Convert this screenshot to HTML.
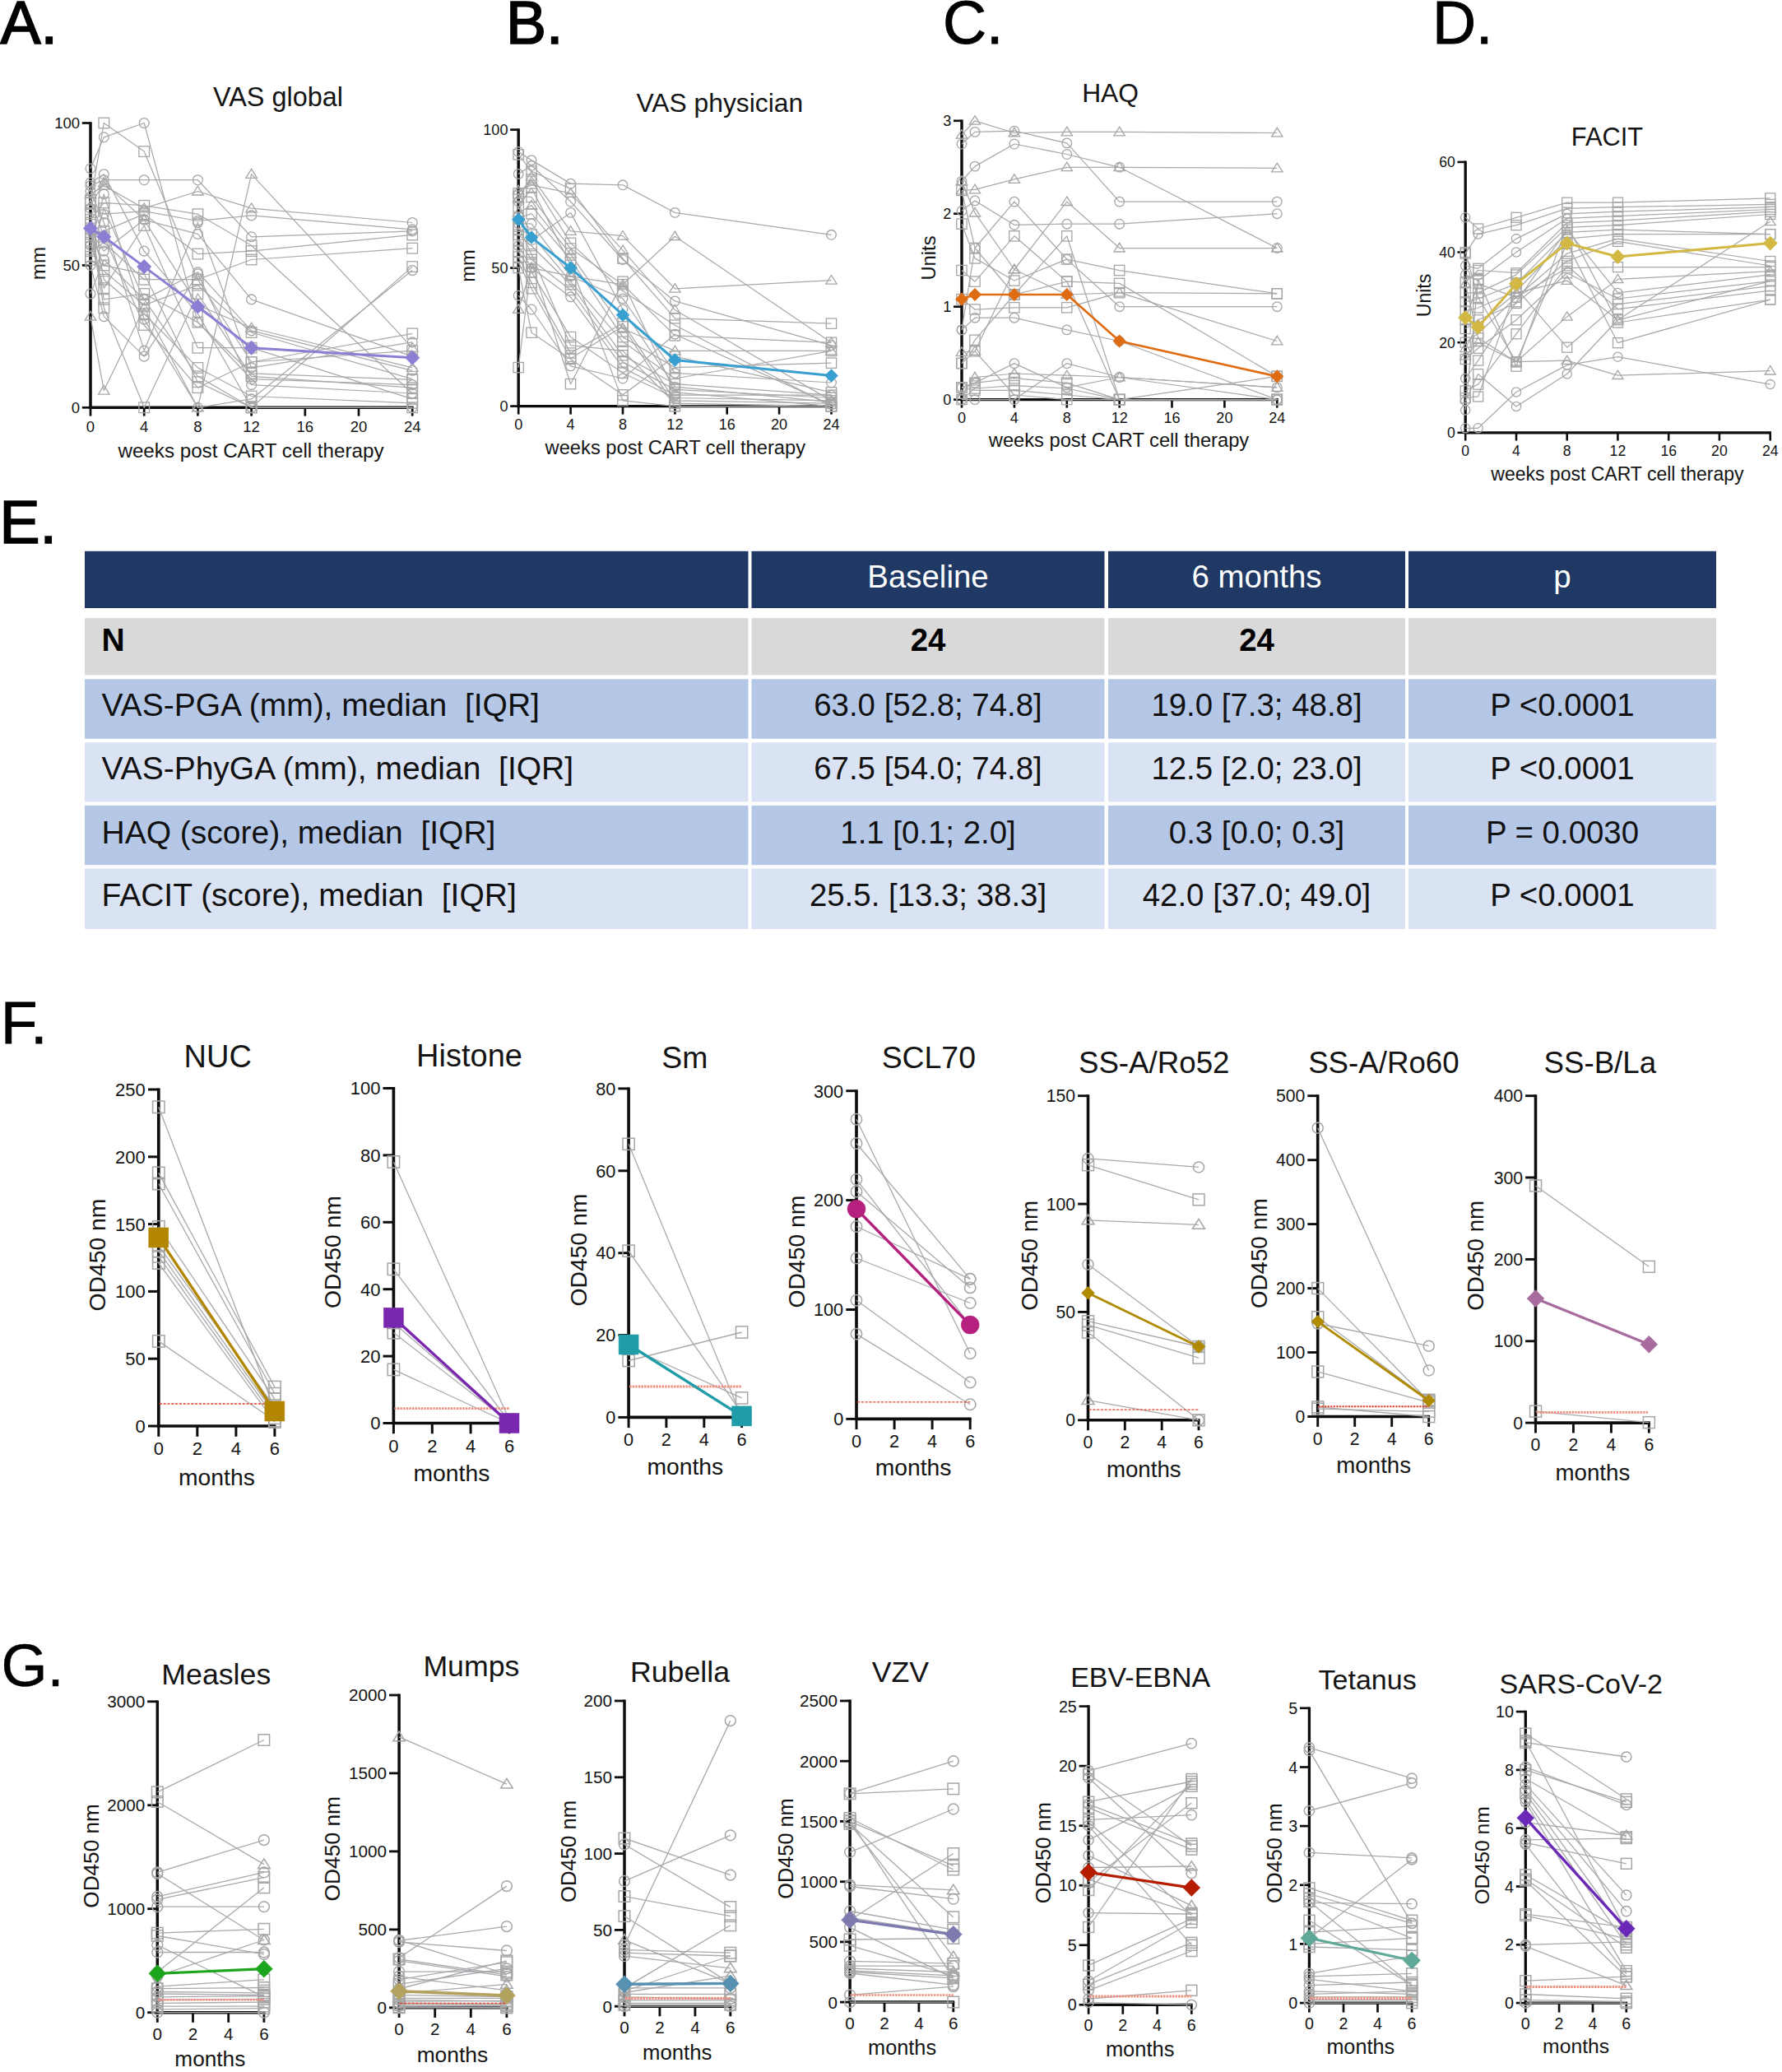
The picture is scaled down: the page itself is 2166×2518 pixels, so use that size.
<!DOCTYPE html>
<html lang="en"><head><meta charset="utf-8"><title>CAR T cell therapy outcomes</title>
<style>html,body{margin:0;padding:0;background:#fff}svg{display:block}text{font-family:"Liberation Sans", Arial, Helvetica, sans-serif;white-space:pre}</style>
</head><body>
<svg width="2166" height="2518" viewBox="0 0 2166 2518">
<rect width="2166" height="2518" fill="#fff"/>
<text x="0.5" y="52.5" font-size="73.5" fill="#000" stroke="#000" stroke-width="1.7" stroke-linejoin="miter" xml:space="preserve">A.</text>
<text x="615" y="53.4" font-size="73.5" fill="#000" stroke="#000" stroke-width="1.7" stroke-linejoin="miter" xml:space="preserve">B.</text>
<text x="1146" y="53.4" font-size="73.5" fill="#000" stroke="#000" stroke-width="0.9" stroke-linejoin="miter" xml:space="preserve">C.</text>
<text x="1741" y="53.3" font-size="73.5" fill="#000" stroke="#000" stroke-width="0.9" stroke-linejoin="miter" xml:space="preserve">D.</text>
<text x="-0.5" y="660" font-size="73.5" fill="#000" stroke="#000" stroke-width="1.7" stroke-linejoin="miter" xml:space="preserve">E.</text>
<text x="1" y="1268.3" font-size="72.5" fill="#000" stroke="#000" stroke-width="1.0" stroke-linejoin="miter" xml:space="preserve">F.</text>
<text x="1.5" y="2048.5" font-size="72" fill="#000" stroke="#000" stroke-width="0.5" stroke-linejoin="miter" xml:space="preserve">G.</text>
<rect x="103" y="669.8" width="806.5" height="69.2" fill="#203864"/>
<rect x="913.5" y="669.8" width="429" height="69.2" fill="#203864"/>
<rect x="1347" y="669.8" width="361" height="69.2" fill="#203864"/>
<rect x="1712" y="669.8" width="374" height="69.2" fill="#203864"/>
<text x="1128" y="714.2" font-size="38.4" text-anchor="middle" fill="#ffffff" xml:space="preserve">Baseline</text>
<text x="1527.5" y="714.2" font-size="38.4" text-anchor="middle" fill="#ffffff" xml:space="preserve">6 months</text>
<text x="1899" y="714.2" font-size="38.4" text-anchor="middle" fill="#ffffff" xml:space="preserve">p</text>
<rect x="103" y="751.2" width="806.5" height="69.2" fill="#d9d9d9"/>
<rect x="913.5" y="751.2" width="429" height="69.2" fill="#d9d9d9"/>
<rect x="1347" y="751.2" width="361" height="69.2" fill="#d9d9d9"/>
<rect x="1712" y="751.2" width="374" height="69.2" fill="#d9d9d9"/>
<text x="123.5" y="791.4" font-size="39" font-weight="bold" fill="#000000" xml:space="preserve">N</text>
<text x="1128" y="791.4" font-size="38.4" text-anchor="middle" font-weight="bold" fill="#000000" xml:space="preserve">24</text>
<text x="1527.5" y="791.4" font-size="38.4" text-anchor="middle" font-weight="bold" fill="#000000" xml:space="preserve">24</text>
<rect x="103" y="825.3" width="806.5" height="72.4" fill="#b4c7e7"/>
<rect x="913.5" y="825.3" width="429" height="72.4" fill="#b4c7e7"/>
<rect x="1347" y="825.3" width="361" height="72.4" fill="#b4c7e7"/>
<rect x="1712" y="825.3" width="374" height="72.4" fill="#b4c7e7"/>
<text x="123.5" y="869.6" font-size="39" fill="#111111" xml:space="preserve">VAS-PGA (mm), median  [IQR]</text>
<text x="1128" y="869.6" font-size="38.4" text-anchor="middle" fill="#111111" xml:space="preserve">63.0 [52.8; 74.8]</text>
<text x="1527.5" y="869.6" font-size="38.4" text-anchor="middle" fill="#111111" xml:space="preserve">19.0 [7.3; 48.8]</text>
<text x="1899" y="869.6" font-size="38.4" text-anchor="middle" fill="#111111" xml:space="preserve">P &lt;0.0001</text>
<rect x="103" y="902.4" width="806.5" height="72" fill="#dae3f3"/>
<rect x="913.5" y="902.4" width="429" height="72" fill="#dae3f3"/>
<rect x="1347" y="902.4" width="361" height="72" fill="#dae3f3"/>
<rect x="1712" y="902.4" width="374" height="72" fill="#dae3f3"/>
<text x="123.5" y="947" font-size="39" fill="#111111" xml:space="preserve">VAS-PhyGA (mm), median  [IQR]</text>
<text x="1128" y="947" font-size="38.4" text-anchor="middle" fill="#111111" xml:space="preserve">67.5 [54.0; 74.8]</text>
<text x="1527.5" y="947" font-size="38.4" text-anchor="middle" fill="#111111" xml:space="preserve">12.5 [2.0; 23.0]</text>
<text x="1899" y="947" font-size="38.4" text-anchor="middle" fill="#111111" xml:space="preserve">P &lt;0.0001</text>
<rect x="103" y="979" width="806.5" height="72.2" fill="#b4c7e7"/>
<rect x="913.5" y="979" width="429" height="72.2" fill="#b4c7e7"/>
<rect x="1347" y="979" width="361" height="72.2" fill="#b4c7e7"/>
<rect x="1712" y="979" width="374" height="72.2" fill="#b4c7e7"/>
<text x="123.5" y="1024.6" font-size="39" fill="#111111" xml:space="preserve">HAQ (score), median  [IQR]</text>
<text x="1128" y="1024.6" font-size="38.4" text-anchor="middle" fill="#111111" xml:space="preserve">1.1 [0.1; 2.0]</text>
<text x="1527.5" y="1024.6" font-size="38.4" text-anchor="middle" fill="#111111" xml:space="preserve">0.3 [0.0; 0.3]</text>
<text x="1899" y="1024.6" font-size="38.4" text-anchor="middle" fill="#111111" xml:space="preserve">P = 0.0030</text>
<rect x="103" y="1055.6" width="806.5" height="73.4" fill="#dae3f3"/>
<rect x="913.5" y="1055.6" width="429" height="73.4" fill="#dae3f3"/>
<rect x="1347" y="1055.6" width="361" height="73.4" fill="#dae3f3"/>
<rect x="1712" y="1055.6" width="374" height="73.4" fill="#dae3f3"/>
<text x="123.5" y="1101.2" font-size="39" fill="#111111" xml:space="preserve">FACIT (score), median  [IQR]</text>
<text x="1128" y="1101.2" font-size="38.4" text-anchor="middle" fill="#111111" xml:space="preserve">25.5. [13.3; 38.3]</text>
<text x="1527.5" y="1101.2" font-size="38.4" text-anchor="middle" fill="#111111" xml:space="preserve">42.0 [37.0; 49.0]</text>
<text x="1899" y="1101.2" font-size="38.4" text-anchor="middle" fill="#111111" xml:space="preserve">P &lt;0.0001</text>
<g>
<path d="M110 148.2 V495.3 H502.6" fill="none" stroke="#0d0d0d" stroke-width="3.5" stroke-linejoin="miter"/>
<path d="M99.8 495.3 H110" stroke="#0d0d0d" stroke-width="2.7"/>
<text x="97" y="501.9" font-size="18.5" text-anchor="end" fill="#141414" xml:space="preserve">0</text>
<path d="M99.8 322.4 H110" stroke="#0d0d0d" stroke-width="2.7"/>
<text x="97" y="329" font-size="18.5" text-anchor="end" fill="#141414" xml:space="preserve">50</text>
<path d="M99.8 149.5 H110" stroke="#0d0d0d" stroke-width="2.7"/>
<text x="97" y="156.1" font-size="18.5" text-anchor="end" fill="#141414" xml:space="preserve">100</text>
<path d="M110 495.3 V505.6" stroke="#0d0d0d" stroke-width="2.7"/>
<text x="110" y="524.6" font-size="18.5" text-anchor="middle" fill="#141414" xml:space="preserve">0</text>
<path d="M175.2 495.3 V505.6" stroke="#0d0d0d" stroke-width="2.7"/>
<text x="175.2" y="524.6" font-size="18.5" text-anchor="middle" fill="#141414" xml:space="preserve">4</text>
<path d="M240.4 495.3 V505.6" stroke="#0d0d0d" stroke-width="2.7"/>
<text x="240.4" y="524.6" font-size="18.5" text-anchor="middle" fill="#141414" xml:space="preserve">8</text>
<path d="M305.6 495.3 V505.6" stroke="#0d0d0d" stroke-width="2.7"/>
<text x="305.6" y="524.6" font-size="18.5" text-anchor="middle" fill="#141414" xml:space="preserve">12</text>
<path d="M370.8 495.3 V505.6" stroke="#0d0d0d" stroke-width="2.7"/>
<text x="370.8" y="524.6" font-size="18.5" text-anchor="middle" fill="#141414" xml:space="preserve">16</text>
<path d="M436 495.3 V505.6" stroke="#0d0d0d" stroke-width="2.7"/>
<text x="436" y="524.6" font-size="18.5" text-anchor="middle" fill="#141414" xml:space="preserve">20</text>
<path d="M501.2 495.3 V505.6" stroke="#0d0d0d" stroke-width="2.7"/>
<text x="501.2" y="524.6" font-size="18.5" text-anchor="middle" fill="#141414" xml:space="preserve">24</text>
<text x="338" y="128.6" font-size="32.4" text-anchor="middle" fill="#141414" xml:space="preserve">VAS global</text>
<text x="305" y="555.5" font-size="24.2" text-anchor="middle" fill="#141414" xml:space="preserve">weeks post CART cell therapy</text>
<text x="55" y="320" font-size="24.2" text-anchor="middle" fill="#141414" transform="rotate(-90 55 320)" xml:space="preserve">mm</text>
<g fill="none" stroke="#a9a9ad" stroke-width="1.25" stroke-linejoin="round">
<path d="M110 246.3 L126.3 149.5 L175.2 184.1 L240.4 339.7 L305.6 440 L501.2 405.4"/>
<path d="M110 204.8 L126.3 166.8 L175.2 149.5 L240.4 391.6 L305.6 460.7 L501.2 467.6"/>
<path d="M110 225.6 L126.3 218.7 L175.2 218.7 L240.4 218.7 L305.6 287.8 L501.2 280.9"/>
<path d="M110 235.9 L126.3 225.6 L175.2 253.2 L240.4 232.5 L305.6 253.2 L501.2 270.5"/>
<path d="M110 384.6 L126.3 474.6 L175.2 374.3 L240.4 495.3 L305.6 211.7 L501.2 422.7"/>
<path d="M110 267.1 L126.3 246.3 L175.2 249.8 L240.4 260.2 L305.6 298.2 L501.2 478"/>
<path d="M110 253.2 L126.3 260.2 L175.2 256.7 L240.4 268.5 L305.6 261.9 L501.2 278.8"/>
<path d="M110 287.8 L126.3 280.9 L175.2 260.2 L240.4 308.6 L305.6 305.1 L501.2 285.4"/>
<path d="M110 305.1 L126.3 294.7 L175.2 339.7 L240.4 339.7 L305.6 315.5 L501.2 301.7"/>
<path d="M110 280.9 L126.3 305.1 L175.2 267.1 L240.4 284.4 L305.6 363.9 L501.2 433.1"/>
<path d="M110 357 L126.3 315.5 L175.2 363.9 L240.4 330.7 L305.6 401.9 L501.2 450.3"/>
<path d="M110 315.5 L126.3 329.3 L175.2 370.8 L240.4 346.6 L305.6 404 L501.2 460.7"/>
<path d="M110 232.5 L126.3 270.5 L175.2 426.1 L240.4 270.5 L305.6 446.9 L501.2 415.8"/>
<path d="M110 322.4 L126.3 384.6 L175.2 433.1 L240.4 332.8 L305.6 467.6 L501.2 478"/>
<path d="M110 294.7 L126.3 350.1 L175.2 274 L240.4 422.7 L305.6 422.7 L501.2 484.9"/>
<path d="M110 277.4 L126.3 374.3 L175.2 495.3 L240.4 357 L305.6 457.3 L501.2 471.1"/>
<path d="M110 260.2 L126.3 339.7 L175.2 381.2 L240.4 446.9 L305.6 481.5 L501.2 489.8"/>
<path d="M110 312 L126.3 253.2 L175.2 363.9 L240.4 457.3 L305.6 495.3 L501.2 324.1"/>
<path d="M110 298.2 L126.3 235.9 L175.2 388.1 L240.4 495.3 L305.6 484.9 L501.2 328.6"/>
<path d="M110 242.9 L126.3 287.8 L175.2 395 L240.4 471.1 L305.6 440 L501.2 426.1"/>
<path d="M110 284.4 L126.3 322.4 L175.2 332.8 L240.4 464.2 L305.6 495.3 L501.2 495.3"/>
<path d="M110 249.8 L126.3 222.1 L175.2 267.1 L240.4 370.8 L305.6 398.5 L501.2 446.9"/>
<path d="M110 270.5 L126.3 363.9 L175.2 357 L240.4 391.6 L305.6 453.8 L501.2 461.4"/>
<path d="M110 222.1 L126.3 211.7 L175.2 305.1 L240.4 381.2 L305.6 495.3 L501.2 495.3"/>
</g>
<g>
<rect x="103.7" y="240" width="12.6" height="12.6" fill="none" stroke="#a6a6a6" stroke-width="1.3"/>
<rect x="120" y="143.2" width="12.6" height="12.6" fill="none" stroke="#a6a6a6" stroke-width="1.3"/>
<rect x="168.9" y="177.8" width="12.6" height="12.6" fill="none" stroke="#a6a6a6" stroke-width="1.3"/>
<rect x="234.1" y="333.4" width="12.6" height="12.6" fill="none" stroke="#a6a6a6" stroke-width="1.3"/>
<rect x="299.3" y="433.7" width="12.6" height="12.6" fill="none" stroke="#a6a6a6" stroke-width="1.3"/>
<rect x="494.9" y="399.1" width="12.6" height="12.6" fill="none" stroke="#a6a6a6" stroke-width="1.3"/>
<circle cx="110" cy="204.8" r="5.9" fill="none" stroke="#a6a6a6" stroke-width="1.3"/>
<circle cx="126.3" cy="166.8" r="5.9" fill="none" stroke="#a6a6a6" stroke-width="1.3"/>
<circle cx="175.2" cy="149.5" r="5.9" fill="none" stroke="#a6a6a6" stroke-width="1.3"/>
<circle cx="240.4" cy="391.6" r="5.9" fill="none" stroke="#a6a6a6" stroke-width="1.3"/>
<circle cx="305.6" cy="460.7" r="5.9" fill="none" stroke="#a6a6a6" stroke-width="1.3"/>
<circle cx="501.2" cy="467.6" r="5.9" fill="none" stroke="#a6a6a6" stroke-width="1.3"/>
<circle cx="110" cy="225.6" r="5.9" fill="none" stroke="#a6a6a6" stroke-width="1.3"/>
<circle cx="126.3" cy="218.7" r="5.9" fill="none" stroke="#a6a6a6" stroke-width="1.3"/>
<circle cx="175.2" cy="218.7" r="5.9" fill="none" stroke="#a6a6a6" stroke-width="1.3"/>
<circle cx="240.4" cy="218.7" r="5.9" fill="none" stroke="#a6a6a6" stroke-width="1.3"/>
<circle cx="305.6" cy="287.8" r="5.9" fill="none" stroke="#a6a6a6" stroke-width="1.3"/>
<circle cx="501.2" cy="280.9" r="5.9" fill="none" stroke="#a6a6a6" stroke-width="1.3"/>
<path d="M110 229.6 L116.8 240.5 L103.2 240.5 Z" fill="none" stroke="#a6a6a6" stroke-width="1.3"/>
<path d="M126.3 219.3 L133.1 230.1 L119.5 230.1 Z" fill="none" stroke="#a6a6a6" stroke-width="1.3"/>
<path d="M175.2 246.9 L182 257.8 L168.4 257.8 Z" fill="none" stroke="#a6a6a6" stroke-width="1.3"/>
<path d="M240.4 226.2 L247.2 237 L233.6 237 Z" fill="none" stroke="#a6a6a6" stroke-width="1.3"/>
<path d="M305.6 246.9 L312.4 257.8 L298.8 257.8 Z" fill="none" stroke="#a6a6a6" stroke-width="1.3"/>
<circle cx="501.2" cy="270.5" r="5.9" fill="none" stroke="#a6a6a6" stroke-width="1.3"/>
<path d="M110 378.3 L116.8 389.2 L103.2 389.2 Z" fill="none" stroke="#a6a6a6" stroke-width="1.3"/>
<path d="M126.3 468.3 L133.1 479.1 L119.5 479.1 Z" fill="none" stroke="#a6a6a6" stroke-width="1.3"/>
<path d="M175.2 368 L182 378.8 L168.4 378.8 Z" fill="none" stroke="#a6a6a6" stroke-width="1.3"/>
<path d="M240.4 489 L247.2 499.8 L233.6 499.8 Z" fill="none" stroke="#a6a6a6" stroke-width="1.3"/>
<path d="M305.6 205.4 L312.4 216.3 L298.8 216.3 Z" fill="none" stroke="#a6a6a6" stroke-width="1.3"/>
<path d="M501.2 416.4 L508 427.2 L494.4 427.2 Z" fill="none" stroke="#a6a6a6" stroke-width="1.3"/>
<rect x="103.7" y="260.8" width="12.6" height="12.6" fill="none" stroke="#a6a6a6" stroke-width="1.3"/>
<rect x="120" y="240" width="12.6" height="12.6" fill="none" stroke="#a6a6a6" stroke-width="1.3"/>
<rect x="168.9" y="243.5" width="12.6" height="12.6" fill="none" stroke="#a6a6a6" stroke-width="1.3"/>
<rect x="234.1" y="253.9" width="12.6" height="12.6" fill="none" stroke="#a6a6a6" stroke-width="1.3"/>
<rect x="299.3" y="291.9" width="12.6" height="12.6" fill="none" stroke="#a6a6a6" stroke-width="1.3"/>
<rect x="494.9" y="471.7" width="12.6" height="12.6" fill="none" stroke="#a6a6a6" stroke-width="1.3"/>
<circle cx="110" cy="253.2" r="5.9" fill="none" stroke="#a6a6a6" stroke-width="1.3"/>
<circle cx="126.3" cy="260.2" r="5.9" fill="none" stroke="#a6a6a6" stroke-width="1.3"/>
<circle cx="175.2" cy="256.7" r="5.9" fill="none" stroke="#a6a6a6" stroke-width="1.3"/>
<circle cx="240.4" cy="268.5" r="5.9" fill="none" stroke="#a6a6a6" stroke-width="1.3"/>
<circle cx="305.6" cy="261.9" r="5.9" fill="none" stroke="#a6a6a6" stroke-width="1.3"/>
<circle cx="501.2" cy="278.8" r="5.9" fill="none" stroke="#a6a6a6" stroke-width="1.3"/>
<rect x="103.7" y="281.5" width="12.6" height="12.6" fill="none" stroke="#a6a6a6" stroke-width="1.3"/>
<rect x="120" y="274.6" width="12.6" height="12.6" fill="none" stroke="#a6a6a6" stroke-width="1.3"/>
<rect x="168.9" y="253.9" width="12.6" height="12.6" fill="none" stroke="#a6a6a6" stroke-width="1.3"/>
<rect x="234.1" y="302.3" width="12.6" height="12.6" fill="none" stroke="#a6a6a6" stroke-width="1.3"/>
<rect x="299.3" y="298.8" width="12.6" height="12.6" fill="none" stroke="#a6a6a6" stroke-width="1.3"/>
<rect x="494.9" y="279.1" width="12.6" height="12.6" fill="none" stroke="#a6a6a6" stroke-width="1.3"/>
<rect x="103.7" y="298.8" width="12.6" height="12.6" fill="none" stroke="#a6a6a6" stroke-width="1.3"/>
<rect x="120" y="288.4" width="12.6" height="12.6" fill="none" stroke="#a6a6a6" stroke-width="1.3"/>
<rect x="168.9" y="333.4" width="12.6" height="12.6" fill="none" stroke="#a6a6a6" stroke-width="1.3"/>
<rect x="234.1" y="333.4" width="12.6" height="12.6" fill="none" stroke="#a6a6a6" stroke-width="1.3"/>
<rect x="299.3" y="309.2" width="12.6" height="12.6" fill="none" stroke="#a6a6a6" stroke-width="1.3"/>
<rect x="494.9" y="295.4" width="12.6" height="12.6" fill="none" stroke="#a6a6a6" stroke-width="1.3"/>
<circle cx="110" cy="280.9" r="5.9" fill="none" stroke="#a6a6a6" stroke-width="1.3"/>
<circle cx="126.3" cy="305.1" r="5.9" fill="none" stroke="#a6a6a6" stroke-width="1.3"/>
<circle cx="175.2" cy="267.1" r="5.9" fill="none" stroke="#a6a6a6" stroke-width="1.3"/>
<circle cx="240.4" cy="284.4" r="5.9" fill="none" stroke="#a6a6a6" stroke-width="1.3"/>
<circle cx="305.6" cy="363.9" r="5.9" fill="none" stroke="#a6a6a6" stroke-width="1.3"/>
<circle cx="501.2" cy="433.1" r="5.9" fill="none" stroke="#a6a6a6" stroke-width="1.3"/>
<circle cx="110" cy="357" r="5.9" fill="none" stroke="#a6a6a6" stroke-width="1.3"/>
<circle cx="126.3" cy="315.5" r="5.9" fill="none" stroke="#a6a6a6" stroke-width="1.3"/>
<circle cx="175.2" cy="363.9" r="5.9" fill="none" stroke="#a6a6a6" stroke-width="1.3"/>
<circle cx="240.4" cy="330.7" r="5.9" fill="none" stroke="#a6a6a6" stroke-width="1.3"/>
<circle cx="305.6" cy="401.9" r="5.9" fill="none" stroke="#a6a6a6" stroke-width="1.3"/>
<circle cx="501.2" cy="450.3" r="5.9" fill="none" stroke="#a6a6a6" stroke-width="1.3"/>
<rect x="103.7" y="309.2" width="12.6" height="12.6" fill="none" stroke="#a6a6a6" stroke-width="1.3"/>
<rect x="120" y="323" width="12.6" height="12.6" fill="none" stroke="#a6a6a6" stroke-width="1.3"/>
<rect x="168.9" y="364.5" width="12.6" height="12.6" fill="none" stroke="#a6a6a6" stroke-width="1.3"/>
<rect x="234.1" y="340.3" width="12.6" height="12.6" fill="none" stroke="#a6a6a6" stroke-width="1.3"/>
<rect x="299.3" y="397.7" width="12.6" height="12.6" fill="none" stroke="#a6a6a6" stroke-width="1.3"/>
<rect x="494.9" y="454.4" width="12.6" height="12.6" fill="none" stroke="#a6a6a6" stroke-width="1.3"/>
<circle cx="110" cy="232.5" r="5.9" fill="none" stroke="#a6a6a6" stroke-width="1.3"/>
<circle cx="126.3" cy="270.5" r="5.9" fill="none" stroke="#a6a6a6" stroke-width="1.3"/>
<circle cx="175.2" cy="426.1" r="5.9" fill="none" stroke="#a6a6a6" stroke-width="1.3"/>
<circle cx="240.4" cy="270.5" r="5.9" fill="none" stroke="#a6a6a6" stroke-width="1.3"/>
<circle cx="305.6" cy="446.9" r="5.9" fill="none" stroke="#a6a6a6" stroke-width="1.3"/>
<circle cx="501.2" cy="415.8" r="5.9" fill="none" stroke="#a6a6a6" stroke-width="1.3"/>
<circle cx="110" cy="322.4" r="5.9" fill="none" stroke="#a6a6a6" stroke-width="1.3"/>
<circle cx="126.3" cy="384.6" r="5.9" fill="none" stroke="#a6a6a6" stroke-width="1.3"/>
<circle cx="175.2" cy="433.1" r="5.9" fill="none" stroke="#a6a6a6" stroke-width="1.3"/>
<circle cx="240.4" cy="332.8" r="5.9" fill="none" stroke="#a6a6a6" stroke-width="1.3"/>
<circle cx="305.6" cy="467.6" r="5.9" fill="none" stroke="#a6a6a6" stroke-width="1.3"/>
<circle cx="501.2" cy="478" r="5.9" fill="none" stroke="#a6a6a6" stroke-width="1.3"/>
<rect x="103.7" y="288.4" width="12.6" height="12.6" fill="none" stroke="#a6a6a6" stroke-width="1.3"/>
<rect x="120" y="343.8" width="12.6" height="12.6" fill="none" stroke="#a6a6a6" stroke-width="1.3"/>
<rect x="168.9" y="267.7" width="12.6" height="12.6" fill="none" stroke="#a6a6a6" stroke-width="1.3"/>
<rect x="234.1" y="416.4" width="12.6" height="12.6" fill="none" stroke="#a6a6a6" stroke-width="1.3"/>
<rect x="299.3" y="416.4" width="12.6" height="12.6" fill="none" stroke="#a6a6a6" stroke-width="1.3"/>
<rect x="494.9" y="478.6" width="12.6" height="12.6" fill="none" stroke="#a6a6a6" stroke-width="1.3"/>
<rect x="103.7" y="271.1" width="12.6" height="12.6" fill="none" stroke="#a6a6a6" stroke-width="1.3"/>
<rect x="120" y="368" width="12.6" height="12.6" fill="none" stroke="#a6a6a6" stroke-width="1.3"/>
<rect x="168.9" y="489" width="12.6" height="12.6" fill="none" stroke="#a6a6a6" stroke-width="1.3"/>
<rect x="234.1" y="350.7" width="12.6" height="12.6" fill="none" stroke="#a6a6a6" stroke-width="1.3"/>
<rect x="299.3" y="451" width="12.6" height="12.6" fill="none" stroke="#a6a6a6" stroke-width="1.3"/>
<rect x="494.9" y="464.8" width="12.6" height="12.6" fill="none" stroke="#a6a6a6" stroke-width="1.3"/>
<rect x="103.7" y="253.9" width="12.6" height="12.6" fill="none" stroke="#a6a6a6" stroke-width="1.3"/>
<rect x="120" y="333.4" width="12.6" height="12.6" fill="none" stroke="#a6a6a6" stroke-width="1.3"/>
<rect x="168.9" y="374.9" width="12.6" height="12.6" fill="none" stroke="#a6a6a6" stroke-width="1.3"/>
<rect x="234.1" y="440.6" width="12.6" height="12.6" fill="none" stroke="#a6a6a6" stroke-width="1.3"/>
<rect x="299.3" y="475.2" width="12.6" height="12.6" fill="none" stroke="#a6a6a6" stroke-width="1.3"/>
<rect x="494.9" y="483.5" width="12.6" height="12.6" fill="none" stroke="#a6a6a6" stroke-width="1.3"/>
<rect x="103.7" y="305.7" width="12.6" height="12.6" fill="none" stroke="#a6a6a6" stroke-width="1.3"/>
<rect x="120" y="246.9" width="12.6" height="12.6" fill="none" stroke="#a6a6a6" stroke-width="1.3"/>
<rect x="168.9" y="357.6" width="12.6" height="12.6" fill="none" stroke="#a6a6a6" stroke-width="1.3"/>
<rect x="234.1" y="451" width="12.6" height="12.6" fill="none" stroke="#a6a6a6" stroke-width="1.3"/>
<rect x="299.3" y="489" width="12.6" height="12.6" fill="none" stroke="#a6a6a6" stroke-width="1.3"/>
<rect x="494.9" y="317.8" width="12.6" height="12.6" fill="none" stroke="#a6a6a6" stroke-width="1.3"/>
<circle cx="110" cy="298.2" r="5.9" fill="none" stroke="#a6a6a6" stroke-width="1.3"/>
<circle cx="126.3" cy="235.9" r="5.9" fill="none" stroke="#a6a6a6" stroke-width="1.3"/>
<circle cx="175.2" cy="388.1" r="5.9" fill="none" stroke="#a6a6a6" stroke-width="1.3"/>
<circle cx="240.4" cy="495.3" r="5.9" fill="none" stroke="#a6a6a6" stroke-width="1.3"/>
<circle cx="305.6" cy="484.9" r="5.9" fill="none" stroke="#a6a6a6" stroke-width="1.3"/>
<circle cx="501.2" cy="328.6" r="5.9" fill="none" stroke="#a6a6a6" stroke-width="1.3"/>
<rect x="103.7" y="236.6" width="12.6" height="12.6" fill="none" stroke="#a6a6a6" stroke-width="1.3"/>
<rect x="120" y="281.5" width="12.6" height="12.6" fill="none" stroke="#a6a6a6" stroke-width="1.3"/>
<rect x="168.9" y="388.7" width="12.6" height="12.6" fill="none" stroke="#a6a6a6" stroke-width="1.3"/>
<rect x="234.1" y="464.8" width="12.6" height="12.6" fill="none" stroke="#a6a6a6" stroke-width="1.3"/>
<rect x="299.3" y="433.7" width="12.6" height="12.6" fill="none" stroke="#a6a6a6" stroke-width="1.3"/>
<rect x="494.9" y="419.8" width="12.6" height="12.6" fill="none" stroke="#a6a6a6" stroke-width="1.3"/>
<rect x="103.7" y="278.1" width="12.6" height="12.6" fill="none" stroke="#a6a6a6" stroke-width="1.3"/>
<rect x="120" y="316.1" width="12.6" height="12.6" fill="none" stroke="#a6a6a6" stroke-width="1.3"/>
<rect x="168.9" y="326.5" width="12.6" height="12.6" fill="none" stroke="#a6a6a6" stroke-width="1.3"/>
<rect x="234.1" y="457.9" width="12.6" height="12.6" fill="none" stroke="#a6a6a6" stroke-width="1.3"/>
<rect x="299.3" y="489" width="12.6" height="12.6" fill="none" stroke="#a6a6a6" stroke-width="1.3"/>
<rect x="494.9" y="489" width="12.6" height="12.6" fill="none" stroke="#a6a6a6" stroke-width="1.3"/>
<path d="M110 243.5 L116.8 254.3 L103.2 254.3 Z" fill="none" stroke="#a6a6a6" stroke-width="1.3"/>
<path d="M126.3 215.8 L133.1 226.7 L119.5 226.7 Z" fill="none" stroke="#a6a6a6" stroke-width="1.3"/>
<path d="M175.2 260.8 L182 271.6 L168.4 271.6 Z" fill="none" stroke="#a6a6a6" stroke-width="1.3"/>
<path d="M240.4 364.5 L247.2 375.3 L233.6 375.3 Z" fill="none" stroke="#a6a6a6" stroke-width="1.3"/>
<path d="M305.6 392.2 L312.4 403 L298.8 403 Z" fill="none" stroke="#a6a6a6" stroke-width="1.3"/>
<path d="M501.2 440.6 L508 451.4 L494.4 451.4 Z" fill="none" stroke="#a6a6a6" stroke-width="1.3"/>
<rect x="103.7" y="264.2" width="12.6" height="12.6" fill="none" stroke="#a6a6a6" stroke-width="1.3"/>
<rect x="120" y="357.6" width="12.6" height="12.6" fill="none" stroke="#a6a6a6" stroke-width="1.3"/>
<rect x="168.9" y="350.7" width="12.6" height="12.6" fill="none" stroke="#a6a6a6" stroke-width="1.3"/>
<rect x="234.1" y="385.3" width="12.6" height="12.6" fill="none" stroke="#a6a6a6" stroke-width="1.3"/>
<rect x="299.3" y="447.5" width="12.6" height="12.6" fill="none" stroke="#a6a6a6" stroke-width="1.3"/>
<rect x="494.9" y="455.1" width="12.6" height="12.6" fill="none" stroke="#a6a6a6" stroke-width="1.3"/>
<circle cx="110" cy="222.1" r="5.9" fill="none" stroke="#a6a6a6" stroke-width="1.3"/>
<circle cx="126.3" cy="211.7" r="5.9" fill="none" stroke="#a6a6a6" stroke-width="1.3"/>
<circle cx="175.2" cy="305.1" r="5.9" fill="none" stroke="#a6a6a6" stroke-width="1.3"/>
<circle cx="240.4" cy="381.2" r="5.9" fill="none" stroke="#a6a6a6" stroke-width="1.3"/>
<circle cx="305.6" cy="495.3" r="5.9" fill="none" stroke="#a6a6a6" stroke-width="1.3"/>
<circle cx="501.2" cy="495.3" r="5.9" fill="none" stroke="#a6a6a6" stroke-width="1.3"/>
</g>
<path d="M110 277.4 L126.3 287.8 L175.2 324.1 L240.4 372.5 L305.6 422.7 L501.2 434.8" fill="none" stroke="#8a7fd3" stroke-width="3.0" stroke-linejoin="round"/>
<path d="M110 268.6 L118.8 277.4 L110 286.2 L101.2 277.4 Z" fill="#8a7fd3" stroke="#8a7fd3" stroke-width="0.5"/>
<path d="M126.3 279 L135.1 287.8 L126.3 296.6 L117.5 287.8 Z" fill="#8a7fd3" stroke="#8a7fd3" stroke-width="0.5"/>
<path d="M175.2 315.3 L184 324.1 L175.2 332.9 L166.4 324.1 Z" fill="#8a7fd3" stroke="#8a7fd3" stroke-width="0.5"/>
<path d="M240.4 363.7 L249.2 372.5 L240.4 381.3 L231.6 372.5 Z" fill="#8a7fd3" stroke="#8a7fd3" stroke-width="0.5"/>
<path d="M305.6 413.9 L314.4 422.7 L305.6 431.5 L296.8 422.7 Z" fill="#8a7fd3" stroke="#8a7fd3" stroke-width="0.5"/>
<path d="M501.2 426 L510 434.8 L501.2 443.6 L492.4 434.8 Z" fill="#8a7fd3" stroke="#8a7fd3" stroke-width="0.5"/>
</g>
<g>
<path d="M630.2 156.3 V493.6 H1011.8" fill="none" stroke="#0d0d0d" stroke-width="3.4299999999999997" stroke-linejoin="miter"/>
<path d="M620.2 493.6 H630.2" stroke="#0d0d0d" stroke-width="2.646"/>
<text x="617.5" y="500.1" font-size="18.1" text-anchor="end" fill="#141414" xml:space="preserve">0</text>
<path d="M620.2 325.6 H630.2" stroke="#0d0d0d" stroke-width="2.646"/>
<text x="617.5" y="332.1" font-size="18.1" text-anchor="end" fill="#141414" xml:space="preserve">50</text>
<path d="M620.2 157.6 H630.2" stroke="#0d0d0d" stroke-width="2.646"/>
<text x="617.5" y="164.1" font-size="18.1" text-anchor="end" fill="#141414" xml:space="preserve">100</text>
<path d="M630.2 493.6 V503.6" stroke="#0d0d0d" stroke-width="2.646"/>
<text x="630.2" y="522.3" font-size="18.1" text-anchor="middle" fill="#141414" xml:space="preserve">0</text>
<path d="M693.6 493.6 V503.6" stroke="#0d0d0d" stroke-width="2.646"/>
<text x="693.6" y="522.3" font-size="18.1" text-anchor="middle" fill="#141414" xml:space="preserve">4</text>
<path d="M757 493.6 V503.6" stroke="#0d0d0d" stroke-width="2.646"/>
<text x="757" y="522.3" font-size="18.1" text-anchor="middle" fill="#141414" xml:space="preserve">8</text>
<path d="M820.4 493.6 V503.6" stroke="#0d0d0d" stroke-width="2.646"/>
<text x="820.4" y="522.3" font-size="18.1" text-anchor="middle" fill="#141414" xml:space="preserve">12</text>
<path d="M883.7 493.6 V503.6" stroke="#0d0d0d" stroke-width="2.646"/>
<text x="883.7" y="522.3" font-size="18.1" text-anchor="middle" fill="#141414" xml:space="preserve">16</text>
<path d="M947.1 493.6 V503.6" stroke="#0d0d0d" stroke-width="2.646"/>
<text x="947.1" y="522.3" font-size="18.1" text-anchor="middle" fill="#141414" xml:space="preserve">20</text>
<path d="M1010.5 493.6 V503.6" stroke="#0d0d0d" stroke-width="2.646"/>
<text x="1010.5" y="522.3" font-size="18.1" text-anchor="middle" fill="#141414" xml:space="preserve">24</text>
<text x="874.8" y="135.8" font-size="31.8" text-anchor="middle" fill="#141414" xml:space="preserve">VAS physician</text>
<text x="820.8" y="552" font-size="23.7" text-anchor="middle" fill="#141414" xml:space="preserve">weeks post CART cell therapy</text>
<text x="577" y="323" font-size="23.7" text-anchor="middle" fill="#141414" transform="rotate(-90 577 323)" xml:space="preserve">mm</text>
<g fill="none" stroke="#a9a9ad" stroke-width="1.25" stroke-linejoin="round">
<path d="M630.2 184.5 L646 194.6 L693.6 223.1 L757 224.8 L820.4 258.4 L1010.5 285.3"/>
<path d="M630.2 241.6 L646 214.7 L693.6 280.9 L757 286.6 L820.4 350.8 L1010.5 340.7"/>
<path d="M630.2 376 L646 325.6 L693.6 335.7 L757 345.8 L820.4 287.3 L1010.5 416.3"/>
<path d="M630.2 211.4 L646 201.3 L693.6 245 L757 315.5 L820.4 365.9 L1010.5 419.7"/>
<path d="M630.2 231.5 L646 224.8 L693.6 234.9 L757 304.1 L820.4 376.7 L1010.5 486.9"/>
<path d="M630.2 187.8 L646 208 L693.6 229.5 L757 314.2 L820.4 386.8 L1010.5 393.1"/>
<path d="M630.2 234.9 L646 218.1 L693.6 295.4 L757 353.8 L820.4 395.2 L1010.5 493.6"/>
<path d="M630.2 238.2 L646 239.6 L693.6 302.1 L757 345.8 L820.4 407.9 L1010.5 416.3"/>
<path d="M630.2 258.4 L646 249.7 L693.6 308.8 L757 399.5 L820.4 426.4 L1010.5 426.4"/>
<path d="M630.2 265.1 L646 259.7 L693.6 315.5 L757 409.6 L820.4 446.6 L1010.5 441.2"/>
<path d="M630.2 271.8 L646 271.8 L693.6 335.7 L757 362.9 L820.4 453.3 L1010.5 465"/>
<path d="M630.2 278.6 L646 285.3 L693.6 342.4 L757 415.3 L820.4 460 L1010.5 426.4"/>
<path d="M630.2 285.3 L646 298.7 L693.6 345.8 L757 431.8 L820.4 466.7 L1010.5 480.2"/>
<path d="M630.2 292 L646 315.5 L693.6 352.5 L757 439.8 L820.4 473.4 L1010.5 483.5"/>
<path d="M630.2 298.7 L646 325.6 L693.6 360.9 L757 446.6 L820.4 480.2 L1010.5 480.2"/>
<path d="M630.2 305.4 L646 330.6 L693.6 409.6 L757 453.3 L820.4 483.5 L1010.5 486.9"/>
<path d="M630.2 312.2 L646 343.4 L693.6 429.1 L757 392.8 L820.4 486.9 L1010.5 490.2"/>
<path d="M630.2 318.9 L646 350.8 L693.6 435.5 L757 396.8 L820.4 493.6 L1010.5 493.6"/>
<path d="M630.2 359.2 L646 376 L693.6 444.9 L757 460 L820.4 406.2 L1010.5 491.9"/>
<path d="M630.2 446.6 L646 318.9 L693.6 466.7 L757 342.4 L820.4 476.8 L1010.5 493.6"/>
<path d="M630.2 325.6 L646 404.2 L693.6 436.5 L757 479.8 L820.4 433.1 L1010.5 476.8"/>
<path d="M630.2 251.7 L646 228.2 L693.6 322.2 L757 486.9 L820.4 493.6 L1010.5 493.6"/>
<path d="M630.2 245 L646 292 L693.6 258.4 L757 376 L820.4 470.1 L1010.5 488.6"/>
<path d="M630.2 275.2 L646 308.8 L693.6 419.7 L757 426.4 L820.4 490.2 L1010.5 493.6"/>
</g>
<g>
<circle cx="630.2" cy="184.5" r="5.8" fill="none" stroke="#a6a6a6" stroke-width="1.3"/>
<circle cx="646" cy="194.6" r="5.8" fill="none" stroke="#a6a6a6" stroke-width="1.3"/>
<circle cx="693.6" cy="223.1" r="5.8" fill="none" stroke="#a6a6a6" stroke-width="1.3"/>
<circle cx="757" cy="224.8" r="5.8" fill="none" stroke="#a6a6a6" stroke-width="1.3"/>
<circle cx="820.4" cy="258.4" r="5.8" fill="none" stroke="#a6a6a6" stroke-width="1.3"/>
<circle cx="1010.5" cy="285.3" r="5.8" fill="none" stroke="#a6a6a6" stroke-width="1.3"/>
<path d="M630.2 235.4 L636.9 246 L623.5 246 Z" fill="none" stroke="#a6a6a6" stroke-width="1.3"/>
<path d="M646 208.5 L652.7 219.2 L639.4 219.2 Z" fill="none" stroke="#a6a6a6" stroke-width="1.3"/>
<path d="M693.6 274.7 L700.3 285.4 L686.9 285.4 Z" fill="none" stroke="#a6a6a6" stroke-width="1.3"/>
<path d="M757 280.5 L763.6 291.1 L750.3 291.1 Z" fill="none" stroke="#a6a6a6" stroke-width="1.3"/>
<path d="M820.4 344.6 L827 355.2 L813.7 355.2 Z" fill="none" stroke="#a6a6a6" stroke-width="1.3"/>
<path d="M1010.5 334.5 L1017.2 345.2 L1003.8 345.2 Z" fill="none" stroke="#a6a6a6" stroke-width="1.3"/>
<path d="M630.2 369.8 L636.9 380.4 L623.5 380.4 Z" fill="none" stroke="#a6a6a6" stroke-width="1.3"/>
<path d="M646 319.4 L652.7 330 L639.4 330 Z" fill="none" stroke="#a6a6a6" stroke-width="1.3"/>
<path d="M693.6 329.5 L700.3 340.1 L686.9 340.1 Z" fill="none" stroke="#a6a6a6" stroke-width="1.3"/>
<path d="M757 339.6 L763.6 350.2 L750.3 350.2 Z" fill="none" stroke="#a6a6a6" stroke-width="1.3"/>
<path d="M820.4 281.1 L827 291.7 L813.7 291.7 Z" fill="none" stroke="#a6a6a6" stroke-width="1.3"/>
<path d="M1010.5 410.1 L1017.2 420.8 L1003.8 420.8 Z" fill="none" stroke="#a6a6a6" stroke-width="1.3"/>
<circle cx="630.2" cy="211.4" r="5.8" fill="none" stroke="#a6a6a6" stroke-width="1.3"/>
<circle cx="646" cy="201.3" r="5.8" fill="none" stroke="#a6a6a6" stroke-width="1.3"/>
<circle cx="693.6" cy="245" r="5.8" fill="none" stroke="#a6a6a6" stroke-width="1.3"/>
<circle cx="757" cy="315.5" r="5.8" fill="none" stroke="#a6a6a6" stroke-width="1.3"/>
<circle cx="820.4" cy="365.9" r="5.8" fill="none" stroke="#a6a6a6" stroke-width="1.3"/>
<circle cx="1010.5" cy="419.7" r="5.8" fill="none" stroke="#a6a6a6" stroke-width="1.3"/>
<path d="M630.2 225.3 L636.9 236 L623.5 236 Z" fill="none" stroke="#a6a6a6" stroke-width="1.3"/>
<path d="M646 218.6 L652.7 229.2 L639.4 229.2 Z" fill="none" stroke="#a6a6a6" stroke-width="1.3"/>
<path d="M693.6 228.7 L700.3 239.3 L686.9 239.3 Z" fill="none" stroke="#a6a6a6" stroke-width="1.3"/>
<path d="M757 297.9 L763.6 308.5 L750.3 308.5 Z" fill="none" stroke="#a6a6a6" stroke-width="1.3"/>
<path d="M820.4 370.5 L827 381.1 L813.7 381.1 Z" fill="none" stroke="#a6a6a6" stroke-width="1.3"/>
<path d="M1010.5 480.7 L1017.2 491.3 L1003.8 491.3 Z" fill="none" stroke="#a6a6a6" stroke-width="1.3"/>
<rect x="624" y="181.7" width="12.3" height="12.3" fill="none" stroke="#a6a6a6" stroke-width="1.3"/>
<rect x="639.9" y="201.8" width="12.3" height="12.3" fill="none" stroke="#a6a6a6" stroke-width="1.3"/>
<rect x="687.4" y="223.3" width="12.3" height="12.3" fill="none" stroke="#a6a6a6" stroke-width="1.3"/>
<rect x="750.8" y="308" width="12.3" height="12.3" fill="none" stroke="#a6a6a6" stroke-width="1.3"/>
<rect x="814.2" y="380.6" width="12.3" height="12.3" fill="none" stroke="#a6a6a6" stroke-width="1.3"/>
<rect x="1004.3" y="387" width="12.3" height="12.3" fill="none" stroke="#a6a6a6" stroke-width="1.3"/>
<rect x="624" y="228.7" width="12.3" height="12.3" fill="none" stroke="#a6a6a6" stroke-width="1.3"/>
<rect x="639.9" y="211.9" width="12.3" height="12.3" fill="none" stroke="#a6a6a6" stroke-width="1.3"/>
<rect x="687.4" y="289.2" width="12.3" height="12.3" fill="none" stroke="#a6a6a6" stroke-width="1.3"/>
<rect x="750.8" y="347.7" width="12.3" height="12.3" fill="none" stroke="#a6a6a6" stroke-width="1.3"/>
<rect x="814.2" y="389" width="12.3" height="12.3" fill="none" stroke="#a6a6a6" stroke-width="1.3"/>
<rect x="1004.3" y="487.4" width="12.3" height="12.3" fill="none" stroke="#a6a6a6" stroke-width="1.3"/>
<rect x="624" y="232.1" width="12.3" height="12.3" fill="none" stroke="#a6a6a6" stroke-width="1.3"/>
<rect x="639.9" y="233.4" width="12.3" height="12.3" fill="none" stroke="#a6a6a6" stroke-width="1.3"/>
<rect x="687.4" y="295.9" width="12.3" height="12.3" fill="none" stroke="#a6a6a6" stroke-width="1.3"/>
<rect x="750.8" y="339.6" width="12.3" height="12.3" fill="none" stroke="#a6a6a6" stroke-width="1.3"/>
<rect x="814.2" y="401.7" width="12.3" height="12.3" fill="none" stroke="#a6a6a6" stroke-width="1.3"/>
<rect x="1004.3" y="410.1" width="12.3" height="12.3" fill="none" stroke="#a6a6a6" stroke-width="1.3"/>
<path d="M630.2 252.2 L636.9 262.8 L623.5 262.8 Z" fill="none" stroke="#a6a6a6" stroke-width="1.3"/>
<path d="M646 243.5 L652.7 254.1 L639.4 254.1 Z" fill="none" stroke="#a6a6a6" stroke-width="1.3"/>
<path d="M693.6 302.6 L700.3 313.2 L686.9 313.2 Z" fill="none" stroke="#a6a6a6" stroke-width="1.3"/>
<path d="M757 393.3 L763.6 404 L750.3 404 Z" fill="none" stroke="#a6a6a6" stroke-width="1.3"/>
<path d="M820.4 420.2 L827 430.8 L813.7 430.8 Z" fill="none" stroke="#a6a6a6" stroke-width="1.3"/>
<path d="M1010.5 420.2 L1017.2 430.8 L1003.8 430.8 Z" fill="none" stroke="#a6a6a6" stroke-width="1.3"/>
<rect x="624" y="258.9" width="12.3" height="12.3" fill="none" stroke="#a6a6a6" stroke-width="1.3"/>
<rect x="639.9" y="253.6" width="12.3" height="12.3" fill="none" stroke="#a6a6a6" stroke-width="1.3"/>
<rect x="687.4" y="309.3" width="12.3" height="12.3" fill="none" stroke="#a6a6a6" stroke-width="1.3"/>
<rect x="750.8" y="403.4" width="12.3" height="12.3" fill="none" stroke="#a6a6a6" stroke-width="1.3"/>
<rect x="814.2" y="440.4" width="12.3" height="12.3" fill="none" stroke="#a6a6a6" stroke-width="1.3"/>
<rect x="1004.3" y="435" width="12.3" height="12.3" fill="none" stroke="#a6a6a6" stroke-width="1.3"/>
<circle cx="630.2" cy="271.8" r="5.8" fill="none" stroke="#a6a6a6" stroke-width="1.3"/>
<circle cx="646" cy="271.8" r="5.8" fill="none" stroke="#a6a6a6" stroke-width="1.3"/>
<circle cx="693.6" cy="335.7" r="5.8" fill="none" stroke="#a6a6a6" stroke-width="1.3"/>
<circle cx="757" cy="362.9" r="5.8" fill="none" stroke="#a6a6a6" stroke-width="1.3"/>
<circle cx="820.4" cy="453.3" r="5.8" fill="none" stroke="#a6a6a6" stroke-width="1.3"/>
<circle cx="1010.5" cy="465" r="5.8" fill="none" stroke="#a6a6a6" stroke-width="1.3"/>
<rect x="624" y="272.4" width="12.3" height="12.3" fill="none" stroke="#a6a6a6" stroke-width="1.3"/>
<rect x="639.9" y="279.1" width="12.3" height="12.3" fill="none" stroke="#a6a6a6" stroke-width="1.3"/>
<rect x="687.4" y="336.2" width="12.3" height="12.3" fill="none" stroke="#a6a6a6" stroke-width="1.3"/>
<rect x="750.8" y="409.1" width="12.3" height="12.3" fill="none" stroke="#a6a6a6" stroke-width="1.3"/>
<rect x="814.2" y="453.8" width="12.3" height="12.3" fill="none" stroke="#a6a6a6" stroke-width="1.3"/>
<rect x="1004.3" y="420.2" width="12.3" height="12.3" fill="none" stroke="#a6a6a6" stroke-width="1.3"/>
<rect x="624" y="279.1" width="12.3" height="12.3" fill="none" stroke="#a6a6a6" stroke-width="1.3"/>
<rect x="639.9" y="292.5" width="12.3" height="12.3" fill="none" stroke="#a6a6a6" stroke-width="1.3"/>
<rect x="687.4" y="339.6" width="12.3" height="12.3" fill="none" stroke="#a6a6a6" stroke-width="1.3"/>
<rect x="750.8" y="425.6" width="12.3" height="12.3" fill="none" stroke="#a6a6a6" stroke-width="1.3"/>
<rect x="814.2" y="460.5" width="12.3" height="12.3" fill="none" stroke="#a6a6a6" stroke-width="1.3"/>
<rect x="1004.3" y="474" width="12.3" height="12.3" fill="none" stroke="#a6a6a6" stroke-width="1.3"/>
<rect x="624" y="285.8" width="12.3" height="12.3" fill="none" stroke="#a6a6a6" stroke-width="1.3"/>
<rect x="639.9" y="309.3" width="12.3" height="12.3" fill="none" stroke="#a6a6a6" stroke-width="1.3"/>
<rect x="687.4" y="346.3" width="12.3" height="12.3" fill="none" stroke="#a6a6a6" stroke-width="1.3"/>
<rect x="750.8" y="433.7" width="12.3" height="12.3" fill="none" stroke="#a6a6a6" stroke-width="1.3"/>
<rect x="814.2" y="467.3" width="12.3" height="12.3" fill="none" stroke="#a6a6a6" stroke-width="1.3"/>
<rect x="1004.3" y="477.3" width="12.3" height="12.3" fill="none" stroke="#a6a6a6" stroke-width="1.3"/>
<circle cx="630.2" cy="298.7" r="5.8" fill="none" stroke="#a6a6a6" stroke-width="1.3"/>
<circle cx="646" cy="325.6" r="5.8" fill="none" stroke="#a6a6a6" stroke-width="1.3"/>
<circle cx="693.6" cy="360.9" r="5.8" fill="none" stroke="#a6a6a6" stroke-width="1.3"/>
<circle cx="757" cy="446.6" r="5.8" fill="none" stroke="#a6a6a6" stroke-width="1.3"/>
<circle cx="820.4" cy="480.2" r="5.8" fill="none" stroke="#a6a6a6" stroke-width="1.3"/>
<circle cx="1010.5" cy="480.2" r="5.8" fill="none" stroke="#a6a6a6" stroke-width="1.3"/>
<rect x="624" y="299.3" width="12.3" height="12.3" fill="none" stroke="#a6a6a6" stroke-width="1.3"/>
<rect x="639.9" y="324.5" width="12.3" height="12.3" fill="none" stroke="#a6a6a6" stroke-width="1.3"/>
<rect x="687.4" y="403.4" width="12.3" height="12.3" fill="none" stroke="#a6a6a6" stroke-width="1.3"/>
<rect x="750.8" y="447.1" width="12.3" height="12.3" fill="none" stroke="#a6a6a6" stroke-width="1.3"/>
<rect x="814.2" y="477.3" width="12.3" height="12.3" fill="none" stroke="#a6a6a6" stroke-width="1.3"/>
<rect x="1004.3" y="480.7" width="12.3" height="12.3" fill="none" stroke="#a6a6a6" stroke-width="1.3"/>
<rect x="624" y="306" width="12.3" height="12.3" fill="none" stroke="#a6a6a6" stroke-width="1.3"/>
<rect x="639.9" y="337.2" width="12.3" height="12.3" fill="none" stroke="#a6a6a6" stroke-width="1.3"/>
<rect x="687.4" y="422.9" width="12.3" height="12.3" fill="none" stroke="#a6a6a6" stroke-width="1.3"/>
<rect x="750.8" y="386.6" width="12.3" height="12.3" fill="none" stroke="#a6a6a6" stroke-width="1.3"/>
<rect x="814.2" y="480.7" width="12.3" height="12.3" fill="none" stroke="#a6a6a6" stroke-width="1.3"/>
<rect x="1004.3" y="484.1" width="12.3" height="12.3" fill="none" stroke="#a6a6a6" stroke-width="1.3"/>
<rect x="624" y="312.7" width="12.3" height="12.3" fill="none" stroke="#a6a6a6" stroke-width="1.3"/>
<rect x="639.9" y="344.6" width="12.3" height="12.3" fill="none" stroke="#a6a6a6" stroke-width="1.3"/>
<rect x="687.4" y="429.3" width="12.3" height="12.3" fill="none" stroke="#a6a6a6" stroke-width="1.3"/>
<rect x="750.8" y="390.7" width="12.3" height="12.3" fill="none" stroke="#a6a6a6" stroke-width="1.3"/>
<rect x="814.2" y="487.4" width="12.3" height="12.3" fill="none" stroke="#a6a6a6" stroke-width="1.3"/>
<rect x="1004.3" y="487.4" width="12.3" height="12.3" fill="none" stroke="#a6a6a6" stroke-width="1.3"/>
<circle cx="630.2" cy="359.2" r="5.8" fill="none" stroke="#a6a6a6" stroke-width="1.3"/>
<circle cx="646" cy="376" r="5.8" fill="none" stroke="#a6a6a6" stroke-width="1.3"/>
<circle cx="693.6" cy="444.9" r="5.8" fill="none" stroke="#a6a6a6" stroke-width="1.3"/>
<circle cx="757" cy="460" r="5.8" fill="none" stroke="#a6a6a6" stroke-width="1.3"/>
<circle cx="820.4" cy="406.2" r="5.8" fill="none" stroke="#a6a6a6" stroke-width="1.3"/>
<circle cx="1010.5" cy="491.9" r="5.8" fill="none" stroke="#a6a6a6" stroke-width="1.3"/>
<rect x="624" y="440.4" width="12.3" height="12.3" fill="none" stroke="#a6a6a6" stroke-width="1.3"/>
<rect x="639.9" y="312.7" width="12.3" height="12.3" fill="none" stroke="#a6a6a6" stroke-width="1.3"/>
<rect x="687.4" y="460.5" width="12.3" height="12.3" fill="none" stroke="#a6a6a6" stroke-width="1.3"/>
<rect x="750.8" y="336.2" width="12.3" height="12.3" fill="none" stroke="#a6a6a6" stroke-width="1.3"/>
<rect x="814.2" y="470.6" width="12.3" height="12.3" fill="none" stroke="#a6a6a6" stroke-width="1.3"/>
<rect x="1004.3" y="487.4" width="12.3" height="12.3" fill="none" stroke="#a6a6a6" stroke-width="1.3"/>
<rect x="624" y="319.4" width="12.3" height="12.3" fill="none" stroke="#a6a6a6" stroke-width="1.3"/>
<rect x="639.9" y="398.1" width="12.3" height="12.3" fill="none" stroke="#a6a6a6" stroke-width="1.3"/>
<rect x="687.4" y="430.3" width="12.3" height="12.3" fill="none" stroke="#a6a6a6" stroke-width="1.3"/>
<rect x="750.8" y="473.7" width="12.3" height="12.3" fill="none" stroke="#a6a6a6" stroke-width="1.3"/>
<rect x="814.2" y="426.9" width="12.3" height="12.3" fill="none" stroke="#a6a6a6" stroke-width="1.3"/>
<rect x="1004.3" y="470.6" width="12.3" height="12.3" fill="none" stroke="#a6a6a6" stroke-width="1.3"/>
<rect x="624" y="245.5" width="12.3" height="12.3" fill="none" stroke="#a6a6a6" stroke-width="1.3"/>
<rect x="639.9" y="222" width="12.3" height="12.3" fill="none" stroke="#a6a6a6" stroke-width="1.3"/>
<rect x="687.4" y="316.1" width="12.3" height="12.3" fill="none" stroke="#a6a6a6" stroke-width="1.3"/>
<rect x="750.8" y="480.7" width="12.3" height="12.3" fill="none" stroke="#a6a6a6" stroke-width="1.3"/>
<rect x="814.2" y="487.4" width="12.3" height="12.3" fill="none" stroke="#a6a6a6" stroke-width="1.3"/>
<rect x="1004.3" y="487.4" width="12.3" height="12.3" fill="none" stroke="#a6a6a6" stroke-width="1.3"/>
<circle cx="630.2" cy="245" r="5.8" fill="none" stroke="#a6a6a6" stroke-width="1.3"/>
<circle cx="646" cy="292" r="5.8" fill="none" stroke="#a6a6a6" stroke-width="1.3"/>
<circle cx="693.6" cy="258.4" r="5.8" fill="none" stroke="#a6a6a6" stroke-width="1.3"/>
<circle cx="757" cy="376" r="5.8" fill="none" stroke="#a6a6a6" stroke-width="1.3"/>
<circle cx="820.4" cy="470.1" r="5.8" fill="none" stroke="#a6a6a6" stroke-width="1.3"/>
<circle cx="1010.5" cy="488.6" r="5.8" fill="none" stroke="#a6a6a6" stroke-width="1.3"/>
<rect x="624" y="269" width="12.3" height="12.3" fill="none" stroke="#a6a6a6" stroke-width="1.3"/>
<rect x="639.9" y="302.6" width="12.3" height="12.3" fill="none" stroke="#a6a6a6" stroke-width="1.3"/>
<rect x="687.4" y="413.5" width="12.3" height="12.3" fill="none" stroke="#a6a6a6" stroke-width="1.3"/>
<rect x="750.8" y="420.2" width="12.3" height="12.3" fill="none" stroke="#a6a6a6" stroke-width="1.3"/>
<rect x="814.2" y="484.1" width="12.3" height="12.3" fill="none" stroke="#a6a6a6" stroke-width="1.3"/>
<rect x="1004.3" y="487.4" width="12.3" height="12.3" fill="none" stroke="#a6a6a6" stroke-width="1.3"/>
</g>
<path d="M630.2 266.8 L646 288.6 L693.6 325.6 L757 382.7 L820.4 437.5 L1010.5 456.6" fill="none" stroke="#37a0d0" stroke-width="3.0" stroke-linejoin="round"/>
<path d="M630.2 258.8 L638.2 266.8 L630.2 274.8 L622.2 266.8 Z" fill="#37a0d0" stroke="#37a0d0" stroke-width="0.5"/>
<path d="M646 280.6 L654 288.6 L646 296.6 L638 288.6 Z" fill="#37a0d0" stroke="#37a0d0" stroke-width="0.5"/>
<path d="M693.6 317.6 L701.6 325.6 L693.6 333.6 L685.6 325.6 Z" fill="#37a0d0" stroke="#37a0d0" stroke-width="0.5"/>
<path d="M757 374.7 L765 382.7 L757 390.7 L749 382.7 Z" fill="#37a0d0" stroke="#37a0d0" stroke-width="0.5"/>
<path d="M820.4 429.5 L828.4 437.5 L820.4 445.5 L812.4 437.5 Z" fill="#37a0d0" stroke="#37a0d0" stroke-width="0.5"/>
<path d="M1010.5 448.6 L1018.5 456.6 L1010.5 464.6 L1002.5 456.6 Z" fill="#37a0d0" stroke="#37a0d0" stroke-width="0.5"/>
</g>
<g>
<path d="M1169 145.5 V485.6 H1553.6" fill="none" stroke="#0d0d0d" stroke-width="3.4299999999999997" stroke-linejoin="miter"/>
<path d="M1159 485.6 H1169" stroke="#0d0d0d" stroke-width="2.646"/>
<text x="1156.3" y="492.1" font-size="18.1" text-anchor="end" fill="#141414" xml:space="preserve">0</text>
<path d="M1159 372.7 H1169" stroke="#0d0d0d" stroke-width="2.646"/>
<text x="1156.3" y="379.2" font-size="18.1" text-anchor="end" fill="#141414" xml:space="preserve">1</text>
<path d="M1159 259.7 H1169" stroke="#0d0d0d" stroke-width="2.646"/>
<text x="1156.3" y="266.2" font-size="18.1" text-anchor="end" fill="#141414" xml:space="preserve">2</text>
<path d="M1159 146.8 H1169" stroke="#0d0d0d" stroke-width="2.646"/>
<text x="1156.3" y="153.3" font-size="18.1" text-anchor="end" fill="#141414" xml:space="preserve">3</text>
<path d="M1169 485.6 V495.6" stroke="#0d0d0d" stroke-width="2.646"/>
<text x="1169" y="514.3" font-size="18.1" text-anchor="middle" fill="#141414" xml:space="preserve">0</text>
<path d="M1232.9 485.6 V495.6" stroke="#0d0d0d" stroke-width="2.646"/>
<text x="1232.9" y="514.3" font-size="18.1" text-anchor="middle" fill="#141414" xml:space="preserve">4</text>
<path d="M1296.8 485.6 V495.6" stroke="#0d0d0d" stroke-width="2.646"/>
<text x="1296.8" y="514.3" font-size="18.1" text-anchor="middle" fill="#141414" xml:space="preserve">8</text>
<path d="M1360.7 485.6 V495.6" stroke="#0d0d0d" stroke-width="2.646"/>
<text x="1360.7" y="514.3" font-size="18.1" text-anchor="middle" fill="#141414" xml:space="preserve">12</text>
<path d="M1424.5 485.6 V495.6" stroke="#0d0d0d" stroke-width="2.646"/>
<text x="1424.5" y="514.3" font-size="18.1" text-anchor="middle" fill="#141414" xml:space="preserve">16</text>
<path d="M1488.4 485.6 V495.6" stroke="#0d0d0d" stroke-width="2.646"/>
<text x="1488.4" y="514.3" font-size="18.1" text-anchor="middle" fill="#141414" xml:space="preserve">20</text>
<path d="M1552.3 485.6 V495.6" stroke="#0d0d0d" stroke-width="2.646"/>
<text x="1552.3" y="514.3" font-size="18.1" text-anchor="middle" fill="#141414" xml:space="preserve">24</text>
<text x="1349.6" y="124.1" font-size="31.8" text-anchor="middle" fill="#141414" xml:space="preserve">HAQ</text>
<text x="1360" y="542.7" font-size="23.7" text-anchor="middle" fill="#141414" xml:space="preserve">weeks post CART cell therapy</text>
<text x="1136.6" y="313.5" font-size="23.7" text-anchor="middle" fill="#141414" transform="rotate(-90 1136.6 313.5)" xml:space="preserve">Units</text>
<g fill="none" stroke="#a9a9ad" stroke-width="1.25" stroke-linejoin="round">
<path d="M1169 163.7 L1185 146.8 L1232.9 161.5 L1296.8 160.4 L1360.7 160.4 L1552.3 161.5"/>
<path d="M1169 175 L1185 160.4 L1232.9 159.2 L1296.8 173.9 L1360.7 245.1 L1552.3 245.1"/>
<path d="M1169 220.2 L1185 202.1 L1232.9 175 L1296.8 187.5 L1360.7 203.3 L1552.3 301.5"/>
<path d="M1169 231.5 L1185 230.4 L1232.9 217.9 L1296.8 203.3 L1360.7 203.3 L1552.3 204.4"/>
<path d="M1169 256.3 L1185 243.9 L1232.9 273.3 L1296.8 272.2 L1360.7 272.2 L1552.3 259.7"/>
<path d="M1169 220.2 L1185 258.6 L1232.9 327.5 L1296.8 245.1 L1360.7 301.5 L1552.3 301.5"/>
<path d="M1169 400.9 L1185 301.5 L1232.9 245.1 L1296.8 315.1 L1360.7 372.7 L1552.3 372.7"/>
<path d="M1169 272.2 L1185 313.9 L1232.9 341 L1296.8 315.1 L1360.7 328.6 L1552.3 356.9"/>
<path d="M1169 328.6 L1185 342.2 L1232.9 286.8 L1296.8 342.2 L1360.7 485.6 L1552.3 485.6"/>
<path d="M1169 441.6 L1185 413.3 L1232.9 358 L1296.8 286.8 L1360.7 485.6 L1552.3 485.6"/>
<path d="M1169 231.5 L1185 301.5 L1232.9 358 L1296.8 342.2 L1360.7 344.4 L1552.3 457.4"/>
<path d="M1169 363.6 L1185 376.1 L1232.9 373.8 L1296.8 373.8 L1360.7 355.7 L1552.3 356.9"/>
<path d="M1169 400.9 L1185 386.2 L1232.9 386.2 L1296.8 400.9 L1360.7 414.5 L1552.3 485.6"/>
<path d="M1169 428 L1185 426.9 L1232.9 327.5 L1296.8 358 L1360.7 355.7 L1552.3 414.5"/>
<path d="M1169 470.9 L1185 465.3 L1232.9 441.6 L1296.8 470.9 L1360.7 458.5 L1552.3 470.9"/>
<path d="M1169 480 L1185 458.5 L1232.9 454 L1296.8 456.2 L1360.7 458.5 L1552.3 470.9"/>
<path d="M1169 470.9 L1185 465.3 L1232.9 459.6 L1296.8 465.3 L1360.7 485.6 L1552.3 457.4"/>
<path d="M1169 485.6 L1185 472 L1232.9 468.7 L1296.8 472 L1360.7 485.6 L1552.3 485.6"/>
<path d="M1169 485.6 L1185 485.6 L1232.9 485.6 L1296.8 441.6 L1360.7 458.5 L1552.3 485.6"/>
<path d="M1169 441.6 L1185 426.9 L1232.9 480 L1296.8 485.6 L1360.7 485.6 L1552.3 485.6"/>
<path d="M1169 470.9 L1185 474.3 L1232.9 474.3 L1296.8 480 L1360.7 485.6 L1552.3 485.6"/>
</g>
<g>
<path d="M1169 157.6 L1175.7 168.2 L1162.3 168.2 Z" fill="none" stroke="#a6a6a6" stroke-width="1.3"/>
<path d="M1185 140.6 L1191.6 151.2 L1178.3 151.2 Z" fill="none" stroke="#a6a6a6" stroke-width="1.3"/>
<path d="M1232.9 155.3 L1239.6 165.9 L1226.2 165.9 Z" fill="none" stroke="#a6a6a6" stroke-width="1.3"/>
<path d="M1296.8 154.2 L1303.4 164.8 L1290.1 164.8 Z" fill="none" stroke="#a6a6a6" stroke-width="1.3"/>
<path d="M1360.7 154.2 L1367.3 164.8 L1354 164.8 Z" fill="none" stroke="#a6a6a6" stroke-width="1.3"/>
<path d="M1552.3 155.3 L1559 165.9 L1545.6 165.9 Z" fill="none" stroke="#a6a6a6" stroke-width="1.3"/>
<circle cx="1169" cy="175" r="5.8" fill="none" stroke="#a6a6a6" stroke-width="1.3"/>
<circle cx="1185" cy="160.4" r="5.8" fill="none" stroke="#a6a6a6" stroke-width="1.3"/>
<circle cx="1232.9" cy="159.2" r="5.8" fill="none" stroke="#a6a6a6" stroke-width="1.3"/>
<circle cx="1296.8" cy="173.9" r="5.8" fill="none" stroke="#a6a6a6" stroke-width="1.3"/>
<circle cx="1360.7" cy="245.1" r="5.8" fill="none" stroke="#a6a6a6" stroke-width="1.3"/>
<circle cx="1552.3" cy="245.1" r="5.8" fill="none" stroke="#a6a6a6" stroke-width="1.3"/>
<circle cx="1169" cy="220.2" r="5.8" fill="none" stroke="#a6a6a6" stroke-width="1.3"/>
<circle cx="1185" cy="202.1" r="5.8" fill="none" stroke="#a6a6a6" stroke-width="1.3"/>
<circle cx="1232.9" cy="175" r="5.8" fill="none" stroke="#a6a6a6" stroke-width="1.3"/>
<circle cx="1296.8" cy="187.5" r="5.8" fill="none" stroke="#a6a6a6" stroke-width="1.3"/>
<circle cx="1360.7" cy="203.3" r="5.8" fill="none" stroke="#a6a6a6" stroke-width="1.3"/>
<circle cx="1552.3" cy="301.5" r="5.8" fill="none" stroke="#a6a6a6" stroke-width="1.3"/>
<path d="M1169 225.3 L1175.7 235.9 L1162.3 235.9 Z" fill="none" stroke="#a6a6a6" stroke-width="1.3"/>
<path d="M1185 224.2 L1191.6 234.8 L1178.3 234.8 Z" fill="none" stroke="#a6a6a6" stroke-width="1.3"/>
<path d="M1232.9 211.8 L1239.6 222.4 L1226.2 222.4 Z" fill="none" stroke="#a6a6a6" stroke-width="1.3"/>
<path d="M1296.8 197.1 L1303.4 207.7 L1290.1 207.7 Z" fill="none" stroke="#a6a6a6" stroke-width="1.3"/>
<path d="M1360.7 197.1 L1367.3 207.7 L1354 207.7 Z" fill="none" stroke="#a6a6a6" stroke-width="1.3"/>
<path d="M1552.3 198.2 L1559 208.8 L1545.6 208.8 Z" fill="none" stroke="#a6a6a6" stroke-width="1.3"/>
<circle cx="1169" cy="256.3" r="5.8" fill="none" stroke="#a6a6a6" stroke-width="1.3"/>
<circle cx="1185" cy="243.9" r="5.8" fill="none" stroke="#a6a6a6" stroke-width="1.3"/>
<circle cx="1232.9" cy="273.3" r="5.8" fill="none" stroke="#a6a6a6" stroke-width="1.3"/>
<circle cx="1296.8" cy="272.2" r="5.8" fill="none" stroke="#a6a6a6" stroke-width="1.3"/>
<circle cx="1360.7" cy="272.2" r="5.8" fill="none" stroke="#a6a6a6" stroke-width="1.3"/>
<circle cx="1552.3" cy="259.7" r="5.8" fill="none" stroke="#a6a6a6" stroke-width="1.3"/>
<path d="M1169 214 L1175.7 224.7 L1162.3 224.7 Z" fill="none" stroke="#a6a6a6" stroke-width="1.3"/>
<path d="M1185 252.4 L1191.6 263 L1178.3 263 Z" fill="none" stroke="#a6a6a6" stroke-width="1.3"/>
<path d="M1232.9 321.3 L1239.6 331.9 L1226.2 331.9 Z" fill="none" stroke="#a6a6a6" stroke-width="1.3"/>
<path d="M1296.8 238.9 L1303.4 249.5 L1290.1 249.5 Z" fill="none" stroke="#a6a6a6" stroke-width="1.3"/>
<path d="M1360.7 295.3 L1367.3 306 L1354 306 Z" fill="none" stroke="#a6a6a6" stroke-width="1.3"/>
<path d="M1552.3 295.3 L1559 306 L1545.6 306 Z" fill="none" stroke="#a6a6a6" stroke-width="1.3"/>
<circle cx="1169" cy="400.9" r="5.8" fill="none" stroke="#a6a6a6" stroke-width="1.3"/>
<circle cx="1185" cy="301.5" r="5.8" fill="none" stroke="#a6a6a6" stroke-width="1.3"/>
<circle cx="1232.9" cy="245.1" r="5.8" fill="none" stroke="#a6a6a6" stroke-width="1.3"/>
<circle cx="1296.8" cy="315.1" r="5.8" fill="none" stroke="#a6a6a6" stroke-width="1.3"/>
<circle cx="1360.7" cy="372.7" r="5.8" fill="none" stroke="#a6a6a6" stroke-width="1.3"/>
<circle cx="1552.3" cy="372.7" r="5.8" fill="none" stroke="#a6a6a6" stroke-width="1.3"/>
<rect x="1162.8" y="266" width="12.3" height="12.3" fill="none" stroke="#a6a6a6" stroke-width="1.3"/>
<rect x="1178.8" y="307.8" width="12.3" height="12.3" fill="none" stroke="#a6a6a6" stroke-width="1.3"/>
<rect x="1226.7" y="334.9" width="12.3" height="12.3" fill="none" stroke="#a6a6a6" stroke-width="1.3"/>
<rect x="1290.6" y="308.9" width="12.3" height="12.3" fill="none" stroke="#a6a6a6" stroke-width="1.3"/>
<rect x="1354.5" y="322.4" width="12.3" height="12.3" fill="none" stroke="#a6a6a6" stroke-width="1.3"/>
<rect x="1546.1" y="350.7" width="12.3" height="12.3" fill="none" stroke="#a6a6a6" stroke-width="1.3"/>
<rect x="1162.8" y="322.4" width="12.3" height="12.3" fill="none" stroke="#a6a6a6" stroke-width="1.3"/>
<rect x="1178.8" y="336" width="12.3" height="12.3" fill="none" stroke="#a6a6a6" stroke-width="1.3"/>
<rect x="1226.7" y="280.7" width="12.3" height="12.3" fill="none" stroke="#a6a6a6" stroke-width="1.3"/>
<rect x="1290.6" y="336" width="12.3" height="12.3" fill="none" stroke="#a6a6a6" stroke-width="1.3"/>
<rect x="1354.5" y="479.4" width="12.3" height="12.3" fill="none" stroke="#a6a6a6" stroke-width="1.3"/>
<rect x="1546.1" y="479.4" width="12.3" height="12.3" fill="none" stroke="#a6a6a6" stroke-width="1.3"/>
<rect x="1162.8" y="435.4" width="12.3" height="12.3" fill="none" stroke="#a6a6a6" stroke-width="1.3"/>
<rect x="1178.8" y="407.1" width="12.3" height="12.3" fill="none" stroke="#a6a6a6" stroke-width="1.3"/>
<rect x="1226.7" y="351.8" width="12.3" height="12.3" fill="none" stroke="#a6a6a6" stroke-width="1.3"/>
<rect x="1290.6" y="280.7" width="12.3" height="12.3" fill="none" stroke="#a6a6a6" stroke-width="1.3"/>
<rect x="1354.5" y="479.4" width="12.3" height="12.3" fill="none" stroke="#a6a6a6" stroke-width="1.3"/>
<rect x="1546.1" y="479.4" width="12.3" height="12.3" fill="none" stroke="#a6a6a6" stroke-width="1.3"/>
<rect x="1162.8" y="225.3" width="12.3" height="12.3" fill="none" stroke="#a6a6a6" stroke-width="1.3"/>
<rect x="1178.8" y="295.3" width="12.3" height="12.3" fill="none" stroke="#a6a6a6" stroke-width="1.3"/>
<rect x="1226.7" y="351.8" width="12.3" height="12.3" fill="none" stroke="#a6a6a6" stroke-width="1.3"/>
<rect x="1290.6" y="336" width="12.3" height="12.3" fill="none" stroke="#a6a6a6" stroke-width="1.3"/>
<rect x="1354.5" y="338.3" width="12.3" height="12.3" fill="none" stroke="#a6a6a6" stroke-width="1.3"/>
<rect x="1546.1" y="451.2" width="12.3" height="12.3" fill="none" stroke="#a6a6a6" stroke-width="1.3"/>
<rect x="1162.8" y="357.5" width="12.3" height="12.3" fill="none" stroke="#a6a6a6" stroke-width="1.3"/>
<rect x="1178.8" y="369.9" width="12.3" height="12.3" fill="none" stroke="#a6a6a6" stroke-width="1.3"/>
<rect x="1226.7" y="367.6" width="12.3" height="12.3" fill="none" stroke="#a6a6a6" stroke-width="1.3"/>
<rect x="1290.6" y="367.6" width="12.3" height="12.3" fill="none" stroke="#a6a6a6" stroke-width="1.3"/>
<rect x="1354.5" y="349.6" width="12.3" height="12.3" fill="none" stroke="#a6a6a6" stroke-width="1.3"/>
<rect x="1546.1" y="350.7" width="12.3" height="12.3" fill="none" stroke="#a6a6a6" stroke-width="1.3"/>
<circle cx="1169" cy="400.9" r="5.8" fill="none" stroke="#a6a6a6" stroke-width="1.3"/>
<circle cx="1185" cy="386.2" r="5.8" fill="none" stroke="#a6a6a6" stroke-width="1.3"/>
<circle cx="1232.9" cy="386.2" r="5.8" fill="none" stroke="#a6a6a6" stroke-width="1.3"/>
<circle cx="1296.8" cy="400.9" r="5.8" fill="none" stroke="#a6a6a6" stroke-width="1.3"/>
<circle cx="1360.7" cy="414.5" r="5.8" fill="none" stroke="#a6a6a6" stroke-width="1.3"/>
<circle cx="1552.3" cy="485.6" r="5.8" fill="none" stroke="#a6a6a6" stroke-width="1.3"/>
<path d="M1169 421.8 L1175.7 432.4 L1162.3 432.4 Z" fill="none" stroke="#a6a6a6" stroke-width="1.3"/>
<path d="M1185 420.7 L1191.6 431.3 L1178.3 431.3 Z" fill="none" stroke="#a6a6a6" stroke-width="1.3"/>
<path d="M1232.9 321.3 L1239.6 331.9 L1226.2 331.9 Z" fill="none" stroke="#a6a6a6" stroke-width="1.3"/>
<path d="M1296.8 351.8 L1303.4 362.4 L1290.1 362.4 Z" fill="none" stroke="#a6a6a6" stroke-width="1.3"/>
<path d="M1360.7 349.6 L1367.3 360.2 L1354 360.2 Z" fill="none" stroke="#a6a6a6" stroke-width="1.3"/>
<path d="M1552.3 408.3 L1559 418.9 L1545.6 418.9 Z" fill="none" stroke="#a6a6a6" stroke-width="1.3"/>
<circle cx="1169" cy="470.9" r="5.8" fill="none" stroke="#a6a6a6" stroke-width="1.3"/>
<circle cx="1185" cy="465.3" r="5.8" fill="none" stroke="#a6a6a6" stroke-width="1.3"/>
<circle cx="1232.9" cy="441.6" r="5.8" fill="none" stroke="#a6a6a6" stroke-width="1.3"/>
<circle cx="1296.8" cy="470.9" r="5.8" fill="none" stroke="#a6a6a6" stroke-width="1.3"/>
<circle cx="1360.7" cy="458.5" r="5.8" fill="none" stroke="#a6a6a6" stroke-width="1.3"/>
<circle cx="1552.3" cy="470.9" r="5.8" fill="none" stroke="#a6a6a6" stroke-width="1.3"/>
<path d="M1169 473.8 L1175.7 484.4 L1162.3 484.4 Z" fill="none" stroke="#a6a6a6" stroke-width="1.3"/>
<path d="M1185 452.3 L1191.6 462.9 L1178.3 462.9 Z" fill="none" stroke="#a6a6a6" stroke-width="1.3"/>
<path d="M1232.9 447.8 L1239.6 458.4 L1226.2 458.4 Z" fill="none" stroke="#a6a6a6" stroke-width="1.3"/>
<path d="M1296.8 450.1 L1303.4 460.7 L1290.1 460.7 Z" fill="none" stroke="#a6a6a6" stroke-width="1.3"/>
<path d="M1360.7 452.3 L1367.3 462.9 L1354 462.9 Z" fill="none" stroke="#a6a6a6" stroke-width="1.3"/>
<path d="M1552.3 464.7 L1559 475.4 L1545.6 475.4 Z" fill="none" stroke="#a6a6a6" stroke-width="1.3"/>
<rect x="1162.8" y="464.7" width="12.3" height="12.3" fill="none" stroke="#a6a6a6" stroke-width="1.3"/>
<rect x="1178.8" y="459.1" width="12.3" height="12.3" fill="none" stroke="#a6a6a6" stroke-width="1.3"/>
<rect x="1226.7" y="453.5" width="12.3" height="12.3" fill="none" stroke="#a6a6a6" stroke-width="1.3"/>
<rect x="1290.6" y="459.1" width="12.3" height="12.3" fill="none" stroke="#a6a6a6" stroke-width="1.3"/>
<rect x="1354.5" y="479.4" width="12.3" height="12.3" fill="none" stroke="#a6a6a6" stroke-width="1.3"/>
<rect x="1546.1" y="451.2" width="12.3" height="12.3" fill="none" stroke="#a6a6a6" stroke-width="1.3"/>
<rect x="1162.8" y="479.4" width="12.3" height="12.3" fill="none" stroke="#a6a6a6" stroke-width="1.3"/>
<rect x="1178.8" y="465.9" width="12.3" height="12.3" fill="none" stroke="#a6a6a6" stroke-width="1.3"/>
<rect x="1226.7" y="462.5" width="12.3" height="12.3" fill="none" stroke="#a6a6a6" stroke-width="1.3"/>
<rect x="1290.6" y="465.9" width="12.3" height="12.3" fill="none" stroke="#a6a6a6" stroke-width="1.3"/>
<rect x="1354.5" y="479.4" width="12.3" height="12.3" fill="none" stroke="#a6a6a6" stroke-width="1.3"/>
<rect x="1546.1" y="479.4" width="12.3" height="12.3" fill="none" stroke="#a6a6a6" stroke-width="1.3"/>
<circle cx="1169" cy="485.6" r="5.8" fill="none" stroke="#a6a6a6" stroke-width="1.3"/>
<circle cx="1185" cy="485.6" r="5.8" fill="none" stroke="#a6a6a6" stroke-width="1.3"/>
<circle cx="1232.9" cy="485.6" r="5.8" fill="none" stroke="#a6a6a6" stroke-width="1.3"/>
<circle cx="1296.8" cy="441.6" r="5.8" fill="none" stroke="#a6a6a6" stroke-width="1.3"/>
<circle cx="1360.7" cy="458.5" r="5.8" fill="none" stroke="#a6a6a6" stroke-width="1.3"/>
<circle cx="1552.3" cy="485.6" r="5.8" fill="none" stroke="#a6a6a6" stroke-width="1.3"/>
<rect x="1162.8" y="435.4" width="12.3" height="12.3" fill="none" stroke="#a6a6a6" stroke-width="1.3"/>
<rect x="1178.8" y="420.7" width="12.3" height="12.3" fill="none" stroke="#a6a6a6" stroke-width="1.3"/>
<rect x="1226.7" y="473.8" width="12.3" height="12.3" fill="none" stroke="#a6a6a6" stroke-width="1.3"/>
<rect x="1290.6" y="479.4" width="12.3" height="12.3" fill="none" stroke="#a6a6a6" stroke-width="1.3"/>
<rect x="1354.5" y="479.4" width="12.3" height="12.3" fill="none" stroke="#a6a6a6" stroke-width="1.3"/>
<rect x="1546.1" y="479.4" width="12.3" height="12.3" fill="none" stroke="#a6a6a6" stroke-width="1.3"/>
<rect x="1162.8" y="464.7" width="12.3" height="12.3" fill="none" stroke="#a6a6a6" stroke-width="1.3"/>
<rect x="1178.8" y="468.1" width="12.3" height="12.3" fill="none" stroke="#a6a6a6" stroke-width="1.3"/>
<rect x="1226.7" y="468.1" width="12.3" height="12.3" fill="none" stroke="#a6a6a6" stroke-width="1.3"/>
<rect x="1290.6" y="473.8" width="12.3" height="12.3" fill="none" stroke="#a6a6a6" stroke-width="1.3"/>
<rect x="1354.5" y="479.4" width="12.3" height="12.3" fill="none" stroke="#a6a6a6" stroke-width="1.3"/>
<rect x="1546.1" y="479.4" width="12.3" height="12.3" fill="none" stroke="#a6a6a6" stroke-width="1.3"/>
</g>
<path d="M1169 363.6 L1185 358 L1232.9 358 L1296.8 358 L1360.7 414.5 L1552.3 457.4" fill="none" stroke="#e06c12" stroke-width="2.7" stroke-linejoin="round"/>
<path d="M1169 355.8 L1176.8 363.6 L1169 371.4 L1161.2 363.6 Z" fill="#e06c12" stroke="#e06c12" stroke-width="0.5"/>
<path d="M1185 350.2 L1192.8 358 L1185 365.8 L1177.2 358 Z" fill="#e06c12" stroke="#e06c12" stroke-width="0.5"/>
<path d="M1232.9 350.2 L1240.7 358 L1232.9 365.8 L1225.1 358 Z" fill="#e06c12" stroke="#e06c12" stroke-width="0.5"/>
<path d="M1296.8 350.2 L1304.6 358 L1296.8 365.8 L1289 358 Z" fill="#e06c12" stroke="#e06c12" stroke-width="0.5"/>
<path d="M1360.7 406.7 L1368.5 414.5 L1360.7 422.3 L1352.9 414.5 Z" fill="#e06c12" stroke="#e06c12" stroke-width="0.5"/>
<path d="M1552.3 449.6 L1560.1 457.4 L1552.3 465.2 L1544.5 457.4 Z" fill="#e06c12" stroke="#e06c12" stroke-width="0.5"/>
</g>
<g>
<path d="M1781.2 195.6 V525.8 H2153" fill="none" stroke="#0d0d0d" stroke-width="3.3249999999999997" stroke-linejoin="miter"/>
<path d="M1771.5 525.8 H1781.2" stroke="#0d0d0d" stroke-width="2.565"/>
<text x="1768.9" y="532.1" font-size="17.6" text-anchor="end" fill="#141414" xml:space="preserve">0</text>
<path d="M1771.5 416.2 H1781.2" stroke="#0d0d0d" stroke-width="2.565"/>
<text x="1768.9" y="422.5" font-size="17.6" text-anchor="end" fill="#141414" xml:space="preserve">20</text>
<path d="M1771.5 306.5 H1781.2" stroke="#0d0d0d" stroke-width="2.565"/>
<text x="1768.9" y="312.8" font-size="17.6" text-anchor="end" fill="#141414" xml:space="preserve">40</text>
<path d="M1771.5 196.9 H1781.2" stroke="#0d0d0d" stroke-width="2.565"/>
<text x="1768.9" y="203.2" font-size="17.6" text-anchor="end" fill="#141414" xml:space="preserve">60</text>
<path d="M1781.2 525.8 V535.5" stroke="#0d0d0d" stroke-width="2.565"/>
<text x="1781.2" y="553.6" font-size="17.6" text-anchor="middle" fill="#141414" xml:space="preserve">0</text>
<path d="M1843 525.8 V535.5" stroke="#0d0d0d" stroke-width="2.565"/>
<text x="1843" y="553.6" font-size="17.6" text-anchor="middle" fill="#141414" xml:space="preserve">4</text>
<path d="M1904.7 525.8 V535.5" stroke="#0d0d0d" stroke-width="2.565"/>
<text x="1904.7" y="553.6" font-size="17.6" text-anchor="middle" fill="#141414" xml:space="preserve">8</text>
<path d="M1966.4 525.8 V535.5" stroke="#0d0d0d" stroke-width="2.565"/>
<text x="1966.4" y="553.6" font-size="17.6" text-anchor="middle" fill="#141414" xml:space="preserve">12</text>
<path d="M2028.2 525.8 V535.5" stroke="#0d0d0d" stroke-width="2.565"/>
<text x="2028.2" y="553.6" font-size="17.6" text-anchor="middle" fill="#141414" xml:space="preserve">16</text>
<path d="M2089.9 525.8 V535.5" stroke="#0d0d0d" stroke-width="2.565"/>
<text x="2089.9" y="553.6" font-size="17.6" text-anchor="middle" fill="#141414" xml:space="preserve">20</text>
<path d="M2151.7 525.8 V535.5" stroke="#0d0d0d" stroke-width="2.565"/>
<text x="2151.7" y="553.6" font-size="17.6" text-anchor="middle" fill="#141414" xml:space="preserve">24</text>
<text x="1953.4" y="177.1" font-size="30.8" text-anchor="middle" fill="#141414" xml:space="preserve">FACIT</text>
<text x="1965.9" y="583.5" font-size="23" text-anchor="middle" fill="#141414" xml:space="preserve">weeks post CART cell therapy</text>
<text x="1738.7" y="359" font-size="23" text-anchor="middle" fill="#141414" transform="rotate(-90 1738.7 359)" xml:space="preserve">Units</text>
<g fill="none" stroke="#a9a9ad" stroke-width="1.25" stroke-linejoin="round">
<path d="M1781.2 264.3 L1796.6 278 L1843 264.3 L1904.7 246.2 L1966.4 246.2 L2151.7 240.8"/>
<path d="M1781.2 308.2 L1796.6 284.6 L1843 273.6 L1904.7 253.4 L1966.4 251.7 L2151.7 248.4"/>
<path d="M1781.2 323 L1796.6 326.3 L1843 290.1 L1904.7 259.9 L1966.4 257.2 L2151.7 251.7"/>
<path d="M1781.2 333.9 L1796.6 341.1 L1843 306.5 L1904.7 265.4 L1966.4 262.7 L2151.7 254.5"/>
<path d="M1781.2 342.7 L1796.6 328.5 L1843 331.7 L1904.7 270.9 L1966.4 268.2 L2151.7 257.2"/>
<path d="M1781.2 355.9 L1796.6 355.9 L1843 333.9 L1904.7 276.4 L1966.4 273.6 L2151.7 260.5"/>
<path d="M1781.2 366.8 L1796.6 363 L1843 344.9 L1904.7 282.4 L1966.4 279.1 L2151.7 284.6"/>
<path d="M1781.2 377.8 L1796.6 374 L1843 353.7 L1904.7 290.1 L1966.4 284.6 L2151.7 284.6"/>
<path d="M1781.2 388.8 L1796.6 344.9 L1843 361.3 L1904.7 308.2 L1966.4 290.1 L2151.7 317.5"/>
<path d="M1781.2 399.7 L1796.6 388.8 L1843 368.5 L1904.7 317.5 L1966.4 293.4 L2151.7 323"/>
<path d="M1781.2 416.2 L1796.6 405.2 L1843 361.3 L1904.7 325.7 L1966.4 324.6 L2151.7 324.6"/>
<path d="M1781.2 423.3 L1796.6 394.2 L1843 355.9 L1904.7 341.1 L1966.4 388.8 L2151.7 269.3"/>
<path d="M1781.2 432.6 L1796.6 416.2 L1843 439.7 L1904.7 384.9 L1966.4 339.4 L2151.7 329.6"/>
<path d="M1781.2 436.4 L1796.6 423.3 L1843 388.8 L1904.7 331.7 L1966.4 363 L2151.7 341.6"/>
<path d="M1781.2 460 L1796.6 438.1 L1843 366.8 L1904.7 279.1 L1966.4 355.9 L2151.7 333.9"/>
<path d="M1781.2 474.8 L1796.6 467.1 L1843 405.8 L1904.7 323 L1966.4 375.6 L2151.7 353.1"/>
<path d="M1781.2 483.6 L1796.6 481.9 L1843 350.4 L1904.7 422.2 L1966.4 369.6 L2151.7 347.6"/>
<path d="M1781.2 498.4 L1796.6 339.4 L1843 445.2 L1904.7 273.6 L1966.4 392 L2151.7 364.1"/>
<path d="M1781.2 306.5 L1796.6 361.3 L1843 439.7 L1904.7 295.6 L1966.4 416.7 L2151.7 364.1"/>
<path d="M1781.2 344.9 L1796.6 410.7 L1843 439.7 L1904.7 438.1 L1966.4 456.2 L2151.7 450.7"/>
<path d="M1781.2 520.3 L1796.6 520.3 L1843 476.5 L1904.7 443.6 L1966.4 433.7 L2151.7 467.1"/>
<path d="M1781.2 487.4 L1796.6 454.5 L1843 494 L1904.7 454.5 L1966.4 388.8 L2151.7 341.6"/>
</g>
<g>
<circle cx="1781.2" cy="264.3" r="5.6" fill="none" stroke="#a6a6a6" stroke-width="1.3"/>
<rect x="1790.7" y="272" width="12" height="12" fill="none" stroke="#a6a6a6" stroke-width="1.3"/>
<rect x="1837" y="258.3" width="12" height="12" fill="none" stroke="#a6a6a6" stroke-width="1.3"/>
<rect x="1898.7" y="240.2" width="12" height="12" fill="none" stroke="#a6a6a6" stroke-width="1.3"/>
<rect x="1960.5" y="240.2" width="12" height="12" fill="none" stroke="#a6a6a6" stroke-width="1.3"/>
<rect x="2145.7" y="234.8" width="12" height="12" fill="none" stroke="#a6a6a6" stroke-width="1.3"/>
<rect x="1775.2" y="302.2" width="12" height="12" fill="none" stroke="#a6a6a6" stroke-width="1.3"/>
<circle cx="1796.6" cy="284.6" r="5.6" fill="none" stroke="#a6a6a6" stroke-width="1.3"/>
<rect x="1837" y="267.7" width="12" height="12" fill="none" stroke="#a6a6a6" stroke-width="1.3"/>
<rect x="1898.7" y="247.4" width="12" height="12" fill="none" stroke="#a6a6a6" stroke-width="1.3"/>
<rect x="1960.5" y="245.7" width="12" height="12" fill="none" stroke="#a6a6a6" stroke-width="1.3"/>
<rect x="2145.7" y="242.4" width="12" height="12" fill="none" stroke="#a6a6a6" stroke-width="1.3"/>
<circle cx="1781.2" cy="323" r="5.6" fill="none" stroke="#a6a6a6" stroke-width="1.3"/>
<rect x="1790.7" y="320.3" width="12" height="12" fill="none" stroke="#a6a6a6" stroke-width="1.3"/>
<circle cx="1843" cy="290.1" r="5.6" fill="none" stroke="#a6a6a6" stroke-width="1.3"/>
<circle cx="1904.7" cy="259.9" r="5.6" fill="none" stroke="#a6a6a6" stroke-width="1.3"/>
<rect x="1960.5" y="251.2" width="12" height="12" fill="none" stroke="#a6a6a6" stroke-width="1.3"/>
<rect x="2145.7" y="245.7" width="12" height="12" fill="none" stroke="#a6a6a6" stroke-width="1.3"/>
<circle cx="1781.2" cy="333.9" r="5.6" fill="none" stroke="#a6a6a6" stroke-width="1.3"/>
<rect x="1790.7" y="335.1" width="12" height="12" fill="none" stroke="#a6a6a6" stroke-width="1.3"/>
<circle cx="1843" cy="306.5" r="5.6" fill="none" stroke="#a6a6a6" stroke-width="1.3"/>
<circle cx="1904.7" cy="265.4" r="5.6" fill="none" stroke="#a6a6a6" stroke-width="1.3"/>
<rect x="1960.5" y="256.7" width="12" height="12" fill="none" stroke="#a6a6a6" stroke-width="1.3"/>
<rect x="2145.7" y="248.5" width="12" height="12" fill="none" stroke="#a6a6a6" stroke-width="1.3"/>
<rect x="1775.2" y="336.7" width="12" height="12" fill="none" stroke="#a6a6a6" stroke-width="1.3"/>
<rect x="1790.7" y="322.5" width="12" height="12" fill="none" stroke="#a6a6a6" stroke-width="1.3"/>
<rect x="1837" y="325.8" width="12" height="12" fill="none" stroke="#a6a6a6" stroke-width="1.3"/>
<rect x="1898.7" y="264.9" width="12" height="12" fill="none" stroke="#a6a6a6" stroke-width="1.3"/>
<rect x="1960.5" y="262.2" width="12" height="12" fill="none" stroke="#a6a6a6" stroke-width="1.3"/>
<rect x="2145.7" y="251.2" width="12" height="12" fill="none" stroke="#a6a6a6" stroke-width="1.3"/>
<rect x="1775.2" y="349.9" width="12" height="12" fill="none" stroke="#a6a6a6" stroke-width="1.3"/>
<rect x="1790.7" y="349.9" width="12" height="12" fill="none" stroke="#a6a6a6" stroke-width="1.3"/>
<rect x="1837" y="328" width="12" height="12" fill="none" stroke="#a6a6a6" stroke-width="1.3"/>
<rect x="1898.7" y="270.4" width="12" height="12" fill="none" stroke="#a6a6a6" stroke-width="1.3"/>
<rect x="1960.5" y="267.7" width="12" height="12" fill="none" stroke="#a6a6a6" stroke-width="1.3"/>
<rect x="2145.7" y="254.5" width="12" height="12" fill="none" stroke="#a6a6a6" stroke-width="1.3"/>
<rect x="1775.2" y="360.8" width="12" height="12" fill="none" stroke="#a6a6a6" stroke-width="1.3"/>
<rect x="1790.7" y="357" width="12" height="12" fill="none" stroke="#a6a6a6" stroke-width="1.3"/>
<rect x="1837" y="338.9" width="12" height="12" fill="none" stroke="#a6a6a6" stroke-width="1.3"/>
<rect x="1898.7" y="276.4" width="12" height="12" fill="none" stroke="#a6a6a6" stroke-width="1.3"/>
<rect x="1960.5" y="273.1" width="12" height="12" fill="none" stroke="#a6a6a6" stroke-width="1.3"/>
<rect x="2145.7" y="278.6" width="12" height="12" fill="none" stroke="#a6a6a6" stroke-width="1.3"/>
<rect x="1775.2" y="371.8" width="12" height="12" fill="none" stroke="#a6a6a6" stroke-width="1.3"/>
<rect x="1790.7" y="368" width="12" height="12" fill="none" stroke="#a6a6a6" stroke-width="1.3"/>
<rect x="1837" y="347.7" width="12" height="12" fill="none" stroke="#a6a6a6" stroke-width="1.3"/>
<rect x="1898.7" y="284.1" width="12" height="12" fill="none" stroke="#a6a6a6" stroke-width="1.3"/>
<rect x="1960.5" y="278.6" width="12" height="12" fill="none" stroke="#a6a6a6" stroke-width="1.3"/>
<rect x="2145.7" y="278.6" width="12" height="12" fill="none" stroke="#a6a6a6" stroke-width="1.3"/>
<rect x="1775.2" y="382.8" width="12" height="12" fill="none" stroke="#a6a6a6" stroke-width="1.3"/>
<rect x="1790.7" y="338.9" width="12" height="12" fill="none" stroke="#a6a6a6" stroke-width="1.3"/>
<rect x="1837" y="355.4" width="12" height="12" fill="none" stroke="#a6a6a6" stroke-width="1.3"/>
<rect x="1898.7" y="302.2" width="12" height="12" fill="none" stroke="#a6a6a6" stroke-width="1.3"/>
<rect x="1960.5" y="284.1" width="12" height="12" fill="none" stroke="#a6a6a6" stroke-width="1.3"/>
<rect x="2145.7" y="311.5" width="12" height="12" fill="none" stroke="#a6a6a6" stroke-width="1.3"/>
<rect x="1775.2" y="393.7" width="12" height="12" fill="none" stroke="#a6a6a6" stroke-width="1.3"/>
<rect x="1790.7" y="382.8" width="12" height="12" fill="none" stroke="#a6a6a6" stroke-width="1.3"/>
<rect x="1837" y="362.5" width="12" height="12" fill="none" stroke="#a6a6a6" stroke-width="1.3"/>
<rect x="1898.7" y="311.5" width="12" height="12" fill="none" stroke="#a6a6a6" stroke-width="1.3"/>
<rect x="1960.5" y="287.4" width="12" height="12" fill="none" stroke="#a6a6a6" stroke-width="1.3"/>
<rect x="2145.7" y="317" width="12" height="12" fill="none" stroke="#a6a6a6" stroke-width="1.3"/>
<rect x="1775.2" y="410.2" width="12" height="12" fill="none" stroke="#a6a6a6" stroke-width="1.3"/>
<rect x="1790.7" y="399.2" width="12" height="12" fill="none" stroke="#a6a6a6" stroke-width="1.3"/>
<rect x="1837" y="355.4" width="12" height="12" fill="none" stroke="#a6a6a6" stroke-width="1.3"/>
<rect x="1898.7" y="319.7" width="12" height="12" fill="none" stroke="#a6a6a6" stroke-width="1.3"/>
<rect x="1960.5" y="318.6" width="12" height="12" fill="none" stroke="#a6a6a6" stroke-width="1.3"/>
<rect x="2145.7" y="318.6" width="12" height="12" fill="none" stroke="#a6a6a6" stroke-width="1.3"/>
<path d="M1781.2 417.3 L1787.7 427.6 L1774.7 427.6 Z" fill="none" stroke="#a6a6a6" stroke-width="1.3"/>
<path d="M1796.6 388.3 L1803.1 398.5 L1790.2 398.5 Z" fill="none" stroke="#a6a6a6" stroke-width="1.3"/>
<path d="M1843 349.9 L1849.4 360.2 L1836.5 360.2 Z" fill="none" stroke="#a6a6a6" stroke-width="1.3"/>
<path d="M1904.7 335.1 L1911.2 345.4 L1898.2 345.4 Z" fill="none" stroke="#a6a6a6" stroke-width="1.3"/>
<path d="M1966.4 382.8 L1972.9 393.1 L1960 393.1 Z" fill="none" stroke="#a6a6a6" stroke-width="1.3"/>
<path d="M2151.7 263.3 L2158.2 273.6 L2145.2 273.6 Z" fill="none" stroke="#a6a6a6" stroke-width="1.3"/>
<path d="M1781.2 426.6 L1787.7 436.9 L1774.7 436.9 Z" fill="none" stroke="#a6a6a6" stroke-width="1.3"/>
<path d="M1796.6 410.2 L1803.1 420.5 L1790.2 420.5 Z" fill="none" stroke="#a6a6a6" stroke-width="1.3"/>
<path d="M1843 433.8 L1849.4 444 L1836.5 444 Z" fill="none" stroke="#a6a6a6" stroke-width="1.3"/>
<path d="M1904.7 378.9 L1911.2 389.2 L1898.2 389.2 Z" fill="none" stroke="#a6a6a6" stroke-width="1.3"/>
<path d="M1966.4 333.4 L1972.9 343.7 L1960 343.7 Z" fill="none" stroke="#a6a6a6" stroke-width="1.3"/>
<path d="M2151.7 323.6 L2158.2 333.9 L2145.2 333.9 Z" fill="none" stroke="#a6a6a6" stroke-width="1.3"/>
<rect x="1775.2" y="430.5" width="12" height="12" fill="none" stroke="#a6a6a6" stroke-width="1.3"/>
<rect x="1790.7" y="417.3" width="12" height="12" fill="none" stroke="#a6a6a6" stroke-width="1.3"/>
<rect x="1837" y="382.8" width="12" height="12" fill="none" stroke="#a6a6a6" stroke-width="1.3"/>
<rect x="1898.7" y="325.8" width="12" height="12" fill="none" stroke="#a6a6a6" stroke-width="1.3"/>
<rect x="1960.5" y="357" width="12" height="12" fill="none" stroke="#a6a6a6" stroke-width="1.3"/>
<rect x="2145.7" y="335.6" width="12" height="12" fill="none" stroke="#a6a6a6" stroke-width="1.3"/>
<circle cx="1781.2" cy="460" r="5.6" fill="none" stroke="#a6a6a6" stroke-width="1.3"/>
<rect x="1790.7" y="432.1" width="12" height="12" fill="none" stroke="#a6a6a6" stroke-width="1.3"/>
<rect x="1837" y="360.8" width="12" height="12" fill="none" stroke="#a6a6a6" stroke-width="1.3"/>
<rect x="1898.7" y="273.1" width="12" height="12" fill="none" stroke="#a6a6a6" stroke-width="1.3"/>
<circle cx="1966.4" cy="355.9" r="5.6" fill="none" stroke="#a6a6a6" stroke-width="1.3"/>
<rect x="2145.7" y="328" width="12" height="12" fill="none" stroke="#a6a6a6" stroke-width="1.3"/>
<rect x="1775.2" y="468.8" width="12" height="12" fill="none" stroke="#a6a6a6" stroke-width="1.3"/>
<rect x="1790.7" y="461.2" width="12" height="12" fill="none" stroke="#a6a6a6" stroke-width="1.3"/>
<rect x="1837" y="399.8" width="12" height="12" fill="none" stroke="#a6a6a6" stroke-width="1.3"/>
<rect x="1898.7" y="317" width="12" height="12" fill="none" stroke="#a6a6a6" stroke-width="1.3"/>
<rect x="1960.5" y="369.6" width="12" height="12" fill="none" stroke="#a6a6a6" stroke-width="1.3"/>
<rect x="2145.7" y="347.1" width="12" height="12" fill="none" stroke="#a6a6a6" stroke-width="1.3"/>
<rect x="1775.2" y="477.6" width="12" height="12" fill="none" stroke="#a6a6a6" stroke-width="1.3"/>
<rect x="1790.7" y="476" width="12" height="12" fill="none" stroke="#a6a6a6" stroke-width="1.3"/>
<rect x="1837" y="344.4" width="12" height="12" fill="none" stroke="#a6a6a6" stroke-width="1.3"/>
<rect x="1898.7" y="416.2" width="12" height="12" fill="none" stroke="#a6a6a6" stroke-width="1.3"/>
<rect x="1960.5" y="363.6" width="12" height="12" fill="none" stroke="#a6a6a6" stroke-width="1.3"/>
<rect x="2145.7" y="341.7" width="12" height="12" fill="none" stroke="#a6a6a6" stroke-width="1.3"/>
<circle cx="1781.2" cy="498.4" r="5.6" fill="none" stroke="#a6a6a6" stroke-width="1.3"/>
<rect x="1790.7" y="333.4" width="12" height="12" fill="none" stroke="#a6a6a6" stroke-width="1.3"/>
<rect x="1837" y="439.2" width="12" height="12" fill="none" stroke="#a6a6a6" stroke-width="1.3"/>
<rect x="1898.7" y="267.7" width="12" height="12" fill="none" stroke="#a6a6a6" stroke-width="1.3"/>
<rect x="1960.5" y="386.1" width="12" height="12" fill="none" stroke="#a6a6a6" stroke-width="1.3"/>
<rect x="2145.7" y="358.1" width="12" height="12" fill="none" stroke="#a6a6a6" stroke-width="1.3"/>
<rect x="1775.2" y="300.5" width="12" height="12" fill="none" stroke="#a6a6a6" stroke-width="1.3"/>
<rect x="1790.7" y="355.4" width="12" height="12" fill="none" stroke="#a6a6a6" stroke-width="1.3"/>
<rect x="1837" y="433.8" width="12" height="12" fill="none" stroke="#a6a6a6" stroke-width="1.3"/>
<rect x="1898.7" y="289.6" width="12" height="12" fill="none" stroke="#a6a6a6" stroke-width="1.3"/>
<rect x="1960.5" y="410.7" width="12" height="12" fill="none" stroke="#a6a6a6" stroke-width="1.3"/>
<rect x="2145.7" y="358.1" width="12" height="12" fill="none" stroke="#a6a6a6" stroke-width="1.3"/>
<path d="M1781.2 338.9 L1787.7 349.2 L1774.7 349.2 Z" fill="none" stroke="#a6a6a6" stroke-width="1.3"/>
<rect x="1790.7" y="404.7" width="12" height="12" fill="none" stroke="#a6a6a6" stroke-width="1.3"/>
<rect x="1837" y="433.8" width="12" height="12" fill="none" stroke="#a6a6a6" stroke-width="1.3"/>
<path d="M1904.7 432.1 L1911.2 442.4 L1898.2 442.4 Z" fill="none" stroke="#a6a6a6" stroke-width="1.3"/>
<path d="M1966.4 450.2 L1972.9 460.5 L1960 460.5 Z" fill="none" stroke="#a6a6a6" stroke-width="1.3"/>
<path d="M2151.7 444.7 L2158.2 455 L2145.2 455 Z" fill="none" stroke="#a6a6a6" stroke-width="1.3"/>
<circle cx="1781.2" cy="520.3" r="5.6" fill="none" stroke="#a6a6a6" stroke-width="1.3"/>
<circle cx="1796.6" cy="520.3" r="5.6" fill="none" stroke="#a6a6a6" stroke-width="1.3"/>
<circle cx="1843" cy="476.5" r="5.6" fill="none" stroke="#a6a6a6" stroke-width="1.3"/>
<circle cx="1904.7" cy="443.6" r="5.6" fill="none" stroke="#a6a6a6" stroke-width="1.3"/>
<circle cx="1966.4" cy="433.7" r="5.6" fill="none" stroke="#a6a6a6" stroke-width="1.3"/>
<circle cx="2151.7" cy="467.1" r="5.6" fill="none" stroke="#a6a6a6" stroke-width="1.3"/>
<circle cx="1781.2" cy="487.4" r="5.6" fill="none" stroke="#a6a6a6" stroke-width="1.3"/>
<rect x="1790.7" y="448.6" width="12" height="12" fill="none" stroke="#a6a6a6" stroke-width="1.3"/>
<circle cx="1843" cy="494" r="5.6" fill="none" stroke="#a6a6a6" stroke-width="1.3"/>
<circle cx="1904.7" cy="454.5" r="5.6" fill="none" stroke="#a6a6a6" stroke-width="1.3"/>
<rect x="1960.5" y="382.8" width="12" height="12" fill="none" stroke="#a6a6a6" stroke-width="1.3"/>
<rect x="2145.7" y="335.6" width="12" height="12" fill="none" stroke="#a6a6a6" stroke-width="1.3"/>
</g>
<path d="M1781.2 386 L1796.6 397.5 L1843 344.9 L1904.7 295.6 L1966.4 312 L2151.7 295.6" fill="none" stroke="#d3b843" stroke-width="3.0" stroke-linejoin="round"/>
<path d="M1781.2 377.3 L1789.9 386 L1781.2 394.7 L1772.5 386 Z" fill="#d3b843" stroke="#d3b843" stroke-width="0.5"/>
<path d="M1796.6 388.8 L1805.3 397.5 L1796.6 406.2 L1787.9 397.5 Z" fill="#d3b843" stroke="#d3b843" stroke-width="0.5"/>
<path d="M1843 336.2 L1851.7 344.9 L1843 353.6 L1834.2 344.9 Z" fill="#d3b843" stroke="#d3b843" stroke-width="0.5"/>
<path d="M1904.7 286.9 L1913.4 295.6 L1904.7 304.3 L1896 295.6 Z" fill="#d3b843" stroke="#d3b843" stroke-width="0.5"/>
<path d="M1966.4 303.3 L1975.1 312 L1966.4 320.7 L1957.7 312 Z" fill="#d3b843" stroke="#d3b843" stroke-width="0.5"/>
<path d="M2151.7 286.9 L2160.4 295.6 L2151.7 304.3 L2143 295.6 Z" fill="#d3b843" stroke="#d3b843" stroke-width="0.5"/>
</g>
<g>
<path d="M192.8 1322.5 V1733 H335.4" fill="none" stroke="#0d0d0d" stroke-width="3.7" stroke-linejoin="miter"/>
<path d="M180 1733 H192.8" stroke="#0d0d0d" stroke-width="3.0"/>
<text x="176.8" y="1740.9" font-size="22" text-anchor="end" fill="#141414" xml:space="preserve">0</text>
<path d="M180 1651.2 H192.8" stroke="#0d0d0d" stroke-width="3.0"/>
<text x="176.8" y="1659.1" font-size="22" text-anchor="end" fill="#141414" xml:space="preserve">50</text>
<path d="M180 1569.4 H192.8" stroke="#0d0d0d" stroke-width="3.0"/>
<text x="176.8" y="1577.3" font-size="22" text-anchor="end" fill="#141414" xml:space="preserve">100</text>
<path d="M180 1487.6 H192.8" stroke="#0d0d0d" stroke-width="3.0"/>
<text x="176.8" y="1495.5" font-size="22" text-anchor="end" fill="#141414" xml:space="preserve">150</text>
<path d="M180 1405.8 H192.8" stroke="#0d0d0d" stroke-width="3.0"/>
<text x="176.8" y="1413.7" font-size="22" text-anchor="end" fill="#141414" xml:space="preserve">200</text>
<path d="M180 1324 H192.8" stroke="#0d0d0d" stroke-width="3.0"/>
<text x="176.8" y="1331.9" font-size="22" text-anchor="end" fill="#141414" xml:space="preserve">250</text>
<path d="M192.8 1733 V1745.8" stroke="#0d0d0d" stroke-width="3.0"/>
<text x="192.8" y="1768.3" font-size="22" text-anchor="middle" fill="#141414" xml:space="preserve">0</text>
<path d="M239.8 1733 V1745.8" stroke="#0d0d0d" stroke-width="3.0"/>
<text x="239.8" y="1768.3" font-size="22" text-anchor="middle" fill="#141414" xml:space="preserve">2</text>
<path d="M286.9 1733 V1745.8" stroke="#0d0d0d" stroke-width="3.0"/>
<text x="286.9" y="1768.3" font-size="22" text-anchor="middle" fill="#141414" xml:space="preserve">4</text>
<path d="M333.9 1733 V1745.8" stroke="#0d0d0d" stroke-width="3.0"/>
<text x="333.9" y="1768.3" font-size="22" text-anchor="middle" fill="#141414" xml:space="preserve">6</text>
<text x="264.7" y="1297.4" font-size="38" text-anchor="middle" fill="#141414" xml:space="preserve">NUC</text>
<text x="263.4" y="1804.9" font-size="28.3" text-anchor="middle" fill="#141414" xml:space="preserve">months</text>
<text x="127.7" y="1525" font-size="28.3" text-anchor="middle" fill="#141414" transform="rotate(-90 127.7 1525)" xml:space="preserve">OD450 nm</text>
<g fill="none" stroke="#a9a9ad" stroke-width="1.3" stroke-linejoin="round">
<path d="M192.8 1345.3 L333.9 1713.4"/>
<path d="M192.8 1425.4 L333.9 1685.6"/>
<path d="M192.8 1438.5 L333.9 1693.7"/>
<path d="M192.8 1490.9 L333.9 1700.3"/>
<path d="M192.8 1513.8 L333.9 1710.1"/>
<path d="M192.8 1520.3 L333.9 1718.3"/>
<path d="M192.8 1526.9 L333.9 1723.2"/>
<path d="M192.8 1535 L333.9 1728.1"/>
<path d="M192.8 1629.9 L333.9 1726.5"/>
</g>
<g>
<rect x="185.6" y="1338.1" width="14.4" height="14.4" fill="none" stroke="#a6a6a6" stroke-width="1.5"/>
<rect x="326.7" y="1706.2" width="14.4" height="14.4" fill="none" stroke="#a6a6a6" stroke-width="1.5"/>
<rect x="185.6" y="1418.2" width="14.4" height="14.4" fill="none" stroke="#a6a6a6" stroke-width="1.5"/>
<rect x="326.7" y="1678.4" width="14.4" height="14.4" fill="none" stroke="#a6a6a6" stroke-width="1.5"/>
<rect x="185.6" y="1431.3" width="14.4" height="14.4" fill="none" stroke="#a6a6a6" stroke-width="1.5"/>
<rect x="326.7" y="1686.5" width="14.4" height="14.4" fill="none" stroke="#a6a6a6" stroke-width="1.5"/>
<rect x="185.6" y="1483.7" width="14.4" height="14.4" fill="none" stroke="#a6a6a6" stroke-width="1.5"/>
<rect x="326.7" y="1693.1" width="14.4" height="14.4" fill="none" stroke="#a6a6a6" stroke-width="1.5"/>
<rect x="185.6" y="1506.6" width="14.4" height="14.4" fill="none" stroke="#a6a6a6" stroke-width="1.5"/>
<rect x="326.7" y="1702.9" width="14.4" height="14.4" fill="none" stroke="#a6a6a6" stroke-width="1.5"/>
<rect x="185.6" y="1513.1" width="14.4" height="14.4" fill="none" stroke="#a6a6a6" stroke-width="1.5"/>
<rect x="326.7" y="1711.1" width="14.4" height="14.4" fill="none" stroke="#a6a6a6" stroke-width="1.5"/>
<rect x="185.6" y="1519.7" width="14.4" height="14.4" fill="none" stroke="#a6a6a6" stroke-width="1.5"/>
<rect x="326.7" y="1716" width="14.4" height="14.4" fill="none" stroke="#a6a6a6" stroke-width="1.5"/>
<rect x="185.6" y="1527.8" width="14.4" height="14.4" fill="none" stroke="#a6a6a6" stroke-width="1.5"/>
<rect x="326.7" y="1720.9" width="14.4" height="14.4" fill="none" stroke="#a6a6a6" stroke-width="1.5"/>
<rect x="185.6" y="1622.7" width="14.4" height="14.4" fill="none" stroke="#a6a6a6" stroke-width="1.5"/>
<rect x="326.7" y="1719.3" width="14.4" height="14.4" fill="none" stroke="#a6a6a6" stroke-width="1.5"/>
</g>
<path d="M193.8 1706 H333.9" stroke="#e8432e" stroke-width="1.3" stroke-dasharray="3.2 1.6" fill="none"/>
<path d="M192.8 1504 L333.9 1715" fill="none" stroke="#b38600" stroke-width="3.4" stroke-linejoin="round"/>
<rect x="180.8" y="1492" width="24" height="24" fill="#b38600" stroke="#b38600" stroke-width="0.5"/>
<rect x="321.9" y="1703" width="24" height="24" fill="#b38600" stroke="#b38600" stroke-width="0.5"/>
</g>
<g>
<path d="M478.4 1321 V1729.5 H620.5" fill="none" stroke="#0d0d0d" stroke-width="3.7" stroke-linejoin="miter"/>
<path d="M465.5 1729.5 H478.4" stroke="#0d0d0d" stroke-width="3.0"/>
<text x="462.4" y="1737.4" font-size="22" text-anchor="end" fill="#141414" xml:space="preserve">0</text>
<path d="M465.5 1648.1 H478.4" stroke="#0d0d0d" stroke-width="3.0"/>
<text x="462.4" y="1656" font-size="22" text-anchor="end" fill="#141414" xml:space="preserve">20</text>
<path d="M465.5 1566.7 H478.4" stroke="#0d0d0d" stroke-width="3.0"/>
<text x="462.4" y="1574.6" font-size="22" text-anchor="end" fill="#141414" xml:space="preserve">40</text>
<path d="M465.5 1485.3 H478.4" stroke="#0d0d0d" stroke-width="3.0"/>
<text x="462.4" y="1493.2" font-size="22" text-anchor="end" fill="#141414" xml:space="preserve">60</text>
<path d="M465.5 1403.9 H478.4" stroke="#0d0d0d" stroke-width="3.0"/>
<text x="462.4" y="1411.8" font-size="22" text-anchor="end" fill="#141414" xml:space="preserve">80</text>
<path d="M465.5 1322.5 H478.4" stroke="#0d0d0d" stroke-width="3.0"/>
<text x="462.4" y="1330.4" font-size="22" text-anchor="end" fill="#141414" xml:space="preserve">100</text>
<path d="M478.4 1729.5 V1742.3" stroke="#0d0d0d" stroke-width="3.0"/>
<text x="478.4" y="1764.8" font-size="22" text-anchor="middle" fill="#141414" xml:space="preserve">0</text>
<path d="M525.3 1729.5 V1742.3" stroke="#0d0d0d" stroke-width="3.0"/>
<text x="525.3" y="1764.8" font-size="22" text-anchor="middle" fill="#141414" xml:space="preserve">2</text>
<path d="M572.1 1729.5 V1742.3" stroke="#0d0d0d" stroke-width="3.0"/>
<text x="572.1" y="1764.8" font-size="22" text-anchor="middle" fill="#141414" xml:space="preserve">4</text>
<path d="M619 1729.5 V1742.3" stroke="#0d0d0d" stroke-width="3.0"/>
<text x="619" y="1764.8" font-size="22" text-anchor="middle" fill="#141414" xml:space="preserve">6</text>
<text x="570.5" y="1296.2" font-size="38" text-anchor="middle" fill="#141414" xml:space="preserve">Histone</text>
<text x="548.9" y="1799.8" font-size="28.3" text-anchor="middle" fill="#141414" xml:space="preserve">months</text>
<text x="413.6" y="1521.5" font-size="28.3" text-anchor="middle" fill="#141414" transform="rotate(-90 413.6 1521.5)" xml:space="preserve">OD450 nm</text>
<g fill="none" stroke="#a9a9ad" stroke-width="1.3" stroke-linejoin="round">
<path d="M478.4 1412 L619 1725.4"/>
<path d="M478.4 1542.3 L619 1727.5"/>
<path d="M478.4 1607.4 L619 1729.5"/>
<path d="M478.4 1619.6 L619 1728.3"/>
<path d="M478.4 1664.4 L619 1729.5"/>
</g>
<g>
<rect x="471.2" y="1404.8" width="14.4" height="14.4" fill="none" stroke="#a6a6a6" stroke-width="1.5"/>
<rect x="611.8" y="1718.2" width="14.4" height="14.4" fill="none" stroke="#a6a6a6" stroke-width="1.5"/>
<rect x="471.2" y="1535.1" width="14.4" height="14.4" fill="none" stroke="#a6a6a6" stroke-width="1.5"/>
<rect x="611.8" y="1720.3" width="14.4" height="14.4" fill="none" stroke="#a6a6a6" stroke-width="1.5"/>
<rect x="471.2" y="1600.2" width="14.4" height="14.4" fill="none" stroke="#a6a6a6" stroke-width="1.5"/>
<rect x="611.8" y="1722.3" width="14.4" height="14.4" fill="none" stroke="#a6a6a6" stroke-width="1.5"/>
<rect x="471.2" y="1612.4" width="14.4" height="14.4" fill="none" stroke="#a6a6a6" stroke-width="1.5"/>
<rect x="611.8" y="1721.1" width="14.4" height="14.4" fill="none" stroke="#a6a6a6" stroke-width="1.5"/>
<rect x="471.2" y="1657.2" width="14.4" height="14.4" fill="none" stroke="#a6a6a6" stroke-width="1.5"/>
<rect x="611.8" y="1722.3" width="14.4" height="14.4" fill="none" stroke="#a6a6a6" stroke-width="1.5"/>
</g>
<path d="M479.4 1711.6 H619" stroke="#f08f7e" stroke-width="2.8" stroke-dasharray="2.4 1.2" fill="none"/>
<path d="M478.4 1601.3 L619 1729.5" fill="none" stroke="#7a27b0" stroke-width="3.4" stroke-linejoin="round"/>
<rect x="466.4" y="1589.3" width="24" height="24" fill="#7a27b0" stroke="#7a27b0" stroke-width="0.5"/>
<rect x="607" y="1717.5" width="24" height="24" fill="#7a27b0" stroke="#7a27b0" stroke-width="0.5"/>
</g>
<g>
<path d="M764.1 1321.4 V1722.4 H903.1" fill="none" stroke="#0d0d0d" stroke-width="3.6445000000000003" stroke-linejoin="miter"/>
<path d="M751.4 1722.4 H764.1" stroke="#0d0d0d" stroke-width="2.955"/>
<text x="748.3" y="1730.2" font-size="21.7" text-anchor="end" fill="#141414" xml:space="preserve">0</text>
<path d="M751.4 1622.5 H764.1" stroke="#0d0d0d" stroke-width="2.955"/>
<text x="748.3" y="1630.3" font-size="21.7" text-anchor="end" fill="#141414" xml:space="preserve">20</text>
<path d="M751.4 1522.7 H764.1" stroke="#0d0d0d" stroke-width="2.955"/>
<text x="748.3" y="1530.4" font-size="21.7" text-anchor="end" fill="#141414" xml:space="preserve">40</text>
<path d="M751.4 1422.8 H764.1" stroke="#0d0d0d" stroke-width="2.955"/>
<text x="748.3" y="1430.5" font-size="21.7" text-anchor="end" fill="#141414" xml:space="preserve">60</text>
<path d="M751.4 1322.9 H764.1" stroke="#0d0d0d" stroke-width="2.955"/>
<text x="748.3" y="1330.7" font-size="21.7" text-anchor="end" fill="#141414" xml:space="preserve">80</text>
<path d="M764.1 1722.4 V1735.1" stroke="#0d0d0d" stroke-width="2.955"/>
<text x="764.1" y="1757.2" font-size="21.7" text-anchor="middle" fill="#141414" xml:space="preserve">0</text>
<path d="M809.9 1722.4 V1735.1" stroke="#0d0d0d" stroke-width="2.955"/>
<text x="809.9" y="1757.2" font-size="21.7" text-anchor="middle" fill="#141414" xml:space="preserve">2</text>
<path d="M855.8 1722.4 V1735.1" stroke="#0d0d0d" stroke-width="2.955"/>
<text x="855.8" y="1757.2" font-size="21.7" text-anchor="middle" fill="#141414" xml:space="preserve">4</text>
<path d="M901.6 1722.4 V1735.1" stroke="#0d0d0d" stroke-width="2.955"/>
<text x="901.6" y="1757.2" font-size="21.7" text-anchor="middle" fill="#141414" xml:space="preserve">6</text>
<text x="832.4" y="1298.2" font-size="37.4" text-anchor="middle" fill="#141414" xml:space="preserve">Sm</text>
<text x="832.8" y="1791.9" font-size="28.3" text-anchor="middle" fill="#141414" xml:space="preserve">months</text>
<text x="713" y="1519.1" font-size="28.3" text-anchor="middle" fill="#141414" transform="rotate(-90 713 1519.1)" xml:space="preserve">OD450 nm</text>
<g fill="none" stroke="#a9a9ad" stroke-width="1.3" stroke-linejoin="round">
<path d="M764.1 1390.3 L901.6 1722.4"/>
<path d="M764.1 1520.2 L901.6 1717.4"/>
<path d="M764.1 1637.5 L901.6 1698.9"/>
<path d="M764.1 1653.5 L901.6 1619"/>
</g>
<g>
<rect x="757" y="1383.2" width="14.2" height="14.2" fill="none" stroke="#a6a6a6" stroke-width="1.5"/>
<rect x="894.5" y="1715.3" width="14.2" height="14.2" fill="none" stroke="#a6a6a6" stroke-width="1.5"/>
<rect x="757" y="1513.1" width="14.2" height="14.2" fill="none" stroke="#a6a6a6" stroke-width="1.5"/>
<rect x="894.5" y="1710.3" width="14.2" height="14.2" fill="none" stroke="#a6a6a6" stroke-width="1.5"/>
<rect x="757" y="1630.4" width="14.2" height="14.2" fill="none" stroke="#a6a6a6" stroke-width="1.5"/>
<rect x="894.5" y="1691.8" width="14.2" height="14.2" fill="none" stroke="#a6a6a6" stroke-width="1.5"/>
<rect x="757" y="1646.4" width="14.2" height="14.2" fill="none" stroke="#a6a6a6" stroke-width="1.5"/>
<rect x="894.5" y="1611.9" width="14.2" height="14.2" fill="none" stroke="#a6a6a6" stroke-width="1.5"/>
</g>
<path d="M765.1 1684.9 H901.6" stroke="#f08f7e" stroke-width="3.0" stroke-dasharray="2.4 1.2" fill="none"/>
<path d="M764.1 1634 L901.6 1720.9" fill="none" stroke="#1f9ca8" stroke-width="3.4" stroke-linejoin="round"/>
<rect x="752.1" y="1622" width="24" height="24" fill="#1f9ca8" stroke="#1f9ca8" stroke-width="0.5"/>
<rect x="889.6" y="1708.9" width="24" height="24" fill="#1f9ca8" stroke="#1f9ca8" stroke-width="0.5"/>
</g>
<g>
<path d="M1041 1324.2 V1724.4 H1180.7" fill="none" stroke="#0d0d0d" stroke-width="3.6445000000000003" stroke-linejoin="miter"/>
<path d="M1028.3 1724.4 H1041" stroke="#0d0d0d" stroke-width="2.955"/>
<text x="1025.2" y="1732.2" font-size="21.7" text-anchor="end" fill="#141414" xml:space="preserve">0</text>
<path d="M1028.3 1591.5 H1041" stroke="#0d0d0d" stroke-width="2.955"/>
<text x="1025.2" y="1599.3" font-size="21.7" text-anchor="end" fill="#141414" xml:space="preserve">100</text>
<path d="M1028.3 1458.6 H1041" stroke="#0d0d0d" stroke-width="2.955"/>
<text x="1025.2" y="1466.4" font-size="21.7" text-anchor="end" fill="#141414" xml:space="preserve">200</text>
<path d="M1028.3 1325.7 H1041" stroke="#0d0d0d" stroke-width="2.955"/>
<text x="1025.2" y="1333.5" font-size="21.7" text-anchor="end" fill="#141414" xml:space="preserve">300</text>
<path d="M1041 1724.4 V1737.1" stroke="#0d0d0d" stroke-width="2.955"/>
<text x="1041" y="1759.2" font-size="21.7" text-anchor="middle" fill="#141414" xml:space="preserve">0</text>
<path d="M1087.1 1724.4 V1737.1" stroke="#0d0d0d" stroke-width="2.955"/>
<text x="1087.1" y="1759.2" font-size="21.7" text-anchor="middle" fill="#141414" xml:space="preserve">2</text>
<path d="M1133.1 1724.4 V1737.1" stroke="#0d0d0d" stroke-width="2.955"/>
<text x="1133.1" y="1759.2" font-size="21.7" text-anchor="middle" fill="#141414" xml:space="preserve">4</text>
<path d="M1179.2 1724.4 V1737.1" stroke="#0d0d0d" stroke-width="2.955"/>
<text x="1179.2" y="1759.2" font-size="21.7" text-anchor="middle" fill="#141414" xml:space="preserve">6</text>
<text x="1128.8" y="1298.2" font-size="37.4" text-anchor="middle" fill="#141414" xml:space="preserve">SCL70</text>
<text x="1110.1" y="1793.1" font-size="28.3" text-anchor="middle" fill="#141414" xml:space="preserve">months</text>
<text x="978.1" y="1521.1" font-size="28.3" text-anchor="middle" fill="#141414" transform="rotate(-90 978.1 1521.1)" xml:space="preserve">OD450 nm</text>
<g fill="none" stroke="#a9a9ad" stroke-width="1.3" stroke-linejoin="round">
<path d="M1041 1360.3 L1179.2 1644.7"/>
<path d="M1041 1389.5 L1179.2 1554.3"/>
<path d="M1041 1433.3 L1179.2 1610.1"/>
<path d="M1041 1448 L1179.2 1564.9"/>
<path d="M1041 1490.5 L1179.2 1554.3"/>
<path d="M1041 1529 L1179.2 1583.5"/>
<path d="M1041 1580.2 L1179.2 1680"/>
<path d="M1041 1621.1 L1179.2 1706.7"/>
</g>
<g>
<circle cx="1041" cy="1360.3" r="6.7" fill="none" stroke="#a6a6a6" stroke-width="1.5"/>
<circle cx="1179.2" cy="1644.7" r="6.7" fill="none" stroke="#a6a6a6" stroke-width="1.5"/>
<circle cx="1041" cy="1389.5" r="6.7" fill="none" stroke="#a6a6a6" stroke-width="1.5"/>
<circle cx="1179.2" cy="1554.3" r="6.7" fill="none" stroke="#a6a6a6" stroke-width="1.5"/>
<circle cx="1041" cy="1433.3" r="6.7" fill="none" stroke="#a6a6a6" stroke-width="1.5"/>
<circle cx="1179.2" cy="1610.1" r="6.7" fill="none" stroke="#a6a6a6" stroke-width="1.5"/>
<circle cx="1041" cy="1448" r="6.7" fill="none" stroke="#a6a6a6" stroke-width="1.5"/>
<circle cx="1179.2" cy="1564.9" r="6.7" fill="none" stroke="#a6a6a6" stroke-width="1.5"/>
<circle cx="1041" cy="1490.5" r="6.7" fill="none" stroke="#a6a6a6" stroke-width="1.5"/>
<circle cx="1179.2" cy="1554.3" r="6.7" fill="none" stroke="#a6a6a6" stroke-width="1.5"/>
<circle cx="1041" cy="1529" r="6.7" fill="none" stroke="#a6a6a6" stroke-width="1.5"/>
<circle cx="1179.2" cy="1583.5" r="6.7" fill="none" stroke="#a6a6a6" stroke-width="1.5"/>
<circle cx="1041" cy="1580.2" r="6.7" fill="none" stroke="#a6a6a6" stroke-width="1.5"/>
<circle cx="1179.2" cy="1680" r="6.7" fill="none" stroke="#a6a6a6" stroke-width="1.5"/>
<circle cx="1041" cy="1621.1" r="6.7" fill="none" stroke="#a6a6a6" stroke-width="1.5"/>
<circle cx="1179.2" cy="1706.7" r="6.7" fill="none" stroke="#a6a6a6" stroke-width="1.5"/>
</g>
<path d="M1042 1703.9 H1179.2" stroke="#e8432e" stroke-width="1.3" stroke-dasharray="3.2 1.6" fill="none"/>
<path d="M1041 1469.2 L1179.2 1610.1" fill="none" stroke="#b5207f" stroke-width="3.4" stroke-linejoin="round"/>
<circle cx="1041" cy="1469.2" r="11" fill="#b5207f" stroke="#b5207f" stroke-width="0.5"/>
<circle cx="1179.2" cy="1610.1" r="11" fill="#b5207f" stroke="#b5207f" stroke-width="0.5"/>
</g>
<g>
<path d="M1322.5 1330.3 V1725.8 H1458.4" fill="none" stroke="#0d0d0d" stroke-width="3.5705" stroke-linejoin="miter"/>
<path d="M1310.1 1725.8 H1322.5" stroke="#0d0d0d" stroke-width="2.895"/>
<text x="1307.1" y="1733.4" font-size="21.2" text-anchor="end" fill="#141414" xml:space="preserve">0</text>
<path d="M1310.1 1594.4 H1322.5" stroke="#0d0d0d" stroke-width="2.895"/>
<text x="1307.1" y="1602" font-size="21.2" text-anchor="end" fill="#141414" xml:space="preserve">50</text>
<path d="M1310.1 1463.1 H1322.5" stroke="#0d0d0d" stroke-width="2.895"/>
<text x="1307.1" y="1470.7" font-size="21.2" text-anchor="end" fill="#141414" xml:space="preserve">100</text>
<path d="M1310.1 1331.7 H1322.5" stroke="#0d0d0d" stroke-width="2.895"/>
<text x="1307.1" y="1339.3" font-size="21.2" text-anchor="end" fill="#141414" xml:space="preserve">150</text>
<path d="M1322.5 1725.8 V1738.2" stroke="#0d0d0d" stroke-width="2.895"/>
<text x="1322.5" y="1759.9" font-size="21.2" text-anchor="middle" fill="#141414" xml:space="preserve">0</text>
<path d="M1367.3 1725.8 V1738.2" stroke="#0d0d0d" stroke-width="2.895"/>
<text x="1367.3" y="1759.9" font-size="21.2" text-anchor="middle" fill="#141414" xml:space="preserve">2</text>
<path d="M1412.2 1725.8 V1738.2" stroke="#0d0d0d" stroke-width="2.895"/>
<text x="1412.2" y="1759.9" font-size="21.2" text-anchor="middle" fill="#141414" xml:space="preserve">4</text>
<path d="M1457 1725.8 V1738.2" stroke="#0d0d0d" stroke-width="2.895"/>
<text x="1457" y="1759.9" font-size="21.2" text-anchor="middle" fill="#141414" xml:space="preserve">6</text>
<text x="1402.7" y="1304.1" font-size="36.7" text-anchor="middle" fill="#141414" xml:space="preserve">SS-A/Ro52</text>
<text x="1390.3" y="1794.7" font-size="27.7" text-anchor="middle" fill="#141414" xml:space="preserve">months</text>
<text x="1260.7" y="1525.8" font-size="27.7" text-anchor="middle" fill="#141414" transform="rotate(-90 1260.7 1525.8)" xml:space="preserve">OD450 nm</text>
<g fill="none" stroke="#a9a9ad" stroke-width="1.3" stroke-linejoin="round">
<path d="M1322.5 1407.9 L1457 1418.4"/>
<path d="M1322.5 1415.8 L1457 1457.8"/>
<path d="M1322.5 1482.8 L1457 1488.3"/>
<path d="M1322.5 1536.6 L1457 1636.5"/>
<path d="M1322.5 1605.7 L1457 1636.5"/>
<path d="M1322.5 1610.2 L1457 1650.1"/>
<path d="M1322.5 1619.1 L1457 1725.8"/>
<path d="M1322.5 1701.6 L1457 1725.8"/>
</g>
<g>
<circle cx="1322.5" cy="1407.9" r="6.5" fill="none" stroke="#a6a6a6" stroke-width="1.5"/>
<circle cx="1457" cy="1418.4" r="6.5" fill="none" stroke="#a6a6a6" stroke-width="1.5"/>
<rect x="1315.6" y="1408.8" width="13.9" height="13.9" fill="none" stroke="#a6a6a6" stroke-width="1.5"/>
<rect x="1450.1" y="1450.9" width="13.9" height="13.9" fill="none" stroke="#a6a6a6" stroke-width="1.5"/>
<path d="M1322.5 1475.8 L1330 1487.8 L1315 1487.8 Z" fill="none" stroke="#a6a6a6" stroke-width="1.5"/>
<path d="M1457 1481.3 L1464.5 1493.3 L1449.5 1493.3 Z" fill="none" stroke="#a6a6a6" stroke-width="1.5"/>
<circle cx="1322.5" cy="1536.6" r="6.5" fill="none" stroke="#a6a6a6" stroke-width="1.5"/>
<circle cx="1457" cy="1636.5" r="6.5" fill="none" stroke="#a6a6a6" stroke-width="1.5"/>
<rect x="1315.6" y="1598.8" width="13.9" height="13.9" fill="none" stroke="#a6a6a6" stroke-width="1.5"/>
<rect x="1450.1" y="1629.5" width="13.9" height="13.9" fill="none" stroke="#a6a6a6" stroke-width="1.5"/>
<rect x="1315.6" y="1603.2" width="13.9" height="13.9" fill="none" stroke="#a6a6a6" stroke-width="1.5"/>
<rect x="1450.1" y="1643.2" width="13.9" height="13.9" fill="none" stroke="#a6a6a6" stroke-width="1.5"/>
<rect x="1315.6" y="1612.2" width="13.9" height="13.9" fill="none" stroke="#a6a6a6" stroke-width="1.5"/>
<rect x="1450.1" y="1718.9" width="13.9" height="13.9" fill="none" stroke="#a6a6a6" stroke-width="1.5"/>
<path d="M1322.5 1694.7 L1330 1706.6 L1315 1706.6 Z" fill="none" stroke="#a6a6a6" stroke-width="1.5"/>
<circle cx="1457" cy="1725.8" r="6.5" fill="none" stroke="#a6a6a6" stroke-width="1.5"/>
</g>
<path d="M1323.5 1713.2 H1457" stroke="#e8432e" stroke-width="1.3" stroke-dasharray="3.2 1.6" fill="none"/>
<path d="M1322.5 1571.3 L1457 1636.5" fill="none" stroke="#b08a00" stroke-width="2.9" stroke-linejoin="round"/>
<path d="M1322.5 1563.3 L1330.5 1571.3 L1322.5 1579.3 L1314.5 1571.3 Z" fill="#b08a00" stroke="#b08a00" stroke-width="0.5"/>
<path d="M1457 1628.5 L1465 1636.5 L1457 1644.5 L1449 1636.5 Z" fill="#b08a00" stroke="#b08a00" stroke-width="0.5"/>
</g>
<g>
<path d="M1601.7 1330.3 V1721.5 H1738.1" fill="none" stroke="#0d0d0d" stroke-width="3.5705" stroke-linejoin="miter"/>
<path d="M1589.3 1721.5 H1601.7" stroke="#0d0d0d" stroke-width="2.895"/>
<text x="1586.3" y="1729.1" font-size="21.2" text-anchor="end" fill="#141414" xml:space="preserve">0</text>
<path d="M1589.3 1643.5 H1601.7" stroke="#0d0d0d" stroke-width="2.895"/>
<text x="1586.3" y="1651.1" font-size="21.2" text-anchor="end" fill="#141414" xml:space="preserve">100</text>
<path d="M1589.3 1565.6 H1601.7" stroke="#0d0d0d" stroke-width="2.895"/>
<text x="1586.3" y="1573.2" font-size="21.2" text-anchor="end" fill="#141414" xml:space="preserve">200</text>
<path d="M1589.3 1487.6 H1601.7" stroke="#0d0d0d" stroke-width="2.895"/>
<text x="1586.3" y="1495.2" font-size="21.2" text-anchor="end" fill="#141414" xml:space="preserve">300</text>
<path d="M1589.3 1409.7 H1601.7" stroke="#0d0d0d" stroke-width="2.895"/>
<text x="1586.3" y="1417.3" font-size="21.2" text-anchor="end" fill="#141414" xml:space="preserve">400</text>
<path d="M1589.3 1331.7 H1601.7" stroke="#0d0d0d" stroke-width="2.895"/>
<text x="1586.3" y="1339.3" font-size="21.2" text-anchor="end" fill="#141414" xml:space="preserve">500</text>
<path d="M1601.7 1721.5 V1733.9" stroke="#0d0d0d" stroke-width="2.895"/>
<text x="1601.7" y="1755.6" font-size="21.2" text-anchor="middle" fill="#141414" xml:space="preserve">0</text>
<path d="M1646.7 1721.5 V1733.9" stroke="#0d0d0d" stroke-width="2.895"/>
<text x="1646.7" y="1755.6" font-size="21.2" text-anchor="middle" fill="#141414" xml:space="preserve">2</text>
<path d="M1691.7 1721.5 V1733.9" stroke="#0d0d0d" stroke-width="2.895"/>
<text x="1691.7" y="1755.6" font-size="21.2" text-anchor="middle" fill="#141414" xml:space="preserve">4</text>
<path d="M1736.7 1721.5 V1733.9" stroke="#0d0d0d" stroke-width="2.895"/>
<text x="1736.7" y="1755.6" font-size="21.2" text-anchor="middle" fill="#141414" xml:space="preserve">6</text>
<text x="1681.9" y="1304.1" font-size="36.7" text-anchor="middle" fill="#141414" xml:space="preserve">SS-A/Ro60</text>
<text x="1669.7" y="1789.8" font-size="27.7" text-anchor="middle" fill="#141414" xml:space="preserve">months</text>
<text x="1540.4" y="1523.1" font-size="27.7" text-anchor="middle" fill="#141414" transform="rotate(-90 1540.4 1523.1)" xml:space="preserve">OD450 nm</text>
<g fill="none" stroke="#a9a9ad" stroke-width="1.3" stroke-linejoin="round">
<path d="M1601.7 1370.7 L1736.7 1665.4"/>
<path d="M1601.7 1565.6 L1736.7 1702.8"/>
<path d="M1601.7 1600.7 L1736.7 1701.2"/>
<path d="M1601.7 1608.5 L1736.7 1635.7"/>
<path d="M1601.7 1666.9 L1736.7 1704.3"/>
<path d="M1601.7 1709.8 L1736.7 1721.5"/>
<path d="M1601.7 1712.1 L1736.7 1715.3"/>
</g>
<g>
<circle cx="1601.7" cy="1370.7" r="6.5" fill="none" stroke="#a6a6a6" stroke-width="1.5"/>
<circle cx="1736.7" cy="1665.4" r="6.5" fill="none" stroke="#a6a6a6" stroke-width="1.5"/>
<rect x="1594.8" y="1558.6" width="13.9" height="13.9" fill="none" stroke="#a6a6a6" stroke-width="1.5"/>
<rect x="1729.8" y="1695.8" width="13.9" height="13.9" fill="none" stroke="#a6a6a6" stroke-width="1.5"/>
<rect x="1594.8" y="1593.7" width="13.9" height="13.9" fill="none" stroke="#a6a6a6" stroke-width="1.5"/>
<rect x="1729.8" y="1694.3" width="13.9" height="13.9" fill="none" stroke="#a6a6a6" stroke-width="1.5"/>
<circle cx="1601.7" cy="1608.5" r="6.5" fill="none" stroke="#a6a6a6" stroke-width="1.5"/>
<circle cx="1736.7" cy="1635.7" r="6.5" fill="none" stroke="#a6a6a6" stroke-width="1.5"/>
<rect x="1594.8" y="1660" width="13.9" height="13.9" fill="none" stroke="#a6a6a6" stroke-width="1.5"/>
<rect x="1729.8" y="1697.4" width="13.9" height="13.9" fill="none" stroke="#a6a6a6" stroke-width="1.5"/>
<rect x="1594.8" y="1702.9" width="13.9" height="13.9" fill="none" stroke="#a6a6a6" stroke-width="1.5"/>
<rect x="1729.8" y="1714.6" width="13.9" height="13.9" fill="none" stroke="#a6a6a6" stroke-width="1.5"/>
<rect x="1594.8" y="1705.2" width="13.9" height="13.9" fill="none" stroke="#a6a6a6" stroke-width="1.5"/>
<rect x="1729.8" y="1708.3" width="13.9" height="13.9" fill="none" stroke="#a6a6a6" stroke-width="1.5"/>
</g>
<path d="M1602.7 1709.3 H1736.7" stroke="#e8432e" stroke-width="2.0" stroke-dasharray="2.4 1.2" fill="none"/>
<path d="M1601.7 1606.1 L1736.7 1702" fill="none" stroke="#b08a00" stroke-width="2.9" stroke-linejoin="round"/>
<path d="M1601.7 1598.3 L1609.5 1606.1 L1601.7 1613.9 L1593.9 1606.1 Z" fill="#b08a00" stroke="#b08a00" stroke-width="0.5"/>
<path d="M1736.7 1694.2 L1744.5 1702 L1736.7 1709.8 L1728.9 1702 Z" fill="#b08a00" stroke="#b08a00" stroke-width="0.5"/>
</g>
<g>
<path d="M1866.5 1330.3 V1729.1 H2005.7" fill="none" stroke="#0d0d0d" stroke-width="3.5705" stroke-linejoin="miter"/>
<path d="M1854.1 1729.1 H1866.5" stroke="#0d0d0d" stroke-width="2.895"/>
<text x="1851.1" y="1736.7" font-size="21.2" text-anchor="end" fill="#141414" xml:space="preserve">0</text>
<path d="M1854.1 1629.8 H1866.5" stroke="#0d0d0d" stroke-width="2.895"/>
<text x="1851.1" y="1637.4" font-size="21.2" text-anchor="end" fill="#141414" xml:space="preserve">100</text>
<path d="M1854.1 1530.4 H1866.5" stroke="#0d0d0d" stroke-width="2.895"/>
<text x="1851.1" y="1538" font-size="21.2" text-anchor="end" fill="#141414" xml:space="preserve">200</text>
<path d="M1854.1 1431 H1866.5" stroke="#0d0d0d" stroke-width="2.895"/>
<text x="1851.1" y="1438.7" font-size="21.2" text-anchor="end" fill="#141414" xml:space="preserve">300</text>
<path d="M1854.1 1331.7 H1866.5" stroke="#0d0d0d" stroke-width="2.895"/>
<text x="1851.1" y="1339.3" font-size="21.2" text-anchor="end" fill="#141414" xml:space="preserve">400</text>
<path d="M1866.5 1729.1 V1741.5" stroke="#0d0d0d" stroke-width="2.895"/>
<text x="1866.5" y="1763.2" font-size="21.2" text-anchor="middle" fill="#141414" xml:space="preserve">0</text>
<path d="M1912.4 1729.1 V1741.5" stroke="#0d0d0d" stroke-width="2.895"/>
<text x="1912.4" y="1763.2" font-size="21.2" text-anchor="middle" fill="#141414" xml:space="preserve">2</text>
<path d="M1958.4 1729.1 V1741.5" stroke="#0d0d0d" stroke-width="2.895"/>
<text x="1958.4" y="1763.2" font-size="21.2" text-anchor="middle" fill="#141414" xml:space="preserve">4</text>
<path d="M2004.3 1729.1 V1741.5" stroke="#0d0d0d" stroke-width="2.895"/>
<text x="2004.3" y="1763.2" font-size="21.2" text-anchor="middle" fill="#141414" xml:space="preserve">6</text>
<text x="1944.8" y="1304.1" font-size="36.7" text-anchor="middle" fill="#141414" xml:space="preserve">SS-B/La</text>
<text x="1935.9" y="1799" font-size="27.7" text-anchor="middle" fill="#141414" xml:space="preserve">months</text>
<text x="1802.8" y="1525.8" font-size="27.7" text-anchor="middle" fill="#141414" transform="rotate(-90 1802.8 1525.8)" xml:space="preserve">OD450 nm</text>
<g fill="none" stroke="#a9a9ad" stroke-width="1.3" stroke-linejoin="round">
<path d="M1866.5 1441 L2004.3 1539.3"/>
<path d="M1866.5 1715.2 L2004.3 1728.6"/>
</g>
<g>
<rect x="1859.6" y="1434" width="13.9" height="13.9" fill="none" stroke="#a6a6a6" stroke-width="1.5"/>
<rect x="1997.4" y="1532.4" width="13.9" height="13.9" fill="none" stroke="#a6a6a6" stroke-width="1.5"/>
<rect x="1859.6" y="1708.2" width="13.9" height="13.9" fill="none" stroke="#a6a6a6" stroke-width="1.5"/>
<rect x="1997.4" y="1721.7" width="13.9" height="13.9" fill="none" stroke="#a6a6a6" stroke-width="1.5"/>
</g>
<path d="M1867.5 1716.4 H2004.3" stroke="#f08f7e" stroke-width="2.8" stroke-dasharray="2.4 1.2" fill="none"/>
<path d="M1866.5 1578.1 L2004.3 1633.7" fill="none" stroke="#a86b9e" stroke-width="3.2" stroke-linejoin="round"/>
<path d="M1866.5 1567.6 L1877 1578.1 L1866.5 1588.6 L1856 1578.1 Z" fill="#a86b9e" stroke="#a86b9e" stroke-width="0.5"/>
<path d="M2004.3 1623.2 L2014.8 1633.7 L2004.3 1644.2 L1993.8 1633.7 Z" fill="#a86b9e" stroke="#a86b9e" stroke-width="0.5"/>
</g>
<g>
<path d="M191.3 2066.4 V2445.7 H322.3" fill="none" stroke="#0d0d0d" stroke-width="3.4779999999999998" stroke-linejoin="miter"/>
<path d="M179.2 2445.7 H191.3" stroke="#0d0d0d" stroke-width="2.82"/>
<text x="176.3" y="2453.1" font-size="20.7" text-anchor="end" fill="#141414" xml:space="preserve">0</text>
<path d="M179.2 2319.7 H191.3" stroke="#0d0d0d" stroke-width="2.82"/>
<text x="176.3" y="2327.1" font-size="20.7" text-anchor="end" fill="#141414" xml:space="preserve">1000</text>
<path d="M179.2 2193.8 H191.3" stroke="#0d0d0d" stroke-width="2.82"/>
<text x="176.3" y="2201.2" font-size="20.7" text-anchor="end" fill="#141414" xml:space="preserve">2000</text>
<path d="M179.2 2067.8 H191.3" stroke="#0d0d0d" stroke-width="2.82"/>
<text x="176.3" y="2075.2" font-size="20.7" text-anchor="end" fill="#141414" xml:space="preserve">3000</text>
<path d="M191.3 2445.7 V2457.8" stroke="#0d0d0d" stroke-width="2.82"/>
<text x="191.3" y="2478.9" font-size="20.7" text-anchor="middle" fill="#141414" xml:space="preserve">0</text>
<path d="M234.5 2445.7 V2457.8" stroke="#0d0d0d" stroke-width="2.82"/>
<text x="234.5" y="2478.9" font-size="20.7" text-anchor="middle" fill="#141414" xml:space="preserve">2</text>
<path d="M277.7 2445.7 V2457.8" stroke="#0d0d0d" stroke-width="2.82"/>
<text x="277.7" y="2478.9" font-size="20.7" text-anchor="middle" fill="#141414" xml:space="preserve">4</text>
<path d="M320.9 2445.7 V2457.8" stroke="#0d0d0d" stroke-width="2.82"/>
<text x="320.9" y="2478.9" font-size="20.7" text-anchor="middle" fill="#141414" xml:space="preserve">6</text>
<text x="262.8" y="2047" font-size="35.7" text-anchor="middle" fill="#141414" xml:space="preserve">Measles</text>
<text x="255.3" y="2510.9" font-size="26.2" text-anchor="middle" fill="#141414" xml:space="preserve">months</text>
<text x="119.8" y="2255.4" font-size="26.2" text-anchor="middle" fill="#141414" transform="rotate(-90 119.8 2255.4)" xml:space="preserve">OD450 nm</text>
<g fill="none" stroke="#a9a9ad" stroke-width="1.3" stroke-linejoin="round">
<path d="M191.3 2177.9 L320.9 2114.5"/>
<path d="M191.3 2189.5 L320.9 2265.6"/>
<path d="M191.3 2275.4 L320.9 2236.1"/>
<path d="M191.3 2276.9 L320.9 2357.8"/>
<path d="M191.3 2304.9 L320.9 2275.4"/>
<path d="M191.3 2308.4 L320.9 2281.6"/>
<path d="M191.3 2317.2 L320.9 2317.2"/>
<path d="M191.3 2349.2 L320.9 2344.3"/>
<path d="M191.3 2352.5 L320.9 2374.9"/>
<path d="M191.3 2363.8 L320.9 2426.6"/>
<path d="M191.3 2372.5 L320.9 2372.5"/>
<path d="M191.3 2396.6 L320.9 2293.9"/>
<path d="M191.3 2401.6 L320.9 2357.5"/>
<path d="M191.3 2414.2 L320.9 2405.6"/>
<path d="M191.3 2416.7 L320.9 2415.5"/>
<path d="M191.3 2420.5 L320.9 2421.8"/>
<path d="M191.3 2423 L320.9 2424.3"/>
<path d="M191.3 2426.8 L320.9 2425.5"/>
<path d="M191.3 2430.6 L320.9 2429.3"/>
<path d="M191.3 2434.4 L320.9 2433.1"/>
<path d="M191.3 2438.1 L320.9 2438.1"/>
<path d="M191.3 2441.9 L320.9 2440.7"/>
<path d="M191.3 2445.7 L320.9 2445.7"/>
</g>
<g>
<rect x="184.5" y="2171.1" width="13.5" height="13.5" fill="none" stroke="#a6a6a6" stroke-width="1.5"/>
<rect x="314.1" y="2107.8" width="13.5" height="13.5" fill="none" stroke="#a6a6a6" stroke-width="1.5"/>
<rect x="184.5" y="2182.7" width="13.5" height="13.5" fill="none" stroke="#a6a6a6" stroke-width="1.5"/>
<path d="M320.9 2258.8 L328.2 2270.4 L313.6 2270.4 Z" fill="none" stroke="#a6a6a6" stroke-width="1.5"/>
<circle cx="191.3" cy="2275.4" r="6.4" fill="none" stroke="#a6a6a6" stroke-width="1.5"/>
<circle cx="320.9" cy="2236.1" r="6.4" fill="none" stroke="#a6a6a6" stroke-width="1.5"/>
<circle cx="191.3" cy="2276.9" r="6.4" fill="none" stroke="#a6a6a6" stroke-width="1.5"/>
<path d="M320.9 2351 L328.2 2362.6 L313.6 2362.6 Z" fill="none" stroke="#a6a6a6" stroke-width="1.5"/>
<circle cx="191.3" cy="2304.9" r="6.4" fill="none" stroke="#a6a6a6" stroke-width="1.5"/>
<circle cx="320.9" cy="2275.4" r="6.4" fill="none" stroke="#a6a6a6" stroke-width="1.5"/>
<circle cx="191.3" cy="2308.4" r="6.4" fill="none" stroke="#a6a6a6" stroke-width="1.5"/>
<rect x="314.1" y="2274.8" width="13.5" height="13.5" fill="none" stroke="#a6a6a6" stroke-width="1.5"/>
<circle cx="191.3" cy="2317.2" r="6.4" fill="none" stroke="#a6a6a6" stroke-width="1.5"/>
<circle cx="320.9" cy="2317.2" r="6.4" fill="none" stroke="#a6a6a6" stroke-width="1.5"/>
<rect x="184.5" y="2342.4" width="13.5" height="13.5" fill="none" stroke="#a6a6a6" stroke-width="1.5"/>
<rect x="314.1" y="2337.5" width="13.5" height="13.5" fill="none" stroke="#a6a6a6" stroke-width="1.5"/>
<rect x="184.5" y="2345.7" width="13.5" height="13.5" fill="none" stroke="#a6a6a6" stroke-width="1.5"/>
<circle cx="320.9" cy="2374.9" r="6.4" fill="none" stroke="#a6a6a6" stroke-width="1.5"/>
<circle cx="191.3" cy="2363.8" r="6.4" fill="none" stroke="#a6a6a6" stroke-width="1.5"/>
<rect x="314.1" y="2419.8" width="13.5" height="13.5" fill="none" stroke="#a6a6a6" stroke-width="1.5"/>
<circle cx="191.3" cy="2372.5" r="6.4" fill="none" stroke="#a6a6a6" stroke-width="1.5"/>
<circle cx="320.9" cy="2372.5" r="6.4" fill="none" stroke="#a6a6a6" stroke-width="1.5"/>
<circle cx="191.3" cy="2396.6" r="6.4" fill="none" stroke="#a6a6a6" stroke-width="1.5"/>
<rect x="314.1" y="2287.1" width="13.5" height="13.5" fill="none" stroke="#a6a6a6" stroke-width="1.5"/>
<circle cx="191.3" cy="2401.6" r="6.4" fill="none" stroke="#a6a6a6" stroke-width="1.5"/>
<circle cx="320.9" cy="2357.5" r="6.4" fill="none" stroke="#a6a6a6" stroke-width="1.5"/>
<circle cx="191.3" cy="2414.2" r="6.4" fill="none" stroke="#a6a6a6" stroke-width="1.5"/>
<rect x="314.1" y="2398.9" width="13.5" height="13.5" fill="none" stroke="#a6a6a6" stroke-width="1.5"/>
<rect x="184.5" y="2410" width="13.5" height="13.5" fill="none" stroke="#a6a6a6" stroke-width="1.5"/>
<rect x="314.1" y="2408.7" width="13.5" height="13.5" fill="none" stroke="#a6a6a6" stroke-width="1.5"/>
<circle cx="191.3" cy="2420.5" r="6.4" fill="none" stroke="#a6a6a6" stroke-width="1.5"/>
<rect x="314.1" y="2415" width="13.5" height="13.5" fill="none" stroke="#a6a6a6" stroke-width="1.5"/>
<rect x="184.5" y="2416.3" width="13.5" height="13.5" fill="none" stroke="#a6a6a6" stroke-width="1.5"/>
<rect x="314.1" y="2417.5" width="13.5" height="13.5" fill="none" stroke="#a6a6a6" stroke-width="1.5"/>
<circle cx="191.3" cy="2426.8" r="6.4" fill="none" stroke="#a6a6a6" stroke-width="1.5"/>
<rect x="314.1" y="2418.8" width="13.5" height="13.5" fill="none" stroke="#a6a6a6" stroke-width="1.5"/>
<rect x="184.5" y="2423.8" width="13.5" height="13.5" fill="none" stroke="#a6a6a6" stroke-width="1.5"/>
<rect x="314.1" y="2422.6" width="13.5" height="13.5" fill="none" stroke="#a6a6a6" stroke-width="1.5"/>
<circle cx="191.3" cy="2434.4" r="6.4" fill="none" stroke="#a6a6a6" stroke-width="1.5"/>
<rect x="314.1" y="2426.3" width="13.5" height="13.5" fill="none" stroke="#a6a6a6" stroke-width="1.5"/>
<rect x="184.5" y="2431.4" width="13.5" height="13.5" fill="none" stroke="#a6a6a6" stroke-width="1.5"/>
<rect x="314.1" y="2431.4" width="13.5" height="13.5" fill="none" stroke="#a6a6a6" stroke-width="1.5"/>
<circle cx="191.3" cy="2441.9" r="6.4" fill="none" stroke="#a6a6a6" stroke-width="1.5"/>
<rect x="314.1" y="2433.9" width="13.5" height="13.5" fill="none" stroke="#a6a6a6" stroke-width="1.5"/>
<circle cx="191.3" cy="2445.7" r="6.4" fill="none" stroke="#a6a6a6" stroke-width="1.5"/>
<circle cx="320.9" cy="2445.7" r="6.4" fill="none" stroke="#a6a6a6" stroke-width="1.5"/>
</g>
<path d="M192.3 2430.2 H320.9" stroke="#f08f7e" stroke-width="2.5" stroke-dasharray="2.4 1.2" fill="none"/>
<path d="M191.3 2398.3 L320.9 2392.7" fill="none" stroke="#1da51d" stroke-width="3.2" stroke-linejoin="round"/>
<path d="M191.3 2387.8 L201.8 2398.3 L191.3 2408.8 L180.8 2398.3 Z" fill="#1da51d" stroke="#1da51d" stroke-width="0.5"/>
<path d="M320.9 2382.2 L331.4 2392.7 L320.9 2403.2 L310.4 2392.7 Z" fill="#1da51d" stroke="#1da51d" stroke-width="0.5"/>
</g>
<g>
<path d="M485.1 2058.6 V2439.8 H617.3" fill="none" stroke="#0d0d0d" stroke-width="3.4779999999999998" stroke-linejoin="miter"/>
<path d="M473 2439.8 H485.1" stroke="#0d0d0d" stroke-width="2.82"/>
<text x="470.1" y="2447.2" font-size="20.7" text-anchor="end" fill="#141414" xml:space="preserve">0</text>
<path d="M473 2344.9 H485.1" stroke="#0d0d0d" stroke-width="2.82"/>
<text x="470.1" y="2352.3" font-size="20.7" text-anchor="end" fill="#141414" xml:space="preserve">500</text>
<path d="M473 2249.9 H485.1" stroke="#0d0d0d" stroke-width="2.82"/>
<text x="470.1" y="2257.3" font-size="20.7" text-anchor="end" fill="#141414" xml:space="preserve">1000</text>
<path d="M473 2154.9 H485.1" stroke="#0d0d0d" stroke-width="2.82"/>
<text x="470.1" y="2162.4" font-size="20.7" text-anchor="end" fill="#141414" xml:space="preserve">1500</text>
<path d="M473 2060 H485.1" stroke="#0d0d0d" stroke-width="2.82"/>
<text x="470.1" y="2067.4" font-size="20.7" text-anchor="end" fill="#141414" xml:space="preserve">2000</text>
<path d="M485.1 2439.8 V2451.9" stroke="#0d0d0d" stroke-width="2.82"/>
<text x="485.1" y="2473" font-size="20.7" text-anchor="middle" fill="#141414" xml:space="preserve">0</text>
<path d="M528.7 2439.8 V2451.9" stroke="#0d0d0d" stroke-width="2.82"/>
<text x="528.7" y="2473" font-size="20.7" text-anchor="middle" fill="#141414" xml:space="preserve">2</text>
<path d="M572.3 2439.8 V2451.9" stroke="#0d0d0d" stroke-width="2.82"/>
<text x="572.3" y="2473" font-size="20.7" text-anchor="middle" fill="#141414" xml:space="preserve">4</text>
<path d="M615.9 2439.8 V2451.9" stroke="#0d0d0d" stroke-width="2.82"/>
<text x="615.9" y="2473" font-size="20.7" text-anchor="middle" fill="#141414" xml:space="preserve">6</text>
<text x="572.9" y="2037.2" font-size="35.7" text-anchor="middle" fill="#141414" xml:space="preserve">Mumps</text>
<text x="549.9" y="2505.8" font-size="26.4" text-anchor="middle" fill="#141414" xml:space="preserve">months</text>
<text x="413.4" y="2246.7" font-size="26.4" text-anchor="middle" fill="#141414" transform="rotate(-90 413.4 2246.7)" xml:space="preserve">OD450 nm</text>
<g fill="none" stroke="#a9a9ad" stroke-width="1.3" stroke-linejoin="round">
<path d="M485.1 2110.9 L615.9 2168.1"/>
<path d="M485.1 2358.3 L615.9 2341.1"/>
<path d="M485.1 2360 L615.9 2370.5"/>
<path d="M485.1 2379.2 L615.9 2292.1"/>
<path d="M485.1 2380.9 L615.9 2399.9"/>
<path d="M485.1 2382.8 L615.9 2401.8"/>
<path d="M485.1 2357.8 L615.9 2399"/>
<path d="M485.1 2396.1 L615.9 2396.1"/>
<path d="M485.1 2405.6 L615.9 2384.7"/>
<path d="M485.1 2411.3 L615.9 2392.3"/>
<path d="M485.1 2417 L615.9 2382.8"/>
<path d="M485.1 2401.8 L615.9 2418.9"/>
<path d="M485.1 2422.7 L615.9 2411.3"/>
<path d="M485.1 2424.6 L615.9 2426.5"/>
<path d="M485.1 2428.4 L615.9 2428.4"/>
<path d="M485.1 2430.3 L615.9 2432.2"/>
<path d="M485.1 2432.2 L615.9 2431.3"/>
<path d="M485.1 2434.1 L615.9 2435.1"/>
<path d="M485.1 2436 L615.9 2437"/>
<path d="M485.1 2437.9 L615.9 2437.9"/>
<path d="M485.1 2438.9 L615.9 2439.8"/>
<path d="M485.1 2439.8 L615.9 2439.8"/>
</g>
<g>
<path d="M485.1 2104.1 L492.4 2115.8 L477.8 2115.8 Z" fill="none" stroke="#a6a6a6" stroke-width="1.5"/>
<path d="M615.9 2161.3 L623.2 2172.9 L608.6 2172.9 Z" fill="none" stroke="#a6a6a6" stroke-width="1.5"/>
<circle cx="485.1" cy="2358.3" r="6.4" fill="none" stroke="#a6a6a6" stroke-width="1.5"/>
<circle cx="615.9" cy="2341.1" r="6.4" fill="none" stroke="#a6a6a6" stroke-width="1.5"/>
<circle cx="485.1" cy="2360" r="6.4" fill="none" stroke="#a6a6a6" stroke-width="1.5"/>
<circle cx="615.9" cy="2370.5" r="6.4" fill="none" stroke="#a6a6a6" stroke-width="1.5"/>
<circle cx="485.1" cy="2379.2" r="6.4" fill="none" stroke="#a6a6a6" stroke-width="1.5"/>
<circle cx="615.9" cy="2292.1" r="6.4" fill="none" stroke="#a6a6a6" stroke-width="1.5"/>
<rect x="478.3" y="2374.2" width="13.5" height="13.5" fill="none" stroke="#a6a6a6" stroke-width="1.5"/>
<rect x="609.1" y="2393.2" width="13.5" height="13.5" fill="none" stroke="#a6a6a6" stroke-width="1.5"/>
<circle cx="485.1" cy="2382.8" r="6.4" fill="none" stroke="#a6a6a6" stroke-width="1.5"/>
<circle cx="615.9" cy="2401.8" r="6.4" fill="none" stroke="#a6a6a6" stroke-width="1.5"/>
<circle cx="485.1" cy="2357.8" r="6.4" fill="none" stroke="#a6a6a6" stroke-width="1.5"/>
<circle cx="615.9" cy="2399" r="6.4" fill="none" stroke="#a6a6a6" stroke-width="1.5"/>
<circle cx="485.1" cy="2396.1" r="6.4" fill="none" stroke="#a6a6a6" stroke-width="1.5"/>
<rect x="609.1" y="2389.4" width="13.5" height="13.5" fill="none" stroke="#a6a6a6" stroke-width="1.5"/>
<circle cx="485.1" cy="2405.6" r="6.4" fill="none" stroke="#a6a6a6" stroke-width="1.5"/>
<rect x="609.1" y="2378" width="13.5" height="13.5" fill="none" stroke="#a6a6a6" stroke-width="1.5"/>
<rect x="478.3" y="2404.5" width="13.5" height="13.5" fill="none" stroke="#a6a6a6" stroke-width="1.5"/>
<circle cx="615.9" cy="2392.3" r="6.4" fill="none" stroke="#a6a6a6" stroke-width="1.5"/>
<circle cx="485.1" cy="2417" r="6.4" fill="none" stroke="#a6a6a6" stroke-width="1.5"/>
<rect x="609.1" y="2376.1" width="13.5" height="13.5" fill="none" stroke="#a6a6a6" stroke-width="1.5"/>
<circle cx="485.1" cy="2401.8" r="6.4" fill="none" stroke="#a6a6a6" stroke-width="1.5"/>
<path d="M615.9 2412.1 L623.2 2423.8 L608.6 2423.8 Z" fill="none" stroke="#a6a6a6" stroke-width="1.5"/>
<rect x="478.3" y="2415.9" width="13.5" height="13.5" fill="none" stroke="#a6a6a6" stroke-width="1.5"/>
<path d="M615.9 2404.5 L623.2 2416.2 L608.6 2416.2 Z" fill="none" stroke="#a6a6a6" stroke-width="1.5"/>
<circle cx="485.1" cy="2424.6" r="6.4" fill="none" stroke="#a6a6a6" stroke-width="1.5"/>
<rect x="609.1" y="2419.7" width="13.5" height="13.5" fill="none" stroke="#a6a6a6" stroke-width="1.5"/>
<rect x="478.3" y="2421.6" width="13.5" height="13.5" fill="none" stroke="#a6a6a6" stroke-width="1.5"/>
<rect x="609.1" y="2421.6" width="13.5" height="13.5" fill="none" stroke="#a6a6a6" stroke-width="1.5"/>
<circle cx="485.1" cy="2430.3" r="6.4" fill="none" stroke="#a6a6a6" stroke-width="1.5"/>
<rect x="609.1" y="2425.4" width="13.5" height="13.5" fill="none" stroke="#a6a6a6" stroke-width="1.5"/>
<rect x="478.3" y="2425.4" width="13.5" height="13.5" fill="none" stroke="#a6a6a6" stroke-width="1.5"/>
<rect x="609.1" y="2424.5" width="13.5" height="13.5" fill="none" stroke="#a6a6a6" stroke-width="1.5"/>
<circle cx="485.1" cy="2434.1" r="6.4" fill="none" stroke="#a6a6a6" stroke-width="1.5"/>
<rect x="609.1" y="2428.3" width="13.5" height="13.5" fill="none" stroke="#a6a6a6" stroke-width="1.5"/>
<rect x="478.3" y="2429.2" width="13.5" height="13.5" fill="none" stroke="#a6a6a6" stroke-width="1.5"/>
<rect x="609.1" y="2430.2" width="13.5" height="13.5" fill="none" stroke="#a6a6a6" stroke-width="1.5"/>
<circle cx="485.1" cy="2437.9" r="6.4" fill="none" stroke="#a6a6a6" stroke-width="1.5"/>
<rect x="609.1" y="2431.1" width="13.5" height="13.5" fill="none" stroke="#a6a6a6" stroke-width="1.5"/>
<rect x="478.3" y="2432.1" width="13.5" height="13.5" fill="none" stroke="#a6a6a6" stroke-width="1.5"/>
<rect x="609.1" y="2433" width="13.5" height="13.5" fill="none" stroke="#a6a6a6" stroke-width="1.5"/>
<rect x="478.3" y="2433" width="13.5" height="13.5" fill="none" stroke="#a6a6a6" stroke-width="1.5"/>
<rect x="609.1" y="2433" width="13.5" height="13.5" fill="none" stroke="#a6a6a6" stroke-width="1.5"/>
</g>
<path d="M486.1 2434.5 H615.9" stroke="#e8432e" stroke-width="1.3" stroke-dasharray="3.2 1.6" fill="none"/>
<path d="M485.1 2419.7 L615.9 2425" fill="none" stroke="#b3a25e" stroke-width="3.6" stroke-linejoin="round"/>
<path d="M485.1 2409.2 L495.6 2419.7 L485.1 2430.2 L474.6 2419.7 Z" fill="#b3a25e" stroke="#b3a25e" stroke-width="0.5"/>
<path d="M615.9 2414.5 L626.4 2425 L615.9 2435.5 L605.4 2425 Z" fill="#b3a25e" stroke="#b3a25e" stroke-width="0.5"/>
</g>
<g>
<path d="M759 2065.6 V2438.2 H889.2" fill="none" stroke="#0d0d0d" stroke-width="3.4779999999999998" stroke-linejoin="miter"/>
<path d="M746.9 2438.2 H759" stroke="#0d0d0d" stroke-width="2.82"/>
<text x="744" y="2445.6" font-size="20.7" text-anchor="end" fill="#141414" xml:space="preserve">0</text>
<path d="M746.9 2345.4 H759" stroke="#0d0d0d" stroke-width="2.82"/>
<text x="744" y="2352.8" font-size="20.7" text-anchor="end" fill="#141414" xml:space="preserve">50</text>
<path d="M746.9 2252.6 H759" stroke="#0d0d0d" stroke-width="2.82"/>
<text x="744" y="2260" font-size="20.7" text-anchor="end" fill="#141414" xml:space="preserve">100</text>
<path d="M746.9 2159.8 H759" stroke="#0d0d0d" stroke-width="2.82"/>
<text x="744" y="2167.2" font-size="20.7" text-anchor="end" fill="#141414" xml:space="preserve">150</text>
<path d="M746.9 2067 H759" stroke="#0d0d0d" stroke-width="2.82"/>
<text x="744" y="2074.4" font-size="20.7" text-anchor="end" fill="#141414" xml:space="preserve">200</text>
<path d="M759 2438.2 V2450.3" stroke="#0d0d0d" stroke-width="2.82"/>
<text x="759" y="2471.4" font-size="20.7" text-anchor="middle" fill="#141414" xml:space="preserve">0</text>
<path d="M801.9 2438.2 V2450.3" stroke="#0d0d0d" stroke-width="2.82"/>
<text x="801.9" y="2471.4" font-size="20.7" text-anchor="middle" fill="#141414" xml:space="preserve">2</text>
<path d="M844.9 2438.2 V2450.3" stroke="#0d0d0d" stroke-width="2.82"/>
<text x="844.9" y="2471.4" font-size="20.7" text-anchor="middle" fill="#141414" xml:space="preserve">4</text>
<path d="M887.8 2438.2 V2450.3" stroke="#0d0d0d" stroke-width="2.82"/>
<text x="887.8" y="2471.4" font-size="20.7" text-anchor="middle" fill="#141414" xml:space="preserve">6</text>
<text x="826.5" y="2044.3" font-size="35.7" text-anchor="middle" fill="#141414" xml:space="preserve">Rubella</text>
<text x="823.2" y="2503" font-size="25.7" text-anchor="middle" fill="#141414" xml:space="preserve">months</text>
<text x="700.5" y="2249.9" font-size="25.7" text-anchor="middle" fill="#141414" transform="rotate(-90 700.5 2249.9)" xml:space="preserve">OD450 nm</text>
<g fill="none" stroke="#a9a9ad" stroke-width="1.3" stroke-linejoin="round">
<path d="M759 2234 L887.8 2278.6"/>
<path d="M759 2241.5 L887.8 2317.6"/>
<path d="M759 2286 L887.8 2230.3"/>
<path d="M759 2304.6 L887.8 2328.7"/>
<path d="M759 2328.7 L887.8 2410.4"/>
<path d="M759 2364 L887.8 2091.1"/>
<path d="M759 2357.5 L887.8 2410.4"/>
<path d="M759 2369.5 L887.8 2373.2"/>
<path d="M759 2373.2 L887.8 2377"/>
<path d="M759 2377 L887.8 2391.8"/>
<path d="M759 2415.9 L887.8 2339.8"/>
<path d="M759 2419.6 L887.8 2377"/>
<path d="M759 2415.9 L887.8 2415.9"/>
<path d="M759 2423.4 L887.8 2423.4"/>
<path d="M759 2427.1 L887.8 2428.9"/>
<path d="M759 2430.8 L887.8 2430.8"/>
<path d="M759 2434.5 L887.8 2434.5"/>
<path d="M759 2436.3 L887.8 2436.3"/>
<path d="M759 2438.2 L887.8 2438.2"/>
<path d="M759 2421.5 L887.8 2401.1"/>
</g>
<g>
<rect x="752.2" y="2227.3" width="13.5" height="13.5" fill="none" stroke="#a6a6a6" stroke-width="1.5"/>
<circle cx="887.8" cy="2278.6" r="6.4" fill="none" stroke="#a6a6a6" stroke-width="1.5"/>
<circle cx="759" cy="2241.5" r="6.4" fill="none" stroke="#a6a6a6" stroke-width="1.5"/>
<rect x="881" y="2310.8" width="13.5" height="13.5" fill="none" stroke="#a6a6a6" stroke-width="1.5"/>
<circle cx="759" cy="2286" r="6.4" fill="none" stroke="#a6a6a6" stroke-width="1.5"/>
<circle cx="887.8" cy="2230.3" r="6.4" fill="none" stroke="#a6a6a6" stroke-width="1.5"/>
<rect x="752.2" y="2297.8" width="13.5" height="13.5" fill="none" stroke="#a6a6a6" stroke-width="1.5"/>
<rect x="881" y="2321.9" width="13.5" height="13.5" fill="none" stroke="#a6a6a6" stroke-width="1.5"/>
<rect x="752.2" y="2321.9" width="13.5" height="13.5" fill="none" stroke="#a6a6a6" stroke-width="1.5"/>
<circle cx="887.8" cy="2410.4" r="6.4" fill="none" stroke="#a6a6a6" stroke-width="1.5"/>
<circle cx="759" cy="2364" r="6.4" fill="none" stroke="#a6a6a6" stroke-width="1.5"/>
<circle cx="887.8" cy="2091.1" r="6.4" fill="none" stroke="#a6a6a6" stroke-width="1.5"/>
<path d="M759 2350.7 L766.3 2362.3 L751.7 2362.3 Z" fill="none" stroke="#a6a6a6" stroke-width="1.5"/>
<circle cx="887.8" cy="2410.4" r="6.4" fill="none" stroke="#a6a6a6" stroke-width="1.5"/>
<circle cx="759" cy="2369.5" r="6.4" fill="none" stroke="#a6a6a6" stroke-width="1.5"/>
<rect x="881" y="2366.5" width="13.5" height="13.5" fill="none" stroke="#a6a6a6" stroke-width="1.5"/>
<circle cx="759" cy="2373.2" r="6.4" fill="none" stroke="#a6a6a6" stroke-width="1.5"/>
<rect x="881" y="2370.2" width="13.5" height="13.5" fill="none" stroke="#a6a6a6" stroke-width="1.5"/>
<circle cx="759" cy="2377" r="6.4" fill="none" stroke="#a6a6a6" stroke-width="1.5"/>
<path d="M887.8 2385 L895.1 2396.7 L880.5 2396.7 Z" fill="none" stroke="#a6a6a6" stroke-width="1.5"/>
<circle cx="759" cy="2415.9" r="6.4" fill="none" stroke="#a6a6a6" stroke-width="1.5"/>
<rect x="881" y="2333.1" width="13.5" height="13.5" fill="none" stroke="#a6a6a6" stroke-width="1.5"/>
<circle cx="759" cy="2419.6" r="6.4" fill="none" stroke="#a6a6a6" stroke-width="1.5"/>
<rect x="881" y="2370.2" width="13.5" height="13.5" fill="none" stroke="#a6a6a6" stroke-width="1.5"/>
<circle cx="759" cy="2415.9" r="6.4" fill="none" stroke="#a6a6a6" stroke-width="1.5"/>
<circle cx="887.8" cy="2415.9" r="6.4" fill="none" stroke="#a6a6a6" stroke-width="1.5"/>
<rect x="752.2" y="2416.6" width="13.5" height="13.5" fill="none" stroke="#a6a6a6" stroke-width="1.5"/>
<rect x="881" y="2416.6" width="13.5" height="13.5" fill="none" stroke="#a6a6a6" stroke-width="1.5"/>
<circle cx="759" cy="2427.1" r="6.4" fill="none" stroke="#a6a6a6" stroke-width="1.5"/>
<circle cx="887.8" cy="2428.9" r="6.4" fill="none" stroke="#a6a6a6" stroke-width="1.5"/>
<rect x="752.2" y="2424" width="13.5" height="13.5" fill="none" stroke="#a6a6a6" stroke-width="1.5"/>
<rect x="881" y="2424" width="13.5" height="13.5" fill="none" stroke="#a6a6a6" stroke-width="1.5"/>
<circle cx="759" cy="2434.5" r="6.4" fill="none" stroke="#a6a6a6" stroke-width="1.5"/>
<circle cx="887.8" cy="2434.5" r="6.4" fill="none" stroke="#a6a6a6" stroke-width="1.5"/>
<rect x="752.2" y="2429.6" width="13.5" height="13.5" fill="none" stroke="#a6a6a6" stroke-width="1.5"/>
<rect x="881" y="2429.6" width="13.5" height="13.5" fill="none" stroke="#a6a6a6" stroke-width="1.5"/>
<circle cx="759" cy="2438.2" r="6.4" fill="none" stroke="#a6a6a6" stroke-width="1.5"/>
<circle cx="887.8" cy="2438.2" r="6.4" fill="none" stroke="#a6a6a6" stroke-width="1.5"/>
<circle cx="759" cy="2421.5" r="6.4" fill="none" stroke="#a6a6a6" stroke-width="1.5"/>
<path d="M887.8 2394.3 L895.1 2406 L880.5 2406 Z" fill="none" stroke="#a6a6a6" stroke-width="1.5"/>
</g>
<path d="M760 2428.4 H887.8" stroke="#f08f7e" stroke-width="3.2" stroke-dasharray="2.4 1.2" fill="none"/>
<path d="M759 2411.3 L887.8 2410.4" fill="none" stroke="#5791b1" stroke-width="3.4" stroke-linejoin="round"/>
<path d="M759 2400.8 L769.5 2411.3 L759 2421.8 L748.5 2411.3 Z" fill="#5791b1" stroke="#5791b1" stroke-width="0.5"/>
<path d="M887.8 2399.9 L898.3 2410.4 L887.8 2420.9 L877.3 2410.4 Z" fill="#5791b1" stroke="#5791b1" stroke-width="0.5"/>
</g>
<g>
<path d="M1033.1 2065.6 V2433.1 H1160.2" fill="none" stroke="#0d0d0d" stroke-width="3.4779999999999998" stroke-linejoin="miter"/>
<path d="M1021 2433.1 H1033.1" stroke="#0d0d0d" stroke-width="2.82"/>
<text x="1018.1" y="2440.5" font-size="20.7" text-anchor="end" fill="#141414" xml:space="preserve">0</text>
<path d="M1021 2359.9 H1033.1" stroke="#0d0d0d" stroke-width="2.82"/>
<text x="1018.1" y="2367.3" font-size="20.7" text-anchor="end" fill="#141414" xml:space="preserve">500</text>
<path d="M1021 2286.7 H1033.1" stroke="#0d0d0d" stroke-width="2.82"/>
<text x="1018.1" y="2294.1" font-size="20.7" text-anchor="end" fill="#141414" xml:space="preserve">1000</text>
<path d="M1021 2213.4 H1033.1" stroke="#0d0d0d" stroke-width="2.82"/>
<text x="1018.1" y="2220.8" font-size="20.7" text-anchor="end" fill="#141414" xml:space="preserve">1500</text>
<path d="M1021 2140.2 H1033.1" stroke="#0d0d0d" stroke-width="2.82"/>
<text x="1018.1" y="2147.6" font-size="20.7" text-anchor="end" fill="#141414" xml:space="preserve">2000</text>
<path d="M1021 2067 H1033.1" stroke="#0d0d0d" stroke-width="2.82"/>
<text x="1018.1" y="2074.4" font-size="20.7" text-anchor="end" fill="#141414" xml:space="preserve">2500</text>
<path d="M1033.1 2433.1 V2445.2" stroke="#0d0d0d" stroke-width="2.82"/>
<text x="1033.1" y="2466.3" font-size="20.7" text-anchor="middle" fill="#141414" xml:space="preserve">0</text>
<path d="M1075 2433.1 V2445.2" stroke="#0d0d0d" stroke-width="2.82"/>
<text x="1075" y="2466.3" font-size="20.7" text-anchor="middle" fill="#141414" xml:space="preserve">2</text>
<path d="M1116.9 2433.1 V2445.2" stroke="#0d0d0d" stroke-width="2.82"/>
<text x="1116.9" y="2466.3" font-size="20.7" text-anchor="middle" fill="#141414" xml:space="preserve">4</text>
<path d="M1158.8 2433.1 V2445.2" stroke="#0d0d0d" stroke-width="2.82"/>
<text x="1158.8" y="2466.3" font-size="20.7" text-anchor="middle" fill="#141414" xml:space="preserve">6</text>
<text x="1094.4" y="2044.3" font-size="35.7" text-anchor="middle" fill="#141414" xml:space="preserve">VZV</text>
<text x="1096.6" y="2496.7" font-size="25.3" text-anchor="middle" fill="#141414" xml:space="preserve">months</text>
<text x="964.4" y="2246.5" font-size="25.3" text-anchor="middle" fill="#141414" transform="rotate(-90 964.4 2246.5)" xml:space="preserve">OD450 nm</text>
<g fill="none" stroke="#a9a9ad" stroke-width="1.3" stroke-linejoin="round">
<path d="M1033.1 2179.3 L1158.8 2140.2"/>
<path d="M1033.1 2179.8 L1158.8 2173.9"/>
<path d="M1033.1 2250.8 L1158.8 2198.5"/>
<path d="M1033.1 2209.5 L1158.8 2272"/>
<path d="M1033.1 2213.4 L1158.8 2267.3"/>
<path d="M1033.1 2216.4 L1158.8 2329.9"/>
<path d="M1033.1 2216.4 L1158.8 2377.9"/>
<path d="M1033.1 2212.7 L1158.8 2403.8"/>
<path d="M1033.1 2290.6 L1158.8 2296.9"/>
<path d="M1033.1 2292.5 L1158.8 2307.7"/>
<path d="M1033.1 2322.5 L1158.8 2345.2"/>
<path d="M1033.1 2330.6 L1158.8 2349.6"/>
<path d="M1033.1 2333.5 L1158.8 2252.5"/>
<path d="M1033.1 2342.3 L1158.8 2403.8"/>
<path d="M1033.1 2357 L1158.8 2355.5"/>
<path d="M1033.1 2364.3 L1158.8 2400.9"/>
<path d="M1033.1 2383.3 L1158.8 2386.2"/>
<path d="M1033.1 2389.2 L1158.8 2389.2"/>
<path d="M1033.1 2392.1 L1158.8 2396.5"/>
<path d="M1033.1 2395 L1158.8 2400.9"/>
<path d="M1033.1 2396.5 L1158.8 2403.8"/>
<path d="M1033.1 2398 L1158.8 2412.2"/>
<path d="M1033.1 2424.3 L1158.8 2414.1"/>
<path d="M1033.1 2433.1 L1158.8 2433.1"/>
</g>
<g>
<circle cx="1033.1" cy="2179.3" r="6.4" fill="none" stroke="#a6a6a6" stroke-width="1.5"/>
<circle cx="1158.8" cy="2140.2" r="6.4" fill="none" stroke="#a6a6a6" stroke-width="1.5"/>
<rect x="1026.3" y="2173" width="13.5" height="13.5" fill="none" stroke="#a6a6a6" stroke-width="1.5"/>
<rect x="1152" y="2167.1" width="13.5" height="13.5" fill="none" stroke="#a6a6a6" stroke-width="1.5"/>
<circle cx="1033.1" cy="2250.8" r="6.4" fill="none" stroke="#a6a6a6" stroke-width="1.5"/>
<circle cx="1158.8" cy="2198.5" r="6.4" fill="none" stroke="#a6a6a6" stroke-width="1.5"/>
<rect x="1026.3" y="2202.7" width="13.5" height="13.5" fill="none" stroke="#a6a6a6" stroke-width="1.5"/>
<rect x="1152" y="2265.2" width="13.5" height="13.5" fill="none" stroke="#a6a6a6" stroke-width="1.5"/>
<rect x="1026.3" y="2206.7" width="13.5" height="13.5" fill="none" stroke="#a6a6a6" stroke-width="1.5"/>
<rect x="1152" y="2260.6" width="13.5" height="13.5" fill="none" stroke="#a6a6a6" stroke-width="1.5"/>
<rect x="1026.3" y="2209.6" width="13.5" height="13.5" fill="none" stroke="#a6a6a6" stroke-width="1.5"/>
<rect x="1152" y="2323.1" width="13.5" height="13.5" fill="none" stroke="#a6a6a6" stroke-width="1.5"/>
<circle cx="1033.1" cy="2216.4" r="6.4" fill="none" stroke="#a6a6a6" stroke-width="1.5"/>
<path d="M1158.8 2371.1 L1166.1 2382.8 L1151.5 2382.8 Z" fill="none" stroke="#a6a6a6" stroke-width="1.5"/>
<rect x="1026.3" y="2205.9" width="13.5" height="13.5" fill="none" stroke="#a6a6a6" stroke-width="1.5"/>
<circle cx="1158.8" cy="2403.8" r="6.4" fill="none" stroke="#a6a6a6" stroke-width="1.5"/>
<circle cx="1033.1" cy="2290.6" r="6.4" fill="none" stroke="#a6a6a6" stroke-width="1.5"/>
<path d="M1158.8 2290.1 L1166.1 2301.8 L1151.5 2301.8 Z" fill="none" stroke="#a6a6a6" stroke-width="1.5"/>
<circle cx="1033.1" cy="2292.5" r="6.4" fill="none" stroke="#a6a6a6" stroke-width="1.5"/>
<circle cx="1158.8" cy="2307.7" r="6.4" fill="none" stroke="#a6a6a6" stroke-width="1.5"/>
<circle cx="1033.1" cy="2322.5" r="6.4" fill="none" stroke="#a6a6a6" stroke-width="1.5"/>
<rect x="1152" y="2338.5" width="13.5" height="13.5" fill="none" stroke="#a6a6a6" stroke-width="1.5"/>
<circle cx="1033.1" cy="2330.6" r="6.4" fill="none" stroke="#a6a6a6" stroke-width="1.5"/>
<circle cx="1158.8" cy="2349.6" r="6.4" fill="none" stroke="#a6a6a6" stroke-width="1.5"/>
<circle cx="1033.1" cy="2333.5" r="6.4" fill="none" stroke="#a6a6a6" stroke-width="1.5"/>
<rect x="1152" y="2245.8" width="13.5" height="13.5" fill="none" stroke="#a6a6a6" stroke-width="1.5"/>
<circle cx="1033.1" cy="2342.3" r="6.4" fill="none" stroke="#a6a6a6" stroke-width="1.5"/>
<circle cx="1158.8" cy="2403.8" r="6.4" fill="none" stroke="#a6a6a6" stroke-width="1.5"/>
<rect x="1026.3" y="2350.2" width="13.5" height="13.5" fill="none" stroke="#a6a6a6" stroke-width="1.5"/>
<rect x="1152" y="2348.7" width="13.5" height="13.5" fill="none" stroke="#a6a6a6" stroke-width="1.5"/>
<rect x="1026.3" y="2357.5" width="13.5" height="13.5" fill="none" stroke="#a6a6a6" stroke-width="1.5"/>
<circle cx="1158.8" cy="2400.9" r="6.4" fill="none" stroke="#a6a6a6" stroke-width="1.5"/>
<circle cx="1033.1" cy="2383.3" r="6.4" fill="none" stroke="#a6a6a6" stroke-width="1.5"/>
<rect x="1152" y="2379.5" width="13.5" height="13.5" fill="none" stroke="#a6a6a6" stroke-width="1.5"/>
<circle cx="1033.1" cy="2389.2" r="6.4" fill="none" stroke="#a6a6a6" stroke-width="1.5"/>
<circle cx="1158.8" cy="2389.2" r="6.4" fill="none" stroke="#a6a6a6" stroke-width="1.5"/>
<circle cx="1033.1" cy="2392.1" r="6.4" fill="none" stroke="#a6a6a6" stroke-width="1.5"/>
<path d="M1158.8 2389.7 L1166.1 2401.4 L1151.5 2401.4 Z" fill="none" stroke="#a6a6a6" stroke-width="1.5"/>
<circle cx="1033.1" cy="2395" r="6.4" fill="none" stroke="#a6a6a6" stroke-width="1.5"/>
<circle cx="1158.8" cy="2400.9" r="6.4" fill="none" stroke="#a6a6a6" stroke-width="1.5"/>
<circle cx="1033.1" cy="2396.5" r="6.4" fill="none" stroke="#a6a6a6" stroke-width="1.5"/>
<rect x="1152" y="2397" width="13.5" height="13.5" fill="none" stroke="#a6a6a6" stroke-width="1.5"/>
<circle cx="1033.1" cy="2398" r="6.4" fill="none" stroke="#a6a6a6" stroke-width="1.5"/>
<circle cx="1158.8" cy="2412.2" r="6.4" fill="none" stroke="#a6a6a6" stroke-width="1.5"/>
<circle cx="1033.1" cy="2424.3" r="6.4" fill="none" stroke="#a6a6a6" stroke-width="1.5"/>
<circle cx="1158.8" cy="2414.1" r="6.4" fill="none" stroke="#a6a6a6" stroke-width="1.5"/>
<circle cx="1033.1" cy="2433.1" r="6.4" fill="none" stroke="#a6a6a6" stroke-width="1.5"/>
<rect x="1152" y="2426.3" width="13.5" height="13.5" fill="none" stroke="#a6a6a6" stroke-width="1.5"/>
</g>
<path d="M1034.1 2424.5 H1158.8" stroke="#f08f7e" stroke-width="2.5" stroke-dasharray="2.4 1.2" fill="none"/>
<path d="M1033.1 2333.2 L1158.8 2350.8" fill="none" stroke="#7c7aae" stroke-width="3.2" stroke-linejoin="round"/>
<path d="M1033.1 2322.7 L1043.6 2333.2 L1033.1 2343.7 L1022.6 2333.2 Z" fill="#7c7aae" stroke="#7c7aae" stroke-width="0.5"/>
<path d="M1158.8 2340.3 L1169.3 2350.8 L1158.8 2361.3 L1148.3 2350.8 Z" fill="#7c7aae" stroke="#7c7aae" stroke-width="0.5"/>
</g>
<g>
<path d="M1323.1 2072.3 V2436.3 H1449.6" fill="none" stroke="#0d0d0d" stroke-width="3.314534" stroke-linejoin="miter"/>
<path d="M1311.6 2436.3 H1323.1" stroke="#0d0d0d" stroke-width="2.6874599999999997"/>
<text x="1308.8" y="2443.4" font-size="19.7" text-anchor="end" fill="#141414" xml:space="preserve">0</text>
<path d="M1311.6 2363.8 H1323.1" stroke="#0d0d0d" stroke-width="2.6874599999999997"/>
<text x="1308.8" y="2370.8" font-size="19.7" text-anchor="end" fill="#141414" xml:space="preserve">5</text>
<path d="M1311.6 2291.2 H1323.1" stroke="#0d0d0d" stroke-width="2.6874599999999997"/>
<text x="1308.8" y="2298.3" font-size="19.7" text-anchor="end" fill="#141414" xml:space="preserve">10</text>
<path d="M1311.6 2218.7 H1323.1" stroke="#0d0d0d" stroke-width="2.6874599999999997"/>
<text x="1308.8" y="2225.7" font-size="19.7" text-anchor="end" fill="#141414" xml:space="preserve">15</text>
<path d="M1311.6 2146.1 H1323.1" stroke="#0d0d0d" stroke-width="2.6874599999999997"/>
<text x="1308.8" y="2153.2" font-size="19.7" text-anchor="end" fill="#141414" xml:space="preserve">20</text>
<path d="M1311.6 2073.6 H1323.1" stroke="#0d0d0d" stroke-width="2.6874599999999997"/>
<text x="1308.8" y="2080.7" font-size="19.7" text-anchor="end" fill="#141414" xml:space="preserve">25</text>
<path d="M1323.1 2436.3 V2447.8" stroke="#0d0d0d" stroke-width="2.6874599999999997"/>
<text x="1323.1" y="2467.9" font-size="19.7" text-anchor="middle" fill="#141414" xml:space="preserve">0</text>
<path d="M1364.8 2436.3 V2447.8" stroke="#0d0d0d" stroke-width="2.6874599999999997"/>
<text x="1364.8" y="2467.9" font-size="19.7" text-anchor="middle" fill="#141414" xml:space="preserve">2</text>
<path d="M1406.6 2436.3 V2447.8" stroke="#0d0d0d" stroke-width="2.6874599999999997"/>
<text x="1406.6" y="2467.9" font-size="19.7" text-anchor="middle" fill="#141414" xml:space="preserve">4</text>
<path d="M1448.3 2436.3 V2447.8" stroke="#0d0d0d" stroke-width="2.6874599999999997"/>
<text x="1448.3" y="2467.9" font-size="19.7" text-anchor="middle" fill="#141414" xml:space="preserve">6</text>
<text x="1386.2" y="2050.3" font-size="34" text-anchor="middle" fill="#141414" xml:space="preserve">EBV-EBNA</text>
<text x="1385.7" y="2498.6" font-size="25.5" text-anchor="middle" fill="#141414" xml:space="preserve">months</text>
<text x="1277" y="2251.7" font-size="25.5" text-anchor="middle" fill="#141414" transform="rotate(-90 1277 2251.7)" xml:space="preserve">OD450 nm</text>
<g fill="none" stroke="#a9a9ad" stroke-width="1.3" stroke-linejoin="round">
<path d="M1323.1 2151.9 L1448.3 2118.6"/>
<path d="M1323.1 2156.3 L1448.3 2243.3"/>
<path d="M1323.1 2160.6 L1448.3 2276.7"/>
<path d="M1323.1 2189.7 L1448.3 2165"/>
<path d="M1323.1 2192.6 L1448.3 2240.4"/>
<path d="M1323.1 2196.9 L1448.3 2247.7"/>
<path d="M1323.1 2211.4 L1448.3 2205.6"/>
<path d="M1323.1 2214.3 L1448.3 2327.5"/>
<path d="M1323.1 2218.7 L1448.3 2363.8"/>
<path d="M1323.1 2236.1 L1448.3 2170.8"/>
<path d="M1323.1 2269.5 L1448.3 2268"/>
<path d="M1323.1 2286.9 L1448.3 2191.1"/>
<path d="M1323.1 2297 L1448.3 2167.9"/>
<path d="M1323.1 2284 L1448.3 2324.6"/>
<path d="M1323.1 2324.6 L1448.3 2326"/>
<path d="M1323.1 2342 L1448.3 2162.1"/>
<path d="M1323.1 2388.4 L1448.3 2331.8"/>
<path d="M1323.1 2407.3 L1448.3 2336.2"/>
<path d="M1323.1 2411.6 L1448.3 2360.9"/>
<path d="M1323.1 2418.9 L1448.3 2371"/>
<path d="M1323.1 2429 L1448.3 2418.9"/>
<path d="M1323.1 2433.4 L1448.3 2436.3"/>
<path d="M1323.1 2254.9 L1448.3 2315.9"/>
</g>
<g>
<circle cx="1323.1" cy="2151.9" r="6.1" fill="none" stroke="#a6a6a6" stroke-width="1.5"/>
<circle cx="1448.3" cy="2118.6" r="6.1" fill="none" stroke="#a6a6a6" stroke-width="1.5"/>
<rect x="1316.7" y="2149.8" width="12.9" height="12.9" fill="none" stroke="#a6a6a6" stroke-width="1.5"/>
<rect x="1441.9" y="2236.9" width="12.9" height="12.9" fill="none" stroke="#a6a6a6" stroke-width="1.5"/>
<circle cx="1323.1" cy="2160.6" r="6.1" fill="none" stroke="#a6a6a6" stroke-width="1.5"/>
<circle cx="1448.3" cy="2276.7" r="6.1" fill="none" stroke="#a6a6a6" stroke-width="1.5"/>
<rect x="1316.7" y="2183.2" width="12.9" height="12.9" fill="none" stroke="#a6a6a6" stroke-width="1.5"/>
<rect x="1441.9" y="2158.6" width="12.9" height="12.9" fill="none" stroke="#a6a6a6" stroke-width="1.5"/>
<circle cx="1323.1" cy="2192.6" r="6.1" fill="none" stroke="#a6a6a6" stroke-width="1.5"/>
<rect x="1441.9" y="2234" width="12.9" height="12.9" fill="none" stroke="#a6a6a6" stroke-width="1.5"/>
<rect x="1316.7" y="2190.5" width="12.9" height="12.9" fill="none" stroke="#a6a6a6" stroke-width="1.5"/>
<rect x="1441.9" y="2241.2" width="12.9" height="12.9" fill="none" stroke="#a6a6a6" stroke-width="1.5"/>
<rect x="1316.7" y="2205" width="12.9" height="12.9" fill="none" stroke="#a6a6a6" stroke-width="1.5"/>
<circle cx="1448.3" cy="2205.6" r="6.1" fill="none" stroke="#a6a6a6" stroke-width="1.5"/>
<rect x="1316.7" y="2207.9" width="12.9" height="12.9" fill="none" stroke="#a6a6a6" stroke-width="1.5"/>
<rect x="1441.9" y="2321" width="12.9" height="12.9" fill="none" stroke="#a6a6a6" stroke-width="1.5"/>
<circle cx="1323.1" cy="2218.7" r="6.1" fill="none" stroke="#a6a6a6" stroke-width="1.5"/>
<rect x="1441.9" y="2357.3" width="12.9" height="12.9" fill="none" stroke="#a6a6a6" stroke-width="1.5"/>
<circle cx="1323.1" cy="2236.1" r="6.1" fill="none" stroke="#a6a6a6" stroke-width="1.5"/>
<rect x="1441.9" y="2164.4" width="12.9" height="12.9" fill="none" stroke="#a6a6a6" stroke-width="1.5"/>
<circle cx="1323.1" cy="2269.5" r="6.1" fill="none" stroke="#a6a6a6" stroke-width="1.5"/>
<path d="M1448.3 2261.6 L1455.3 2272.7 L1441.3 2272.7 Z" fill="none" stroke="#a6a6a6" stroke-width="1.5"/>
<rect x="1316.7" y="2280.4" width="12.9" height="12.9" fill="none" stroke="#a6a6a6" stroke-width="1.5"/>
<rect x="1441.9" y="2184.7" width="12.9" height="12.9" fill="none" stroke="#a6a6a6" stroke-width="1.5"/>
<rect x="1316.7" y="2290.6" width="12.9" height="12.9" fill="none" stroke="#a6a6a6" stroke-width="1.5"/>
<rect x="1441.9" y="2161.5" width="12.9" height="12.9" fill="none" stroke="#a6a6a6" stroke-width="1.5"/>
<rect x="1316.7" y="2277.5" width="12.9" height="12.9" fill="none" stroke="#a6a6a6" stroke-width="1.5"/>
<rect x="1441.9" y="2318.1" width="12.9" height="12.9" fill="none" stroke="#a6a6a6" stroke-width="1.5"/>
<circle cx="1323.1" cy="2324.6" r="6.1" fill="none" stroke="#a6a6a6" stroke-width="1.5"/>
<rect x="1441.9" y="2319.6" width="12.9" height="12.9" fill="none" stroke="#a6a6a6" stroke-width="1.5"/>
<rect x="1316.7" y="2335.5" width="12.9" height="12.9" fill="none" stroke="#a6a6a6" stroke-width="1.5"/>
<rect x="1441.9" y="2155.6" width="12.9" height="12.9" fill="none" stroke="#a6a6a6" stroke-width="1.5"/>
<rect x="1316.7" y="2382" width="12.9" height="12.9" fill="none" stroke="#a6a6a6" stroke-width="1.5"/>
<rect x="1441.9" y="2325.4" width="12.9" height="12.9" fill="none" stroke="#a6a6a6" stroke-width="1.5"/>
<circle cx="1323.1" cy="2407.3" r="6.1" fill="none" stroke="#a6a6a6" stroke-width="1.5"/>
<rect x="1441.9" y="2329.7" width="12.9" height="12.9" fill="none" stroke="#a6a6a6" stroke-width="1.5"/>
<rect x="1316.7" y="2405.2" width="12.9" height="12.9" fill="none" stroke="#a6a6a6" stroke-width="1.5"/>
<rect x="1441.9" y="2354.4" width="12.9" height="12.9" fill="none" stroke="#a6a6a6" stroke-width="1.5"/>
<circle cx="1323.1" cy="2418.9" r="6.1" fill="none" stroke="#a6a6a6" stroke-width="1.5"/>
<rect x="1441.9" y="2364.6" width="12.9" height="12.9" fill="none" stroke="#a6a6a6" stroke-width="1.5"/>
<circle cx="1323.1" cy="2429" r="6.1" fill="none" stroke="#a6a6a6" stroke-width="1.5"/>
<rect x="1441.9" y="2412.4" width="12.9" height="12.9" fill="none" stroke="#a6a6a6" stroke-width="1.5"/>
<circle cx="1323.1" cy="2433.4" r="6.1" fill="none" stroke="#a6a6a6" stroke-width="1.5"/>
<circle cx="1448.3" cy="2436.3" r="6.1" fill="none" stroke="#a6a6a6" stroke-width="1.5"/>
<circle cx="1323.1" cy="2254.9" r="6.1" fill="none" stroke="#a6a6a6" stroke-width="1.5"/>
<path d="M1448.3 2309.4 L1455.3 2320.5 L1441.3 2320.5 Z" fill="none" stroke="#a6a6a6" stroke-width="1.5"/>
</g>
<path d="M1324.1 2425.9 H1448.3" stroke="#f08f7e" stroke-width="3.0" stroke-dasharray="2.4 1.2" fill="none"/>
<path d="M1323.1 2275.3 L1448.3 2294.1" fill="none" stroke="#b51c00" stroke-width="3.2" stroke-linejoin="round"/>
<path d="M1323.1 2264.8 L1333.6 2275.3 L1323.1 2285.8 L1312.6 2275.3 Z" fill="#b51c00" stroke="#b51c00" stroke-width="0.5"/>
<path d="M1448.3 2283.6 L1458.8 2294.1 L1448.3 2304.6 L1437.8 2294.1 Z" fill="#b51c00" stroke="#b51c00" stroke-width="0.5"/>
</g>
<g>
<path d="M1591.4 2074.5 V2434.1 H1717.4" fill="none" stroke="#0d0d0d" stroke-width="3.314534" stroke-linejoin="miter"/>
<path d="M1579.9 2434.1 H1591.4" stroke="#0d0d0d" stroke-width="2.6874599999999997"/>
<text x="1577.1" y="2441.2" font-size="19.7" text-anchor="end" fill="#141414" xml:space="preserve">0</text>
<path d="M1579.9 2362.4 H1591.4" stroke="#0d0d0d" stroke-width="2.6874599999999997"/>
<text x="1577.1" y="2369.5" font-size="19.7" text-anchor="end" fill="#141414" xml:space="preserve">1</text>
<path d="M1579.9 2290.8 H1591.4" stroke="#0d0d0d" stroke-width="2.6874599999999997"/>
<text x="1577.1" y="2297.8" font-size="19.7" text-anchor="end" fill="#141414" xml:space="preserve">2</text>
<path d="M1579.9 2219.1 H1591.4" stroke="#0d0d0d" stroke-width="2.6874599999999997"/>
<text x="1577.1" y="2226.2" font-size="19.7" text-anchor="end" fill="#141414" xml:space="preserve">3</text>
<path d="M1579.9 2147.5 H1591.4" stroke="#0d0d0d" stroke-width="2.6874599999999997"/>
<text x="1577.1" y="2154.5" font-size="19.7" text-anchor="end" fill="#141414" xml:space="preserve">4</text>
<path d="M1579.9 2075.8 H1591.4" stroke="#0d0d0d" stroke-width="2.6874599999999997"/>
<text x="1577.1" y="2082.9" font-size="19.7" text-anchor="end" fill="#141414" xml:space="preserve">5</text>
<path d="M1591.4 2434.1 V2445.6" stroke="#0d0d0d" stroke-width="2.6874599999999997"/>
<text x="1591.4" y="2465.7" font-size="19.7" text-anchor="middle" fill="#141414" xml:space="preserve">0</text>
<path d="M1633 2434.1 V2445.6" stroke="#0d0d0d" stroke-width="2.6874599999999997"/>
<text x="1633" y="2465.7" font-size="19.7" text-anchor="middle" fill="#141414" xml:space="preserve">2</text>
<path d="M1674.5 2434.1 V2445.6" stroke="#0d0d0d" stroke-width="2.6874599999999997"/>
<text x="1674.5" y="2465.7" font-size="19.7" text-anchor="middle" fill="#141414" xml:space="preserve">4</text>
<path d="M1716.1 2434.1 V2445.6" stroke="#0d0d0d" stroke-width="2.6874599999999997"/>
<text x="1716.1" y="2465.7" font-size="19.7" text-anchor="middle" fill="#141414" xml:space="preserve">6</text>
<text x="1662.1" y="2053" font-size="34" text-anchor="middle" fill="#141414" xml:space="preserve">Tetanus</text>
<text x="1653.7" y="2496.4" font-size="25.2" text-anchor="middle" fill="#141414" xml:space="preserve">months</text>
<text x="1557.8" y="2252.2" font-size="25.2" text-anchor="middle" fill="#141414" transform="rotate(-90 1557.8 2252.2)" xml:space="preserve">OD450 nm</text>
<g fill="none" stroke="#a9a9ad" stroke-width="1.3" stroke-linejoin="round">
<path d="M1591.4 2123.8 L1716.1 2161.1"/>
<path d="M1591.4 2127.4 L1716.1 2337.4"/>
<path d="M1591.4 2200.5 L1716.1 2166.8"/>
<path d="M1591.4 2251.4 L1716.1 2257.8"/>
<path d="M1591.4 2294.4 L1716.1 2333.8"/>
<path d="M1591.4 2301.5 L1716.1 2337.4"/>
<path d="M1591.4 2306.5 L1716.1 2355.3"/>
<path d="M1591.4 2310.8 L1716.1 2412.6"/>
<path d="M1591.4 2312.3 L1716.1 2313.7"/>
<path d="M1591.4 2333.8 L1716.1 2412.6"/>
<path d="M1591.4 2355.3 L1716.1 2260"/>
<path d="M1591.4 2348.1 L1716.1 2340.9"/>
<path d="M1591.4 2362.4 L1716.1 2355.3"/>
<path d="M1591.4 2366 L1716.1 2369.6"/>
<path d="M1591.4 2398.3 L1716.1 2376.8"/>
<path d="M1591.4 2401.9 L1716.1 2398.3"/>
<path d="M1591.4 2405.4 L1716.1 2419.8"/>
<path d="M1591.4 2412.6 L1716.1 2409"/>
<path d="M1591.4 2419.8 L1716.1 2423.4"/>
<path d="M1591.4 2423.4 L1716.1 2419.8"/>
<path d="M1591.4 2426.9 L1716.1 2426.9"/>
<path d="M1591.4 2430.5 L1716.1 2430.5"/>
<path d="M1591.4 2434.1 L1716.1 2434.1"/>
</g>
<g>
<circle cx="1591.4" cy="2123.8" r="6.1" fill="none" stroke="#a6a6a6" stroke-width="1.5"/>
<circle cx="1716.1" cy="2161.1" r="6.1" fill="none" stroke="#a6a6a6" stroke-width="1.5"/>
<circle cx="1591.4" cy="2127.4" r="6.1" fill="none" stroke="#a6a6a6" stroke-width="1.5"/>
<circle cx="1716.1" cy="2337.4" r="6.1" fill="none" stroke="#a6a6a6" stroke-width="1.5"/>
<circle cx="1591.4" cy="2200.5" r="6.1" fill="none" stroke="#a6a6a6" stroke-width="1.5"/>
<circle cx="1716.1" cy="2166.8" r="6.1" fill="none" stroke="#a6a6a6" stroke-width="1.5"/>
<circle cx="1591.4" cy="2251.4" r="6.1" fill="none" stroke="#a6a6a6" stroke-width="1.5"/>
<circle cx="1716.1" cy="2257.8" r="6.1" fill="none" stroke="#a6a6a6" stroke-width="1.5"/>
<rect x="1585" y="2287.9" width="12.9" height="12.9" fill="none" stroke="#a6a6a6" stroke-width="1.5"/>
<rect x="1709.7" y="2327.3" width="12.9" height="12.9" fill="none" stroke="#a6a6a6" stroke-width="1.5"/>
<rect x="1585" y="2295.1" width="12.9" height="12.9" fill="none" stroke="#a6a6a6" stroke-width="1.5"/>
<circle cx="1716.1" cy="2337.4" r="6.1" fill="none" stroke="#a6a6a6" stroke-width="1.5"/>
<rect x="1585" y="2300.1" width="12.9" height="12.9" fill="none" stroke="#a6a6a6" stroke-width="1.5"/>
<rect x="1709.7" y="2348.8" width="12.9" height="12.9" fill="none" stroke="#a6a6a6" stroke-width="1.5"/>
<rect x="1585" y="2304.4" width="12.9" height="12.9" fill="none" stroke="#a6a6a6" stroke-width="1.5"/>
<rect x="1709.7" y="2406.2" width="12.9" height="12.9" fill="none" stroke="#a6a6a6" stroke-width="1.5"/>
<circle cx="1591.4" cy="2312.3" r="6.1" fill="none" stroke="#a6a6a6" stroke-width="1.5"/>
<circle cx="1716.1" cy="2313.7" r="6.1" fill="none" stroke="#a6a6a6" stroke-width="1.5"/>
<rect x="1585" y="2327.3" width="12.9" height="12.9" fill="none" stroke="#a6a6a6" stroke-width="1.5"/>
<rect x="1709.7" y="2406.2" width="12.9" height="12.9" fill="none" stroke="#a6a6a6" stroke-width="1.5"/>
<circle cx="1591.4" cy="2355.3" r="6.1" fill="none" stroke="#a6a6a6" stroke-width="1.5"/>
<circle cx="1716.1" cy="2260" r="6.1" fill="none" stroke="#a6a6a6" stroke-width="1.5"/>
<rect x="1585" y="2341.7" width="12.9" height="12.9" fill="none" stroke="#a6a6a6" stroke-width="1.5"/>
<rect x="1709.7" y="2334.5" width="12.9" height="12.9" fill="none" stroke="#a6a6a6" stroke-width="1.5"/>
<rect x="1585" y="2356" width="12.9" height="12.9" fill="none" stroke="#a6a6a6" stroke-width="1.5"/>
<rect x="1709.7" y="2348.8" width="12.9" height="12.9" fill="none" stroke="#a6a6a6" stroke-width="1.5"/>
<rect x="1585" y="2359.6" width="12.9" height="12.9" fill="none" stroke="#a6a6a6" stroke-width="1.5"/>
<rect x="1709.7" y="2363.2" width="12.9" height="12.9" fill="none" stroke="#a6a6a6" stroke-width="1.5"/>
<circle cx="1591.4" cy="2398.3" r="6.1" fill="none" stroke="#a6a6a6" stroke-width="1.5"/>
<rect x="1709.7" y="2370.3" width="12.9" height="12.9" fill="none" stroke="#a6a6a6" stroke-width="1.5"/>
<circle cx="1591.4" cy="2401.9" r="6.1" fill="none" stroke="#a6a6a6" stroke-width="1.5"/>
<rect x="1709.7" y="2391.8" width="12.9" height="12.9" fill="none" stroke="#a6a6a6" stroke-width="1.5"/>
<circle cx="1591.4" cy="2405.4" r="6.1" fill="none" stroke="#a6a6a6" stroke-width="1.5"/>
<rect x="1709.7" y="2413.3" width="12.9" height="12.9" fill="none" stroke="#a6a6a6" stroke-width="1.5"/>
<circle cx="1591.4" cy="2412.6" r="6.1" fill="none" stroke="#a6a6a6" stroke-width="1.5"/>
<rect x="1709.7" y="2402.6" width="12.9" height="12.9" fill="none" stroke="#a6a6a6" stroke-width="1.5"/>
<circle cx="1591.4" cy="2419.8" r="6.1" fill="none" stroke="#a6a6a6" stroke-width="1.5"/>
<rect x="1709.7" y="2416.9" width="12.9" height="12.9" fill="none" stroke="#a6a6a6" stroke-width="1.5"/>
<circle cx="1591.4" cy="2423.4" r="6.1" fill="none" stroke="#a6a6a6" stroke-width="1.5"/>
<rect x="1709.7" y="2413.3" width="12.9" height="12.9" fill="none" stroke="#a6a6a6" stroke-width="1.5"/>
<circle cx="1591.4" cy="2426.9" r="6.1" fill="none" stroke="#a6a6a6" stroke-width="1.5"/>
<rect x="1709.7" y="2420.5" width="12.9" height="12.9" fill="none" stroke="#a6a6a6" stroke-width="1.5"/>
<circle cx="1591.4" cy="2430.5" r="6.1" fill="none" stroke="#a6a6a6" stroke-width="1.5"/>
<rect x="1709.7" y="2424.1" width="12.9" height="12.9" fill="none" stroke="#a6a6a6" stroke-width="1.5"/>
<circle cx="1591.4" cy="2434.1" r="6.1" fill="none" stroke="#a6a6a6" stroke-width="1.5"/>
<rect x="1709.7" y="2427.7" width="12.9" height="12.9" fill="none" stroke="#a6a6a6" stroke-width="1.5"/>
</g>
<path d="M1592.4 2428.4 H1716.1" stroke="#f08f7e" stroke-width="3.2" stroke-dasharray="2.4 1.2" fill="none"/>
<path d="M1591.4 2355.3 L1716.1 2382.5" fill="none" stroke="#5ea897" stroke-width="3.2" stroke-linejoin="round"/>
<path d="M1591.4 2344.8 L1601.9 2355.3 L1591.4 2365.8 L1580.9 2355.3 Z" fill="#5ea897" stroke="#5ea897" stroke-width="0.5"/>
<path d="M1716.1 2372 L1726.6 2382.5 L1716.1 2393 L1705.6 2382.5 Z" fill="#5ea897" stroke="#5ea897" stroke-width="0.5"/>
</g>
<g>
<path d="M1854.3 2078.8 V2434.1 H1978.1" fill="none" stroke="#0d0d0d" stroke-width="3.314534" stroke-linejoin="miter"/>
<path d="M1842.8 2434.1 H1854.3" stroke="#0d0d0d" stroke-width="2.6874599999999997"/>
<text x="1840" y="2441.2" font-size="19.7" text-anchor="end" fill="#141414" xml:space="preserve">0</text>
<path d="M1842.8 2363.3 H1854.3" stroke="#0d0d0d" stroke-width="2.6874599999999997"/>
<text x="1840" y="2370.4" font-size="19.7" text-anchor="end" fill="#141414" xml:space="preserve">2</text>
<path d="M1842.8 2292.5 H1854.3" stroke="#0d0d0d" stroke-width="2.6874599999999997"/>
<text x="1840" y="2299.6" font-size="19.7" text-anchor="end" fill="#141414" xml:space="preserve">4</text>
<path d="M1842.8 2221.7 H1854.3" stroke="#0d0d0d" stroke-width="2.6874599999999997"/>
<text x="1840" y="2228.8" font-size="19.7" text-anchor="end" fill="#141414" xml:space="preserve">6</text>
<path d="M1842.8 2150.9 H1854.3" stroke="#0d0d0d" stroke-width="2.6874599999999997"/>
<text x="1840" y="2158" font-size="19.7" text-anchor="end" fill="#141414" xml:space="preserve">8</text>
<path d="M1842.8 2080.1 H1854.3" stroke="#0d0d0d" stroke-width="2.6874599999999997"/>
<text x="1840" y="2087.2" font-size="19.7" text-anchor="end" fill="#141414" xml:space="preserve">10</text>
<path d="M1854.3 2434.1 V2445.6" stroke="#0d0d0d" stroke-width="2.6874599999999997"/>
<text x="1854.3" y="2465.7" font-size="19.7" text-anchor="middle" fill="#141414" xml:space="preserve">0</text>
<path d="M1895.1 2434.1 V2445.6" stroke="#0d0d0d" stroke-width="2.6874599999999997"/>
<text x="1895.1" y="2465.7" font-size="19.7" text-anchor="middle" fill="#141414" xml:space="preserve">2</text>
<path d="M1936 2434.1 V2445.6" stroke="#0d0d0d" stroke-width="2.6874599999999997"/>
<text x="1936" y="2465.7" font-size="19.7" text-anchor="middle" fill="#141414" xml:space="preserve">4</text>
<path d="M1976.8 2434.1 V2445.6" stroke="#0d0d0d" stroke-width="2.6874599999999997"/>
<text x="1976.8" y="2465.7" font-size="19.7" text-anchor="middle" fill="#141414" xml:space="preserve">6</text>
<text x="1921.8" y="2058.4" font-size="34" text-anchor="middle" fill="#141414" xml:space="preserve">SARS-CoV-2</text>
<text x="1915.6" y="2494.8" font-size="24.7" text-anchor="middle" fill="#141414" xml:space="preserve">months</text>
<text x="1809.9" y="2254.9" font-size="24.7" text-anchor="middle" fill="#141414" transform="rotate(-90 1809.9 2254.9)" xml:space="preserve">OD450 nm</text>
<g fill="none" stroke="#a9a9ad" stroke-width="1.3" stroke-linejoin="round">
<path d="M1854.3 2106.7 L1976.8 2186.3"/>
<path d="M1854.3 2117.6 L1976.8 2135"/>
<path d="M1854.3 2115.5 L1976.8 2345.6"/>
<path d="M1854.3 2147.4 L1976.8 2193.4"/>
<path d="M1854.3 2150.9 L1976.8 2189.8"/>
<path d="M1854.3 2161.5 L1976.8 2232.3"/>
<path d="M1854.3 2168.6 L1976.8 2303.1"/>
<path d="M1854.3 2175.7 L1976.8 2322.6"/>
<path d="M1854.3 2179.2 L1976.8 2349.1"/>
<path d="M1854.3 2186.3 L1976.8 2363.3"/>
<path d="M1854.3 2189.8 L1976.8 2395.2"/>
<path d="M1854.3 2214.6 L1976.8 2230.5"/>
<path d="M1854.3 2235.9 L1976.8 2234.1"/>
<path d="M1854.3 2239.4 L1976.8 2264.9"/>
<path d="M1854.3 2241.2 L1976.8 2398.7"/>
<path d="M1854.3 2278.3 L1976.8 2349.1"/>
<path d="M1854.3 2283.7 L1976.8 2366.8"/>
<path d="M1854.3 2285.4 L1976.8 2402.2"/>
<path d="M1854.3 2326.1 L1976.8 2342.1"/>
<path d="M1854.3 2327.9 L1976.8 2356.2"/>
<path d="M1854.3 2363.3 L1976.8 2359.8"/>
<path d="M1854.3 2365.1 L1976.8 2412.9"/>
<path d="M1854.3 2407.2 L1976.8 2402.2"/>
<path d="M1854.3 2423.5 L1976.8 2428.8"/>
<path d="M1854.3 2430.6 L1976.8 2432.3"/>
<path d="M1854.3 2434.1 L1976.8 2434.1"/>
</g>
<g>
<rect x="1847.9" y="2100.2" width="12.9" height="12.9" fill="none" stroke="#a6a6a6" stroke-width="1.5"/>
<rect x="1970.4" y="2179.9" width="12.9" height="12.9" fill="none" stroke="#a6a6a6" stroke-width="1.5"/>
<rect x="1847.9" y="2111.2" width="12.9" height="12.9" fill="none" stroke="#a6a6a6" stroke-width="1.5"/>
<circle cx="1976.8" cy="2135" r="6.1" fill="none" stroke="#a6a6a6" stroke-width="1.5"/>
<rect x="1847.9" y="2109.1" width="12.9" height="12.9" fill="none" stroke="#a6a6a6" stroke-width="1.5"/>
<rect x="1970.4" y="2339.2" width="12.9" height="12.9" fill="none" stroke="#a6a6a6" stroke-width="1.5"/>
<circle cx="1854.3" cy="2147.4" r="6.1" fill="none" stroke="#a6a6a6" stroke-width="1.5"/>
<circle cx="1976.8" cy="2193.4" r="6.1" fill="none" stroke="#a6a6a6" stroke-width="1.5"/>
<rect x="1847.9" y="2144.5" width="12.9" height="12.9" fill="none" stroke="#a6a6a6" stroke-width="1.5"/>
<rect x="1970.4" y="2183.4" width="12.9" height="12.9" fill="none" stroke="#a6a6a6" stroke-width="1.5"/>
<circle cx="1854.3" cy="2161.5" r="6.1" fill="none" stroke="#a6a6a6" stroke-width="1.5"/>
<rect x="1970.4" y="2225.9" width="12.9" height="12.9" fill="none" stroke="#a6a6a6" stroke-width="1.5"/>
<circle cx="1854.3" cy="2168.6" r="6.1" fill="none" stroke="#a6a6a6" stroke-width="1.5"/>
<circle cx="1976.8" cy="2303.1" r="6.1" fill="none" stroke="#a6a6a6" stroke-width="1.5"/>
<circle cx="1854.3" cy="2175.7" r="6.1" fill="none" stroke="#a6a6a6" stroke-width="1.5"/>
<circle cx="1976.8" cy="2322.6" r="6.1" fill="none" stroke="#a6a6a6" stroke-width="1.5"/>
<rect x="1847.9" y="2172.8" width="12.9" height="12.9" fill="none" stroke="#a6a6a6" stroke-width="1.5"/>
<rect x="1970.4" y="2342.7" width="12.9" height="12.9" fill="none" stroke="#a6a6a6" stroke-width="1.5"/>
<circle cx="1854.3" cy="2186.3" r="6.1" fill="none" stroke="#a6a6a6" stroke-width="1.5"/>
<rect x="1970.4" y="2356.9" width="12.9" height="12.9" fill="none" stroke="#a6a6a6" stroke-width="1.5"/>
<circle cx="1854.3" cy="2189.8" r="6.1" fill="none" stroke="#a6a6a6" stroke-width="1.5"/>
<rect x="1970.4" y="2388.7" width="12.9" height="12.9" fill="none" stroke="#a6a6a6" stroke-width="1.5"/>
<circle cx="1854.3" cy="2214.6" r="6.1" fill="none" stroke="#a6a6a6" stroke-width="1.5"/>
<path d="M1976.8 2224.1 L1983.8 2235.2 L1969.8 2235.2 Z" fill="none" stroke="#a6a6a6" stroke-width="1.5"/>
<circle cx="1854.3" cy="2235.9" r="6.1" fill="none" stroke="#a6a6a6" stroke-width="1.5"/>
<rect x="1970.4" y="2227.6" width="12.9" height="12.9" fill="none" stroke="#a6a6a6" stroke-width="1.5"/>
<circle cx="1854.3" cy="2239.4" r="6.1" fill="none" stroke="#a6a6a6" stroke-width="1.5"/>
<rect x="1970.4" y="2258.4" width="12.9" height="12.9" fill="none" stroke="#a6a6a6" stroke-width="1.5"/>
<circle cx="1854.3" cy="2241.2" r="6.1" fill="none" stroke="#a6a6a6" stroke-width="1.5"/>
<rect x="1970.4" y="2392.3" width="12.9" height="12.9" fill="none" stroke="#a6a6a6" stroke-width="1.5"/>
<rect x="1847.9" y="2271.9" width="12.9" height="12.9" fill="none" stroke="#a6a6a6" stroke-width="1.5"/>
<rect x="1970.4" y="2342.7" width="12.9" height="12.9" fill="none" stroke="#a6a6a6" stroke-width="1.5"/>
<rect x="1847.9" y="2277.2" width="12.9" height="12.9" fill="none" stroke="#a6a6a6" stroke-width="1.5"/>
<rect x="1970.4" y="2360.4" width="12.9" height="12.9" fill="none" stroke="#a6a6a6" stroke-width="1.5"/>
<rect x="1847.9" y="2279" width="12.9" height="12.9" fill="none" stroke="#a6a6a6" stroke-width="1.5"/>
<rect x="1970.4" y="2395.8" width="12.9" height="12.9" fill="none" stroke="#a6a6a6" stroke-width="1.5"/>
<rect x="1847.9" y="2319.7" width="12.9" height="12.9" fill="none" stroke="#a6a6a6" stroke-width="1.5"/>
<rect x="1970.4" y="2335.6" width="12.9" height="12.9" fill="none" stroke="#a6a6a6" stroke-width="1.5"/>
<rect x="1847.9" y="2321.5" width="12.9" height="12.9" fill="none" stroke="#a6a6a6" stroke-width="1.5"/>
<rect x="1970.4" y="2349.8" width="12.9" height="12.9" fill="none" stroke="#a6a6a6" stroke-width="1.5"/>
<circle cx="1854.3" cy="2363.3" r="6.1" fill="none" stroke="#a6a6a6" stroke-width="1.5"/>
<rect x="1970.4" y="2353.3" width="12.9" height="12.9" fill="none" stroke="#a6a6a6" stroke-width="1.5"/>
<circle cx="1854.3" cy="2365.1" r="6.1" fill="none" stroke="#a6a6a6" stroke-width="1.5"/>
<path d="M1976.8 2406.4 L1983.8 2417.5 L1969.8 2417.5 Z" fill="none" stroke="#a6a6a6" stroke-width="1.5"/>
<rect x="1847.9" y="2400.7" width="12.9" height="12.9" fill="none" stroke="#a6a6a6" stroke-width="1.5"/>
<rect x="1970.4" y="2395.8" width="12.9" height="12.9" fill="none" stroke="#a6a6a6" stroke-width="1.5"/>
<rect x="1847.9" y="2417" width="12.9" height="12.9" fill="none" stroke="#a6a6a6" stroke-width="1.5"/>
<rect x="1970.4" y="2422.3" width="12.9" height="12.9" fill="none" stroke="#a6a6a6" stroke-width="1.5"/>
<rect x="1847.9" y="2424.1" width="12.9" height="12.9" fill="none" stroke="#a6a6a6" stroke-width="1.5"/>
<rect x="1970.4" y="2425.9" width="12.9" height="12.9" fill="none" stroke="#a6a6a6" stroke-width="1.5"/>
<circle cx="1854.3" cy="2434.1" r="6.1" fill="none" stroke="#a6a6a6" stroke-width="1.5"/>
<rect x="1970.4" y="2427.7" width="12.9" height="12.9" fill="none" stroke="#a6a6a6" stroke-width="1.5"/>
</g>
<path d="M1855.3 2414.6 H1976.8" stroke="#f08f7e" stroke-width="3.0" stroke-dasharray="2.4 1.2" fill="none"/>
<path d="M1854.3 2209.3 L1976.8 2343.8" fill="none" stroke="#6b28b8" stroke-width="3.4" stroke-linejoin="round"/>
<path d="M1854.3 2198.8 L1864.8 2209.3 L1854.3 2219.8 L1843.8 2209.3 Z" fill="#6b28b8" stroke="#6b28b8" stroke-width="0.5"/>
<path d="M1976.8 2333.3 L1987.3 2343.8 L1976.8 2354.3 L1966.3 2343.8 Z" fill="#6b28b8" stroke="#6b28b8" stroke-width="0.5"/>
</g>
</svg></body></html>
